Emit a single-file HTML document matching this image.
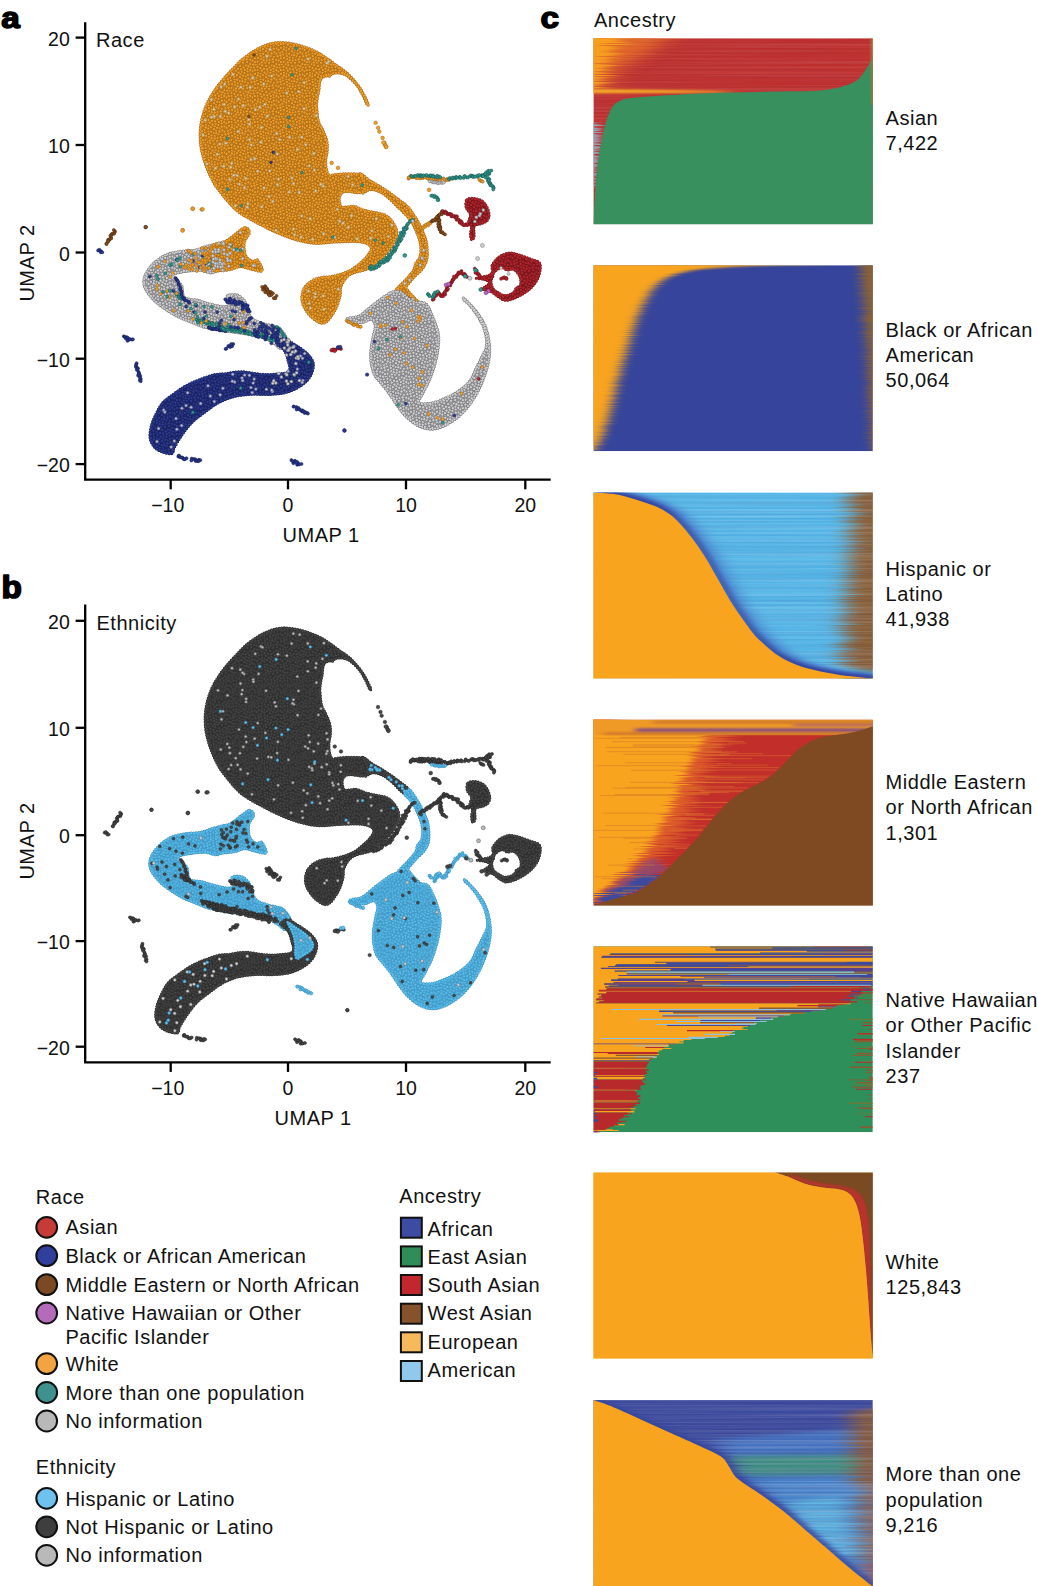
<!DOCTYPE html>
<html lang="en"><head><meta charset="utf-8"><title>UMAP of race, ethnicity and ancestry</title>
<style>
html,body{margin:0;padding:0;background:#fff}
svg{display:block}
text{font-family:"Liberation Sans",Arial,Helvetica,sans-serif;fill:#111}
.t{font-size:20px;letter-spacing:.52px}
.tk{font-size:19.5px}
.pl{font-size:29.5px;font-weight:bold;stroke:#000;stroke-width:1.5px;stroke-linejoin:round;fill:#000}
.ax{stroke:#000;stroke-width:2.3;fill:none;stroke-linecap:butt}
</style></head><body>
<svg width="1037" height="1586" viewBox="0 0 1037 1586">
<rect width="1037" height="1586" fill="#fff"/>

<defs><g id="dt" stroke-width=".62"><circle cx="6.2" cy="14.1" r="1.6"/><circle cx="9.6" cy="15.7" r="1.6"/><circle cx="16.3" cy="1.7" r="1.6"/><circle cx="16.3" cy="27.7" r="1.6"/><circle cx="0.3" cy="21.8" r="1.6"/><circle cx="26.3" cy="21.8" r="1.6"/><circle cx="6.7" cy="6.1" r="1.6"/><circle cx="-0.1" cy="12.2" r="1.6"/><circle cx="25.9" cy="12.2" r="1.6"/><circle cx="21.7" cy="12.4" r="1.6"/><circle cx="16.5" cy="22.6" r="1.6"/><circle cx="13.6" cy="19.3" r="1.6"/><circle cx="19.7" cy="15.4" r="1.6"/><circle cx="7.8" cy="0.8" r="1.6"/><circle cx="7.8" cy="26.8" r="1.6"/><circle cx="18.6" cy="23.9" r="1.6"/><circle cx="10.3" cy="20.8" r="1.6"/><circle cx="11.6" cy="-1.7" r="1.6"/><circle cx="11.6" cy="24.3" r="1.6"/><circle cx="22.9" cy="2.5" r="1.6"/><circle cx="3.5" cy="5.6" r="1.6"/><circle cx="16.3" cy="7.8" r="1.6"/><circle cx="13.2" cy="10.0" r="1.6"/><circle cx="22.3" cy="-0.2" r="1.6"/><circle cx="22.3" cy="25.8" r="1.6"/><circle cx="17.5" cy="4.2" r="1.6"/><circle cx="23.5" cy="14.8" r="1.6"/><circle cx="10.7" cy="3.9" r="1.6"/><circle cx="7.6" cy="20.0" r="1.6"/><circle cx="18.7" cy="8.6" r="1.6"/><circle cx="5.1" cy="10.6" r="1.6"/><circle cx="23.3" cy="9.8" r="1.6"/><circle cx="12.0" cy="13.5" r="1.6"/><circle cx="16.7" cy="15.5" r="1.6"/><circle cx="14.3" cy="0.3" r="1.6"/><circle cx="14.3" cy="26.3" r="1.6"/><circle cx="0.5" cy="16.0" r="1.6"/><circle cx="26.5" cy="16.0" r="1.6"/><circle cx="16.3" cy="12.1" r="1.6"/><circle cx="18.4" cy="19.2" r="1.6"/><circle cx="0.6" cy="1.6" r="1.6"/><circle cx="0.6" cy="27.6" r="1.6"/><circle cx="26.6" cy="1.6" r="1.6"/><circle cx="26.6" cy="27.6" r="1.6"/><circle cx="9.5" cy="8.1" r="1.6"/><circle cx="20.9" cy="6.2" r="1.6"/><circle cx="5.9" cy="3.1" r="1.6"/><circle cx="13.8" cy="5.0" r="1.6"/><circle cx="21.0" cy="21.8" r="1.6"/><circle cx="9.0" cy="10.8" r="1.6"/><circle cx="0.1" cy="-1.5" r="1.6"/><circle cx="0.1" cy="24.5" r="1.6"/><circle cx="26.1" cy="-1.5" r="1.6"/><circle cx="26.1" cy="24.5" r="1.6"/><circle cx="-1.9" cy="5.8" r="1.6"/><circle cx="24.1" cy="5.8" r="1.6"/><circle cx="23.5" cy="18.0" r="1.6"/><circle cx="6.6" cy="22.4" r="1.6"/><circle cx="4.5" cy="20.6" r="1.6"/><circle cx="24.0" cy="21.0" r="1.6"/><circle cx="1.3" cy="7.1" r="1.6"/><circle cx="27.3" cy="7.1" r="1.6"/><circle cx="3.2" cy="1.8" r="1.6"/><circle cx="3.2" cy="27.8" r="1.6"/><circle cx="2.2" cy="13.1" r="1.6"/><circle cx="10.9" cy="18.0" r="1.6"/><circle cx="20.1" cy="1.2" r="1.6"/><circle cx="20.1" cy="27.2" r="1.6"/><circle cx="7.1" cy="17.3" r="1.6"/><circle cx="2.9" cy="23.1" r="1.6"/><circle cx="1.8" cy="18.6" r="1.6"/><circle cx="27.8" cy="18.6" r="1.6"/><circle cx="20.4" cy="3.7" r="1.6"/><circle cx="1.9" cy="10.4" r="1.6"/><circle cx="27.9" cy="10.4" r="1.6"/><circle cx="4.0" cy="16.8" r="1.6"/><circle cx="6.0" cy="-0.9" r="1.6"/><circle cx="6.0" cy="25.1" r="1.6"/><circle cx="13.5" cy="16.6" r="1.6"/><circle cx="12.7" cy="7.3" r="1.6"/><circle cx="9.2" cy="23.8" r="1.6"/><circle cx="13.8" cy="22.7" r="1.6"/><circle cx="11.5" cy="1.5" r="1.6"/><circle cx="11.5" cy="27.5" r="1.6"/><circle cx="19.2" cy="12.6" r="1.6"/><circle cx="20.9" cy="10.1" r="1.6"/><circle cx="23.8" cy="23.4" r="1.6"/><circle cx="20.8" cy="18.1" r="1.6"/><circle cx="16.3" cy="17.9" r="1.6"/><circle cx="14.4" cy="14.2" r="1.6"/><circle cx="6.6" cy="8.6" r="1.6"/><circle cx="3.7" cy="8.2" r="1.6"/><circle cx="0.8" cy="4.0" r="1.6"/><circle cx="26.8" cy="4.0" r="1.6"/><circle cx="8.3" cy="3.2" r="1.6"/></g><pattern id="por" width="26.0" height="26.0" patternUnits="userSpaceOnUse"><rect width="26.0" height="26.0" fill="#ca821e"/><use href="#dt" fill="#f29d28" stroke="#9a6212"/></pattern><pattern id="pgy" width="26.0" height="26.0" patternUnits="userSpaceOnUse"><rect width="26.0" height="26.0" fill="#a3a3a5"/><use href="#dt" fill="#d0d0d3" stroke="#6c6c6e"/></pattern><pattern id="psp" width="26.0" height="26.0" patternUnits="userSpaceOnUse"><rect width="26.0" height="26.0" fill="#b49d6d"/><use href="#dt" fill="#dccaa6" stroke="#9a7f48"/></pattern><pattern id="psg" width="26.0" height="26.0" patternUnits="userSpaceOnUse"><rect width="26.0" height="26.0" fill="#7d7d7d"/><use href="#dt" fill="#b9b9b9" stroke="#555555"/></pattern><pattern id="psb" width="26.0" height="26.0" patternUnits="userSpaceOnUse"><rect width="26.0" height="26.0" fill="#73779b"/><use href="#dt" fill="#b6b8d0" stroke="#474c78"/></pattern><pattern id="pbl" width="26.0" height="26.0" patternUnits="userSpaceOnUse"><rect width="26.0" height="26.0" fill="#1c266a"/><use href="#dt" fill="#2b3a92" stroke="#131a50"/></pattern><pattern id="prd" width="26.0" height="26.0" patternUnits="userSpaceOnUse"><rect width="26.0" height="26.0" fill="#851820"/><use href="#dt" fill="#b8242a" stroke="#64101a"/></pattern><pattern id="ptl" width="26.0" height="26.0" patternUnits="userSpaceOnUse"><rect width="26.0" height="26.0" fill="#207068"/><use href="#dt" fill="#2f9a8f" stroke="#17554f"/></pattern><pattern id="pbr" width="26.0" height="26.0" patternUnits="userSpaceOnUse"><rect width="26.0" height="26.0" fill="#613814"/><use href="#dt" fill="#8a5020" stroke="#47280c"/></pattern><pattern id="ppk" width="26.0" height="26.0" patternUnits="userSpaceOnUse"><rect width="26.0" height="26.0" fill="#8c438c"/><use href="#dt" fill="#c062c0" stroke="#6a2f6a"/></pattern><pattern id="pdk" width="26.0" height="26.0" patternUnits="userSpaceOnUse"><rect width="26.0" height="26.0" fill="#313131"/><use href="#dt" fill="#484848" stroke="#232323"/></pattern><pattern id="plb" width="26.0" height="26.0" patternUnits="userSpaceOnUse"><rect width="26.0" height="26.0" fill="#49a5d2"/><use href="#dt" fill="#5cc1ef" stroke="#3689b6"/></pattern><clipPath id="cp0"><rect x="593.4" y="38.2" width="279.4" height="186.0"/></clipPath><clipPath id="cp1"><rect x="593.4" y="265.2" width="279.4" height="186.0"/></clipPath><clipPath id="cp2"><rect x="593.4" y="492.4" width="279.4" height="186.0"/></clipPath><clipPath id="cp3"><rect x="593.4" y="719.6" width="279.4" height="186.0"/></clipPath><clipPath id="cp4"><rect x="593.4" y="946.2" width="279.4" height="186.0"/></clipPath><clipPath id="cp5"><rect x="593.4" y="1172.6" width="279.4" height="186.0"/></clipPath><clipPath id="cp6"><rect x="593.4" y="1400.1" width="279.4" height="186.0"/></clipPath><filter id="bh" x="-50%" y="-50%" width="200%" height="200%"><feGaussianBlur stdDeviation="7 0.7"/></filter><filter id="bh2" x="-50%" y="-50%" width="200%" height="200%"><feGaussianBlur stdDeviation="3.5 0.9"/></filter><filter id="bs" x="-10%" y="-10%" width="120%" height="120%"><feGaussianBlur stdDeviation="1.1"/></filter><filter id="bm" x="-60%" y="-60%" width="220%" height="220%"><feGaussianBlur stdDeviation="10 2.2"/></filter><filter id="bl" x="-50%" y="-100%" width="200%" height="300%"><feGaussianBlur stdDeviation="9 1.0"/></filter><filter id="b0" x="-5%" y="-5%" width="110%" height="110%"><feGaussianBlur stdDeviation="0.5"/></filter><filter id="st1" x="-60%" y="-30%" width="220%" height="160%" color-interpolation-filters="sRGB"><feTurbulence type="fractalNoise" baseFrequency="0.0015 0.9" numOctaves="1" seed="2" result="n"/><feColorMatrix in="n" type="matrix" values="1.6 0 0 0 -0.3  0 0 0 0 0.5  0 0 0 0 0.5  0 0 0 0 1" result="m"/><feGaussianBlur in="SourceGraphic" stdDeviation="7 0.4" result="b"/><feDisplacementMap in="b" in2="m" scale="40" xChannelSelector="R" yChannelSelector="G"/></filter><filter id="st2" x="-60%" y="-30%" width="220%" height="160%" color-interpolation-filters="sRGB"><feTurbulence type="fractalNoise" baseFrequency="0.0015 0.9" numOctaves="1" seed="5" result="n"/><feColorMatrix in="n" type="matrix" values="1.6 0 0 0 -0.3  0 0 0 0 0.5  0 0 0 0 0.5  0 0 0 0 1" result="m"/><feGaussianBlur in="SourceGraphic" stdDeviation="3.5 0.4" result="b"/><feDisplacementMap in="b" in2="m" scale="22" xChannelSelector="R" yChannelSelector="G"/></filter><filter id="st3" x="-60%" y="-30%" width="220%" height="160%" color-interpolation-filters="sRGB"><feTurbulence type="fractalNoise" baseFrequency="0.0015 0.9" numOctaves="1" seed="8" result="n"/><feColorMatrix in="n" type="matrix" values="1.6 0 0 0 -0.3  0 0 0 0 0.5  0 0 0 0 0.5  0 0 0 0 1" result="m"/><feGaussianBlur in="SourceGraphic" stdDeviation="14 1.0" result="b"/><feDisplacementMap in="b" in2="m" scale="30" xChannelSelector="R" yChannelSelector="G"/></filter><filter id="st5" x="-60%" y="-30%" width="220%" height="160%" color-interpolation-filters="sRGB"><feTurbulence type="fractalNoise" baseFrequency="0.0015 0.9" numOctaves="1" seed="11" result="n"/><feColorMatrix in="n" type="matrix" values="1.6 0 0 0 -0.3  0 0 0 0 0.5  0 0 0 0 0.5  0 0 0 0 1" result="m"/><feGaussianBlur in="SourceGraphic" stdDeviation="5.5 0.8" result="b"/><feDisplacementMap in="b" in2="m" scale="7" xChannelSelector="R" yChannelSelector="G"/></filter><filter id="st6" x="-60%" y="-30%" width="220%" height="160%" color-interpolation-filters="sRGB"><feTurbulence type="fractalNoise" baseFrequency="0.0015 0.9" numOctaves="1" seed="13" result="n"/><feColorMatrix in="n" type="matrix" values="1.6 0 0 0 -0.3  0 0 0 0 0.5  0 0 0 0 0.5  0 0 0 0 1" result="m"/><feGaussianBlur in="SourceGraphic" stdDeviation="10 2.0" result="b"/><feDisplacementMap in="b" in2="m" scale="22" xChannelSelector="R" yChannelSelector="G"/></filter><filter id="st4" x="-60%" y="-30%" width="220%" height="160%" color-interpolation-filters="sRGB"><feTurbulence type="fractalNoise" baseFrequency="0.0015 0.9" numOctaves="1" seed="4" result="n"/><feColorMatrix in="n" type="matrix" values="1.6 0 0 0 -0.3  0 0 0 0 0.5  0 0 0 0 0.5  0 0 0 0 1" result="m"/><feGaussianBlur in="SourceGraphic" stdDeviation="1.2 0.3" result="b"/><feDisplacementMap in="b" in2="m" scale="10" xChannelSelector="R" yChannelSelector="G"/></filter><filter id="txw" x="0" y="0" width="100%" height="100%"><feTurbulence type="fractalNoise" baseFrequency="0.003 0.55" numOctaves="2" seed="7"/><feColorMatrix type="matrix" values="0 0 0 0 1  0 0 0 0 1  0 0 0 0 1  2.2 0 0 0 -0.85"/></filter><filter id="txk" x="0" y="0" width="100%" height="100%"><feTurbulence type="fractalNoise" baseFrequency="0.003 0.6" numOctaves="2" seed="21"/><feColorMatrix type="matrix" values="0 0 0 0 0.05  0 0 0 0 0.05  0 0 0 0 0.25  2.2 0 0 0 -0.85"/></filter></defs>
<g id="plotA"><path d="M277.9 42.5C284.0 42.1 291.4 43.5 297.6 44.9C303.8 46.4 310.1 49.0 314.9 51.1C319.7 53.3 322.5 55.4 326.4 58.0C330.2 60.5 334.7 64.1 337.9 66.4C341.1 68.7 343.0 69.6 345.6 71.8C348.1 73.9 350.6 76.5 353.1 79.4C355.7 82.3 358.5 85.7 360.7 89.2C363.0 92.8 365.6 98.1 366.8 100.6C368.1 103.2 368.2 103.8 368.2 104.4C368.3 105.1 368.0 106.1 367.1 104.6C366.2 103.0 364.5 98.3 362.7 95.0C360.9 91.8 358.9 87.8 356.5 84.8C354.1 81.8 350.7 78.7 348.5 76.9C346.3 75.1 345.5 74.7 343.6 74.0C341.7 73.3 339.0 72.9 337.0 72.9C335.0 72.8 333.0 73.4 331.8 73.9C330.6 74.5 331.0 75.8 330.0 76.2C329.0 76.5 327.4 75.8 326.0 76.1C324.6 76.4 322.6 76.9 321.6 78.0C320.5 79.2 320.1 80.9 319.7 82.9C319.2 84.9 319.3 87.6 319.0 90.0C318.6 92.5 317.8 94.9 317.4 97.7C316.9 100.6 316.6 105.4 316.5 107.2C316.4 108.9 316.5 105.8 316.8 108.1C317.1 110.3 317.3 116.8 318.3 120.6C319.4 124.4 321.7 127.5 323.1 130.8C324.5 134.1 326.1 137.3 326.8 140.6C327.5 143.9 327.5 147.0 327.3 150.3C327.1 153.6 325.9 157.0 325.8 160.4C325.7 163.8 326.1 168.2 326.8 170.8C327.6 173.4 329.1 175.4 330.1 176.1C331.1 176.8 330.3 175.3 332.8 174.9C335.3 174.5 341.3 173.9 345.1 173.7C349.0 173.6 353.1 173.8 355.9 173.9C358.7 174.1 360.4 173.9 362.0 174.8C363.7 175.7 365.4 177.4 365.9 179.3C366.4 181.3 365.8 184.4 364.9 186.6C364.1 188.8 362.5 191.5 360.9 192.5C359.2 193.4 357.2 192.5 355.1 192.4C352.9 192.2 350.1 191.3 348.0 191.4C345.8 191.4 343.8 191.6 342.3 192.6C340.9 193.5 339.8 195.4 339.4 197.2C339.0 199.0 339.4 201.7 339.9 203.4C340.4 205.0 340.2 206.7 342.5 207.2C344.8 207.7 350.1 205.9 353.7 206.3C357.2 206.8 360.0 209.0 363.6 210.0C367.1 211.0 371.4 211.7 374.9 212.5C378.5 213.3 381.9 213.5 384.7 214.9C387.5 216.3 389.8 218.3 391.8 220.9C393.8 223.5 396.0 227.2 396.6 230.4C397.2 233.6 396.6 236.7 395.4 239.9C394.2 243.1 391.5 246.6 389.3 249.6C387.0 252.7 384.4 255.8 381.9 258.3C379.4 260.7 377.0 262.5 374.5 264.4C372.1 266.2 370.0 268.0 367.1 269.2C364.3 270.5 360.2 270.9 357.2 271.8C354.3 272.7 351.6 273.4 349.5 274.8C347.3 276.3 345.6 278.2 344.2 280.3C342.7 282.5 341.4 285.1 340.7 287.7C340.0 290.3 340.9 292.4 340.1 295.9C339.3 299.3 338.0 304.2 336.0 308.3C333.9 312.4 330.3 318.1 327.8 320.6C325.3 323.0 323.6 323.6 320.8 323.0C318.1 322.4 314.2 319.6 311.4 317.0C308.7 314.4 305.8 310.5 304.2 307.3C302.6 304.1 301.8 301.0 301.8 297.8C301.8 294.6 302.6 291.1 304.1 288.3C305.7 285.6 308.5 283.0 311.3 281.2C314.1 279.4 317.4 278.4 321.0 277.6C324.5 276.8 328.6 277.2 332.7 276.3C336.8 275.5 342.1 273.8 345.5 272.5C348.9 271.2 350.7 270.2 353.2 268.6C355.8 266.9 358.5 264.6 360.9 262.5C363.2 260.4 365.6 258.3 367.3 256.0C369.0 253.8 371.1 250.9 371.2 249.0C371.4 247.0 370.5 245.6 368.3 244.4C366.0 243.1 363.2 242.0 357.7 241.7C352.3 241.3 342.5 241.8 335.4 242.0C328.4 242.3 322.1 243.7 315.5 243.3C308.8 242.9 302.3 241.4 295.7 239.6C289.0 237.7 282.4 235.0 275.7 232.1C269.1 229.2 262.4 225.8 255.8 222.1C249.1 218.4 242.1 215.1 235.9 209.7C229.7 204.3 222.7 195.2 218.5 189.8C214.4 184.5 213.4 182.0 211.1 177.5C208.8 172.9 206.7 167.9 204.9 162.6C203.2 157.2 201.4 151.4 200.7 145.2C200.0 139.1 199.8 132.1 200.7 125.5C201.6 118.9 203.6 111.9 206.1 105.7C208.7 99.5 212.3 93.7 216.0 88.4C219.8 83.0 223.9 78.4 228.5 73.4C233.1 68.5 238.0 62.9 243.4 58.5C248.8 54.2 255.0 50.1 260.7 47.4C266.5 44.7 271.7 42.9 277.9 42.5Z" fill="none" stroke="#9a6212" stroke-width="3.1" stroke-dasharray="0 2.7" stroke-linecap="round"/><path d="M277.9 42.5C284.0 42.1 291.4 43.5 297.6 44.9C303.8 46.4 310.1 49.0 314.9 51.1C319.7 53.3 322.5 55.4 326.4 58.0C330.2 60.5 334.7 64.1 337.9 66.4C341.1 68.7 343.0 69.6 345.6 71.8C348.1 73.9 350.6 76.5 353.1 79.4C355.7 82.3 358.5 85.7 360.7 89.2C363.0 92.8 365.6 98.1 366.8 100.6C368.1 103.2 368.2 103.8 368.2 104.4C368.3 105.1 368.0 106.1 367.1 104.6C366.2 103.0 364.5 98.3 362.7 95.0C360.9 91.8 358.9 87.8 356.5 84.8C354.1 81.8 350.7 78.7 348.5 76.9C346.3 75.1 345.5 74.7 343.6 74.0C341.7 73.3 339.0 72.9 337.0 72.9C335.0 72.8 333.0 73.4 331.8 73.9C330.6 74.5 331.0 75.8 330.0 76.2C329.0 76.5 327.4 75.8 326.0 76.1C324.6 76.4 322.6 76.9 321.6 78.0C320.5 79.2 320.1 80.9 319.7 82.9C319.2 84.9 319.3 87.6 319.0 90.0C318.6 92.5 317.8 94.9 317.4 97.7C316.9 100.6 316.6 105.4 316.5 107.2C316.4 108.9 316.5 105.8 316.8 108.1C317.1 110.3 317.3 116.8 318.3 120.6C319.4 124.4 321.7 127.5 323.1 130.8C324.5 134.1 326.1 137.3 326.8 140.6C327.5 143.9 327.5 147.0 327.3 150.3C327.1 153.6 325.9 157.0 325.8 160.4C325.7 163.8 326.1 168.2 326.8 170.8C327.6 173.4 329.1 175.4 330.1 176.1C331.1 176.8 330.3 175.3 332.8 174.9C335.3 174.5 341.3 173.9 345.1 173.7C349.0 173.6 353.1 173.8 355.9 173.9C358.7 174.1 360.4 173.9 362.0 174.8C363.7 175.7 365.4 177.4 365.9 179.3C366.4 181.3 365.8 184.4 364.9 186.6C364.1 188.8 362.5 191.5 360.9 192.5C359.2 193.4 357.2 192.5 355.1 192.4C352.9 192.2 350.1 191.3 348.0 191.4C345.8 191.4 343.8 191.6 342.3 192.6C340.9 193.5 339.8 195.4 339.4 197.2C339.0 199.0 339.4 201.7 339.9 203.4C340.4 205.0 340.2 206.7 342.5 207.2C344.8 207.7 350.1 205.9 353.7 206.3C357.2 206.8 360.0 209.0 363.6 210.0C367.1 211.0 371.4 211.7 374.9 212.5C378.5 213.3 381.9 213.5 384.7 214.9C387.5 216.3 389.8 218.3 391.8 220.9C393.8 223.5 396.0 227.2 396.6 230.4C397.2 233.6 396.6 236.7 395.4 239.9C394.2 243.1 391.5 246.6 389.3 249.6C387.0 252.7 384.4 255.8 381.9 258.3C379.4 260.7 377.0 262.5 374.5 264.4C372.1 266.2 370.0 268.0 367.1 269.2C364.3 270.5 360.2 270.9 357.2 271.8C354.3 272.7 351.6 273.4 349.5 274.8C347.3 276.3 345.6 278.2 344.2 280.3C342.7 282.5 341.4 285.1 340.7 287.7C340.0 290.3 340.9 292.4 340.1 295.9C339.3 299.3 338.0 304.2 336.0 308.3C333.9 312.4 330.3 318.1 327.8 320.6C325.3 323.0 323.6 323.6 320.8 323.0C318.1 322.4 314.2 319.6 311.4 317.0C308.7 314.4 305.8 310.5 304.2 307.3C302.6 304.1 301.8 301.0 301.8 297.8C301.8 294.6 302.6 291.1 304.1 288.3C305.7 285.6 308.5 283.0 311.3 281.2C314.1 279.4 317.4 278.4 321.0 277.6C324.5 276.8 328.6 277.2 332.7 276.3C336.8 275.5 342.1 273.8 345.5 272.5C348.9 271.2 350.7 270.2 353.2 268.6C355.8 266.9 358.5 264.6 360.9 262.5C363.2 260.4 365.6 258.3 367.3 256.0C369.0 253.8 371.1 250.9 371.2 249.0C371.4 247.0 370.5 245.6 368.3 244.4C366.0 243.1 363.2 242.0 357.7 241.7C352.3 241.3 342.5 241.8 335.4 242.0C328.4 242.3 322.1 243.7 315.5 243.3C308.8 242.9 302.3 241.4 295.7 239.6C289.0 237.7 282.4 235.0 275.7 232.1C269.1 229.2 262.4 225.8 255.8 222.1C249.1 218.4 242.1 215.1 235.9 209.7C229.7 204.3 222.7 195.2 218.5 189.8C214.4 184.5 213.4 182.0 211.1 177.5C208.8 172.9 206.7 167.9 204.9 162.6C203.2 157.2 201.4 151.4 200.7 145.2C200.0 139.1 199.8 132.1 200.7 125.5C201.6 118.9 203.6 111.9 206.1 105.7C208.7 99.5 212.3 93.7 216.0 88.4C219.8 83.0 223.9 78.4 228.5 73.4C233.1 68.5 238.0 62.9 243.4 58.5C248.8 54.2 255.0 50.1 260.7 47.4C266.5 44.7 271.7 42.9 277.9 42.5Z" fill="url(#por)" fill-rule="evenodd" stroke="#f29d28" stroke-width="2.0" stroke-dasharray="0 2.7" stroke-linecap="round"/><path d="M360.3 173.9C361.2 173.2 366.8 178.6 369.8 180.6C372.9 182.5 375.3 183.5 378.6 185.6C382.0 187.6 386.3 190.6 389.9 193.0C393.4 195.5 397.1 198.4 399.9 200.5C402.6 202.7 406.1 204.4 406.5 206.0C406.8 207.7 404.6 211.5 402.0 210.5C399.3 209.4 394.1 202.7 390.6 199.7C387.0 196.6 383.9 193.8 380.4 192.1C377.0 190.4 373.1 189.4 370.1 189.6C367.0 189.7 363.3 193.8 362.4 193.1C361.4 192.3 364.9 188.2 364.5 185.0C364.2 181.8 359.5 174.7 360.3 173.9Z" fill="none" stroke="#9a6212" stroke-width="3.1" stroke-dasharray="0 2.7" stroke-linecap="round"/><path d="M360.3 173.9C361.2 173.2 366.8 178.6 369.8 180.6C372.9 182.5 375.3 183.5 378.6 185.6C382.0 187.6 386.3 190.6 389.9 193.0C393.4 195.5 397.1 198.4 399.9 200.5C402.6 202.7 406.1 204.4 406.5 206.0C406.8 207.7 404.6 211.5 402.0 210.5C399.3 209.4 394.1 202.7 390.6 199.7C387.0 196.6 383.9 193.8 380.4 192.1C377.0 190.4 373.1 189.4 370.1 189.6C367.0 189.7 363.3 193.8 362.4 193.1C361.4 192.3 364.9 188.2 364.5 185.0C364.2 181.8 359.5 174.7 360.3 173.9Z" fill="url(#por)" fill-rule="evenodd" stroke="#f29d28" stroke-width="2.0" stroke-dasharray="0 2.7" stroke-linecap="round"/><path d="M407.0 206.5C408.2 206.3 408.2 206.9 409.9 209.3C411.6 211.6 415.3 216.9 417.3 220.5C419.4 224.0 420.8 227.1 422.3 230.4C423.8 233.7 425.2 237.1 426.1 240.4C426.9 243.7 427.1 247.0 427.3 250.3C427.4 253.6 427.5 257.1 426.7 260.2C425.9 263.2 424.3 266.1 422.4 268.8C420.4 271.5 417.4 273.5 414.9 276.2C412.4 279.0 408.8 283.1 407.3 285.1C405.9 287.1 405.2 286.3 406.3 288.3C407.3 290.3 411.2 294.4 413.6 297.1C416.0 299.7 419.6 302.5 420.5 304.0C421.3 305.5 420.6 306.7 418.9 306.0C417.2 305.2 413.1 301.6 410.3 299.6C407.5 297.5 404.6 294.7 402.2 293.5C399.9 292.3 397.5 292.7 396.4 292.1C395.3 291.5 395.0 291.3 395.7 290.1C396.4 288.9 398.7 286.9 400.6 284.9C402.5 282.9 404.8 280.7 406.9 278.3C409.0 275.9 411.8 273.1 413.3 270.6C414.8 268.0 414.8 265.1 415.8 263.1C416.8 261.0 418.7 260.1 419.5 258.0C420.3 255.9 420.8 253.3 420.8 250.3C420.9 247.3 420.6 244.0 419.5 240.2C418.5 236.4 416.4 231.3 414.5 227.5C412.6 223.7 410.2 220.1 408.2 217.4C406.3 214.6 402.8 212.8 402.5 211.0C402.3 209.2 405.8 206.8 407.0 206.5Z" fill="none" stroke="#9a6212" stroke-width="3.1" stroke-dasharray="0 2.7" stroke-linecap="round"/><path d="M407.0 206.5C408.2 206.3 408.2 206.9 409.9 209.3C411.6 211.6 415.3 216.9 417.3 220.5C419.4 224.0 420.8 227.1 422.3 230.4C423.8 233.7 425.2 237.1 426.1 240.4C426.9 243.7 427.1 247.0 427.3 250.3C427.4 253.6 427.5 257.1 426.7 260.2C425.9 263.2 424.3 266.1 422.4 268.8C420.4 271.5 417.4 273.5 414.9 276.2C412.4 279.0 408.8 283.1 407.3 285.1C405.9 287.1 405.2 286.3 406.3 288.3C407.3 290.3 411.2 294.4 413.6 297.1C416.0 299.7 419.6 302.5 420.5 304.0C421.3 305.5 420.6 306.7 418.9 306.0C417.2 305.2 413.1 301.6 410.3 299.6C407.5 297.5 404.6 294.7 402.2 293.5C399.9 292.3 397.5 292.7 396.4 292.1C395.3 291.5 395.0 291.3 395.7 290.1C396.4 288.9 398.7 286.9 400.6 284.9C402.5 282.9 404.8 280.7 406.9 278.3C409.0 275.9 411.8 273.1 413.3 270.6C414.8 268.0 414.8 265.1 415.8 263.1C416.8 261.0 418.7 260.1 419.5 258.0C420.3 255.9 420.8 253.3 420.8 250.3C420.9 247.3 420.6 244.0 419.5 240.2C418.5 236.4 416.4 231.3 414.5 227.5C412.6 223.7 410.2 220.1 408.2 217.4C406.3 214.6 402.8 212.8 402.5 211.0C402.3 209.2 405.8 206.8 407.0 206.5Z" fill="url(#por)" fill-rule="evenodd" stroke="#f29d28" stroke-width="2.0" stroke-dasharray="0 2.7" stroke-linecap="round"/><path d="M390.4 292.9C394.1 291.3 396.6 290.5 400.3 291.9C404.1 293.3 408.7 299.4 412.9 301.4C417.1 303.3 422.3 301.3 425.4 303.4C428.5 305.4 429.7 310.1 431.4 313.5C433.1 317.0 434.4 320.2 435.6 324.0C436.8 327.8 438.4 332.0 438.7 336.5C439.1 341.0 438.4 346.2 437.7 351.1C437.0 355.9 435.9 360.9 434.5 365.8C433.1 370.7 431.2 375.9 429.3 380.5C427.3 385.0 424.7 389.4 422.9 393.1C421.2 396.8 417.5 401.0 418.7 402.7C420.0 404.4 426.4 403.9 430.5 403.3C434.6 402.6 439.2 400.7 443.5 398.9C447.8 397.2 452.1 395.4 456.4 392.5C460.7 389.6 466.1 385.6 469.4 381.6C472.6 377.7 473.7 373.0 475.9 368.7C478.0 364.4 480.5 359.9 482.3 355.9C484.1 352.0 486.2 349.4 486.6 345.0C487.0 340.6 485.9 334.4 484.4 329.7C483.0 324.9 480.5 320.8 478.0 316.7C475.4 312.5 471.7 307.7 469.4 304.9C467.0 302.1 464.5 300.9 463.7 299.9C462.9 298.9 462.6 297.0 464.7 298.9C466.7 300.8 472.8 307.0 476.1 311.2C479.4 315.4 482.3 319.5 484.4 324.1C486.5 328.7 487.7 333.8 488.6 338.7C489.4 343.5 490.0 348.1 489.6 353.3C489.3 358.5 488.1 364.4 486.5 370.0C484.9 375.6 482.6 381.5 480.2 386.8C477.7 392.0 474.9 396.9 471.8 401.5C468.7 406.0 465.2 410.4 461.3 414.0C457.5 417.7 453.0 421.0 448.8 423.4C444.7 425.8 440.2 427.7 436.4 428.6C432.7 429.4 429.7 429.3 426.3 428.6C422.9 427.9 419.5 426.5 416.0 424.5C412.6 422.4 408.8 419.3 405.7 416.2C402.5 413.0 400.1 409.6 397.3 405.7C394.5 401.8 391.6 396.9 388.8 393.0C386.0 389.1 382.8 385.5 380.3 382.3C377.9 379.2 375.6 377.5 374.1 374.1C372.5 370.6 371.5 365.8 371.0 361.7C370.5 357.5 370.6 353.4 371.0 349.2C371.3 345.0 372.4 340.5 373.1 336.6C373.8 332.6 375.5 328.4 375.2 325.6C374.9 322.7 373.5 319.9 371.3 319.4C369.1 318.9 365.4 322.0 362.2 322.5C359.0 323.0 354.6 322.9 352.1 322.5C349.7 322.1 348.2 320.8 347.6 320.1C347.0 319.3 346.5 318.8 348.3 318.1C350.2 317.5 355.5 317.6 358.7 316.2C361.8 314.8 364.2 312.2 367.4 309.7C370.6 307.2 374.1 304.0 378.0 301.2C381.8 298.4 386.7 294.5 390.4 292.9Z" fill="none" stroke="#6c6c6e" stroke-width="3.1" stroke-dasharray="0 2.7" stroke-linecap="round"/><path d="M390.4 292.9C394.1 291.3 396.6 290.5 400.3 291.9C404.1 293.3 408.7 299.4 412.9 301.4C417.1 303.3 422.3 301.3 425.4 303.4C428.5 305.4 429.7 310.1 431.4 313.5C433.1 317.0 434.4 320.2 435.6 324.0C436.8 327.8 438.4 332.0 438.7 336.5C439.1 341.0 438.4 346.2 437.7 351.1C437.0 355.9 435.9 360.9 434.5 365.8C433.1 370.7 431.2 375.9 429.3 380.5C427.3 385.0 424.7 389.4 422.9 393.1C421.2 396.8 417.5 401.0 418.7 402.7C420.0 404.4 426.4 403.9 430.5 403.3C434.6 402.6 439.2 400.7 443.5 398.9C447.8 397.2 452.1 395.4 456.4 392.5C460.7 389.6 466.1 385.6 469.4 381.6C472.6 377.7 473.7 373.0 475.9 368.7C478.0 364.4 480.5 359.9 482.3 355.9C484.1 352.0 486.2 349.4 486.6 345.0C487.0 340.6 485.9 334.4 484.4 329.7C483.0 324.9 480.5 320.8 478.0 316.7C475.4 312.5 471.7 307.7 469.4 304.9C467.0 302.1 464.5 300.9 463.7 299.9C462.9 298.9 462.6 297.0 464.7 298.9C466.7 300.8 472.8 307.0 476.1 311.2C479.4 315.4 482.3 319.5 484.4 324.1C486.5 328.7 487.7 333.8 488.6 338.7C489.4 343.5 490.0 348.1 489.6 353.3C489.3 358.5 488.1 364.4 486.5 370.0C484.9 375.6 482.6 381.5 480.2 386.8C477.7 392.0 474.9 396.9 471.8 401.5C468.7 406.0 465.2 410.4 461.3 414.0C457.5 417.7 453.0 421.0 448.8 423.4C444.7 425.8 440.2 427.7 436.4 428.6C432.7 429.4 429.7 429.3 426.3 428.6C422.9 427.9 419.5 426.5 416.0 424.5C412.6 422.4 408.8 419.3 405.7 416.2C402.5 413.0 400.1 409.6 397.3 405.7C394.5 401.8 391.6 396.9 388.8 393.0C386.0 389.1 382.8 385.5 380.3 382.3C377.9 379.2 375.6 377.5 374.1 374.1C372.5 370.6 371.5 365.8 371.0 361.7C370.5 357.5 370.6 353.4 371.0 349.2C371.3 345.0 372.4 340.5 373.1 336.6C373.8 332.6 375.5 328.4 375.2 325.6C374.9 322.7 373.5 319.9 371.3 319.4C369.1 318.9 365.4 322.0 362.2 322.5C359.0 323.0 354.6 322.9 352.1 322.5C349.7 322.1 348.2 320.8 347.6 320.1C347.0 319.3 346.5 318.8 348.3 318.1C350.2 317.5 355.5 317.6 358.7 316.2C361.8 314.8 364.2 312.2 367.4 309.7C370.6 307.2 374.1 304.0 378.0 301.2C381.8 298.4 386.7 294.5 390.4 292.9Z" fill="url(#pgy)" fill-rule="evenodd" stroke="#d0d0d3" stroke-width="2.0" stroke-dasharray="0 2.7" stroke-linecap="round"/><path d="M214.6 246.0C211.5 242.5 201.2 249.2 195.5 250.0C189.8 250.9 185.4 250.5 180.5 251.3C175.5 252.1 170.2 252.9 165.7 255.0C161.2 257.0 156.7 260.5 153.5 263.5C150.2 266.6 147.8 270.0 146.2 273.2C144.6 276.4 143.6 279.5 143.8 282.7C144.0 285.8 145.4 289.0 147.4 292.2C149.4 295.4 152.9 299.1 156.0 302.0C159.1 304.8 162.2 306.9 165.9 309.4C169.6 311.9 174.1 314.8 178.3 316.8C182.4 318.9 186.6 320.1 190.7 321.8C194.9 323.5 198.2 325.3 203.2 326.8C208.1 328.2 214.3 329.5 220.6 330.5C226.8 331.5 233.9 332.0 240.6 333.0C247.3 334.1 255.4 335.1 260.9 336.8C266.4 338.5 270.2 341.2 273.6 343.2C277.1 345.2 279.4 349.3 281.6 348.8C283.8 348.4 286.8 343.3 286.9 340.4C287.1 337.4 284.2 333.5 282.2 331.2C280.2 328.8 277.9 327.6 275.1 326.4C272.3 325.2 269.0 325.3 265.2 324.0C261.4 322.7 255.3 321.3 252.2 318.7C249.2 316.1 248.2 311.2 246.9 308.3C245.6 305.3 246.1 303.1 244.5 300.9C243.0 298.8 240.2 296.1 237.6 295.1C234.9 294.1 230.3 294.4 228.6 294.9C227.0 295.5 226.3 297.5 227.6 298.4C228.9 299.3 236.9 298.8 236.6 300.1C236.2 301.5 230.0 305.8 225.6 306.5C221.2 307.1 214.8 305.0 210.1 303.9C205.4 302.9 201.8 301.3 197.5 300.2C193.3 299.1 187.1 299.8 184.5 297.4C181.9 295.0 183.0 288.5 181.8 285.8C180.5 283.1 178.4 282.8 176.9 281.0C175.4 279.2 171.6 276.4 172.9 274.8C174.3 273.3 180.5 272.3 185.1 271.6C189.7 270.8 195.4 270.3 200.3 270.3C205.2 270.3 212.2 275.4 214.6 271.4C217.0 267.3 217.8 249.6 214.6 246.0Z" fill="none" stroke="#6c6c6e" stroke-width="3.1" stroke-dasharray="0 2.7" stroke-linecap="round"/><path d="M214.6 246.0C211.5 242.5 201.2 249.2 195.5 250.0C189.8 250.9 185.4 250.5 180.5 251.3C175.5 252.1 170.2 252.9 165.7 255.0C161.2 257.0 156.7 260.5 153.5 263.5C150.2 266.6 147.8 270.0 146.2 273.2C144.6 276.4 143.6 279.5 143.8 282.7C144.0 285.8 145.4 289.0 147.4 292.2C149.4 295.4 152.9 299.1 156.0 302.0C159.1 304.8 162.2 306.9 165.9 309.4C169.6 311.9 174.1 314.8 178.3 316.8C182.4 318.9 186.6 320.1 190.7 321.8C194.9 323.5 198.2 325.3 203.2 326.8C208.1 328.2 214.3 329.5 220.6 330.5C226.8 331.5 233.9 332.0 240.6 333.0C247.3 334.1 255.4 335.1 260.9 336.8C266.4 338.5 270.2 341.2 273.6 343.2C277.1 345.2 279.4 349.3 281.6 348.8C283.8 348.4 286.8 343.3 286.9 340.4C287.1 337.4 284.2 333.5 282.2 331.2C280.2 328.8 277.9 327.6 275.1 326.4C272.3 325.2 269.0 325.3 265.2 324.0C261.4 322.7 255.3 321.3 252.2 318.7C249.2 316.1 248.2 311.2 246.9 308.3C245.6 305.3 246.1 303.1 244.5 300.9C243.0 298.8 240.2 296.1 237.6 295.1C234.9 294.1 230.3 294.4 228.6 294.9C227.0 295.5 226.3 297.5 227.6 298.4C228.9 299.3 236.9 298.8 236.6 300.1C236.2 301.5 230.0 305.8 225.6 306.5C221.2 307.1 214.8 305.0 210.1 303.9C205.4 302.9 201.8 301.3 197.5 300.2C193.3 299.1 187.1 299.8 184.5 297.4C181.9 295.0 183.0 288.5 181.8 285.8C180.5 283.1 178.4 282.8 176.9 281.0C175.4 279.2 171.6 276.4 172.9 274.8C174.3 273.3 180.5 272.3 185.1 271.6C189.7 270.8 195.4 270.3 200.3 270.3C205.2 270.3 212.2 275.4 214.6 271.4C217.0 267.3 217.8 249.6 214.6 246.0Z" fill="url(#pgy)" fill-rule="evenodd" stroke="#d0d0d3" stroke-width="2.0" stroke-dasharray="0 2.7" stroke-linecap="round"/><path d="M245.3 227.5C247.5 227.3 249.5 230.2 249.3 232.7C249.2 235.2 244.9 238.6 244.3 242.4C243.7 246.3 244.3 252.6 245.7 255.7C247.1 258.9 250.8 260.6 252.7 261.3C254.7 262.0 255.9 258.4 257.5 260.0C259.0 261.5 263.2 269.3 262.1 270.8C261.0 272.3 254.3 269.8 250.7 269.1C247.1 268.4 243.8 266.5 240.4 266.6C237.0 266.6 233.5 268.9 230.2 269.6C226.9 270.3 223.2 270.6 220.4 270.6C217.7 270.5 215.2 273.4 213.7 269.4C212.2 265.5 209.3 251.7 211.4 247.0C213.4 242.3 221.9 243.4 226.0 241.1C230.1 238.9 232.9 235.8 236.1 233.5C239.3 231.3 243.1 227.6 245.3 227.5Z" fill="none" stroke="#9a6212" stroke-width="3.1" stroke-dasharray="0 2.7" stroke-linecap="round"/><path d="M245.3 227.5C247.5 227.3 249.5 230.2 249.3 232.7C249.2 235.2 244.9 238.6 244.3 242.4C243.7 246.3 244.3 252.6 245.7 255.7C247.1 258.9 250.8 260.6 252.7 261.3C254.7 262.0 255.9 258.4 257.5 260.0C259.0 261.5 263.2 269.3 262.1 270.8C261.0 272.3 254.3 269.8 250.7 269.1C247.1 268.4 243.8 266.5 240.4 266.6C237.0 266.6 233.5 268.9 230.2 269.6C226.9 270.3 223.2 270.6 220.4 270.6C217.7 270.5 215.2 273.4 213.7 269.4C212.2 265.5 209.3 251.7 211.4 247.0C213.4 242.3 221.9 243.4 226.0 241.1C230.1 238.9 232.9 235.8 236.1 233.5C239.3 231.3 243.1 227.6 245.3 227.5Z" fill="url(#por)" fill-rule="evenodd" stroke="#f29d28" stroke-width="2.0" stroke-dasharray="0 2.7" stroke-linecap="round"/><path d="M276.7 343.0C276.7 345.0 282.2 347.0 284.0 349.8C285.9 352.7 287.1 356.6 288.0 360.2C288.8 363.8 291.1 368.9 289.0 371.2C287.0 373.5 280.4 373.7 275.7 374.2C270.9 374.7 266.3 374.6 260.4 374.2C254.6 373.7 246.3 371.7 240.5 371.7C234.6 371.6 229.8 373.2 225.5 373.7C221.3 374.1 218.6 373.9 215.1 374.5C211.6 375.2 208.1 376.5 204.6 377.7C201.1 378.9 197.6 380.3 194.1 381.8C190.6 383.4 187.1 385.0 183.6 387.1C180.1 389.2 176.6 391.8 173.1 394.4C169.6 397.0 165.5 399.5 162.7 402.8C159.9 406.0 158.1 409.8 156.2 413.6C154.3 417.5 152.3 421.9 151.3 426.0C150.3 430.0 149.5 434.4 150.1 438.0C150.6 441.6 152.6 445.1 154.8 447.5C156.9 449.8 160.2 451.2 163.1 452.2C166.0 453.2 170.3 454.3 172.2 453.5C174.0 452.8 172.6 450.8 174.2 447.7C175.8 444.7 178.9 439.3 181.8 435.1C184.8 430.8 188.2 426.2 192.0 422.4C195.8 418.6 200.4 415.4 204.7 412.2C208.9 409.1 212.7 405.9 217.3 403.4C222.0 400.8 227.1 398.5 232.6 397.0C238.1 395.5 244.1 394.9 250.4 394.4C256.7 394.0 264.2 394.8 270.5 394.4C276.7 394.0 282.4 393.6 287.8 392.0C293.1 390.3 298.6 387.5 302.4 384.6C306.3 381.8 309.1 378.6 310.9 375.0C312.7 371.4 313.9 366.7 313.3 363.2C312.7 359.6 309.9 356.5 307.3 353.7C304.7 350.9 300.6 348.5 297.5 346.4C294.4 344.2 290.9 342.3 288.7 340.9C286.5 339.5 286.4 337.5 284.4 337.8C282.4 338.2 276.8 341.0 276.7 343.0Z" fill="none" stroke="#131a50" stroke-width="3.1" stroke-dasharray="0 2.7" stroke-linecap="round"/><path d="M276.7 343.0C276.7 345.0 282.2 347.0 284.0 349.8C285.9 352.7 287.1 356.6 288.0 360.2C288.8 363.8 291.1 368.9 289.0 371.2C287.0 373.5 280.4 373.7 275.7 374.2C270.9 374.7 266.3 374.6 260.4 374.2C254.6 373.7 246.3 371.7 240.5 371.7C234.6 371.6 229.8 373.2 225.5 373.7C221.3 374.1 218.6 373.9 215.1 374.5C211.6 375.2 208.1 376.5 204.6 377.7C201.1 378.9 197.6 380.3 194.1 381.8C190.6 383.4 187.1 385.0 183.6 387.1C180.1 389.2 176.6 391.8 173.1 394.4C169.6 397.0 165.5 399.5 162.7 402.8C159.9 406.0 158.1 409.8 156.2 413.6C154.3 417.5 152.3 421.9 151.3 426.0C150.3 430.0 149.5 434.4 150.1 438.0C150.6 441.6 152.6 445.1 154.8 447.5C156.9 449.8 160.2 451.2 163.1 452.2C166.0 453.2 170.3 454.3 172.2 453.5C174.0 452.8 172.6 450.8 174.2 447.7C175.8 444.7 178.9 439.3 181.8 435.1C184.8 430.8 188.2 426.2 192.0 422.4C195.8 418.6 200.4 415.4 204.7 412.2C208.9 409.1 212.7 405.9 217.3 403.4C222.0 400.8 227.1 398.5 232.6 397.0C238.1 395.5 244.1 394.9 250.4 394.4C256.7 394.0 264.2 394.8 270.5 394.4C276.7 394.0 282.4 393.6 287.8 392.0C293.1 390.3 298.6 387.5 302.4 384.6C306.3 381.8 309.1 378.6 310.9 375.0C312.7 371.4 313.9 366.7 313.3 363.2C312.7 359.6 309.9 356.5 307.3 353.7C304.7 350.9 300.6 348.5 297.5 346.4C294.4 344.2 290.9 342.3 288.7 340.9C286.5 339.5 286.4 337.5 284.4 337.8C282.4 338.2 276.8 341.0 276.7 343.0Z" fill="url(#pbl)" fill-rule="evenodd" stroke="#2b3a92" stroke-width="2.0" stroke-dasharray="0 2.7" stroke-linecap="round"/><g fill="#2b3a92" stroke="#131a50" stroke-width=".55"><circle cx="208.9" cy="327.7" r="1.5"/><circle cx="209.2" cy="327.2" r="1.5"/><circle cx="209.8" cy="327.4" r="1.5"/><circle cx="211.3" cy="328.9" r="1.5"/><circle cx="212.2" cy="328.8" r="1.5"/><circle cx="213.2" cy="329.1" r="1.5"/><circle cx="214.1" cy="328.7" r="1.5"/><circle cx="216.0" cy="328.1" r="1.5"/><circle cx="216.0" cy="329.3" r="1.5"/><circle cx="217.4" cy="329.2" r="1.5"/><circle cx="219.6" cy="330.3" r="1.5"/><circle cx="220.1" cy="330.0" r="1.5"/><circle cx="220.3" cy="330.2" r="1.5"/><circle cx="221.4" cy="329.3" r="1.5"/><circle cx="222.8" cy="330.5" r="1.5"/><circle cx="225.3" cy="331.1" r="1.5"/><circle cx="225.6" cy="330.8" r="1.5"/></g><g fill="#2f9a8f" stroke="#17554f" stroke-width=".55"><circle cx="197.4" cy="320.1" r="1.5"/><circle cx="196.4" cy="319.5" r="1.5"/><circle cx="198.6" cy="320.9" r="1.5"/><circle cx="197.9" cy="321.1" r="1.5"/><circle cx="198.0" cy="322.7" r="1.5"/><circle cx="201.7" cy="321.6" r="1.5"/><circle cx="200.1" cy="320.5" r="1.5"/><circle cx="201.5" cy="320.5" r="1.5"/><circle cx="202.0" cy="322.6" r="1.5"/><circle cx="204.6" cy="321.1" r="1.5"/><circle cx="203.7" cy="321.9" r="1.5"/><circle cx="203.9" cy="321.3" r="1.5"/><circle cx="206.5" cy="323.4" r="1.5"/><circle cx="208.0" cy="321.9" r="1.5"/><circle cx="207.6" cy="322.9" r="1.5"/><circle cx="209.2" cy="322.8" r="1.5"/><circle cx="209.9" cy="323.4" r="1.5"/><circle cx="209.7" cy="324.4" r="1.5"/><circle cx="212.4" cy="323.3" r="1.5"/><circle cx="212.1" cy="323.6" r="1.5"/><circle cx="212.1" cy="323.0" r="1.5"/><circle cx="212.7" cy="325.5" r="1.5"/><circle cx="213.2" cy="324.4" r="1.5"/><circle cx="216.8" cy="323.5" r="1.5"/><circle cx="218.1" cy="326.1" r="1.5"/><circle cx="218.4" cy="325.1" r="1.5"/><circle cx="218.8" cy="326.3" r="1.5"/><circle cx="216.9" cy="325.1" r="1.5"/><circle cx="221.0" cy="325.7" r="1.5"/><circle cx="220.9" cy="324.8" r="1.5"/><circle cx="222.4" cy="328.2" r="1.5"/><circle cx="222.2" cy="327.5" r="1.5"/><circle cx="221.7" cy="327.7" r="1.5"/><circle cx="223.7" cy="328.4" r="1.5"/><circle cx="222.3" cy="327.5" r="1.5"/><circle cx="223.5" cy="328.4" r="1.5"/><circle cx="224.4" cy="329.7" r="1.5"/><circle cx="227.1" cy="327.5" r="1.5"/><circle cx="229.0" cy="329.3" r="1.5"/><circle cx="227.4" cy="329.9" r="1.5"/><circle cx="229.5" cy="327.4" r="1.5"/><circle cx="228.8" cy="327.2" r="1.5"/><circle cx="230.8" cy="329.8" r="1.5"/><circle cx="230.5" cy="327.9" r="1.5"/><circle cx="231.5" cy="330.9" r="1.5"/><circle cx="231.5" cy="328.2" r="1.5"/><circle cx="232.8" cy="330.3" r="1.5"/><circle cx="233.9" cy="330.4" r="1.5"/><circle cx="234.9" cy="329.0" r="1.5"/><circle cx="234.4" cy="331.6" r="1.5"/><circle cx="236.1" cy="329.2" r="1.5"/><circle cx="237.6" cy="331.3" r="1.5"/><circle cx="240.1" cy="329.3" r="1.5"/><circle cx="240.6" cy="332.1" r="1.5"/><circle cx="239.9" cy="332.4" r="1.5"/><circle cx="241.8" cy="330.4" r="1.5"/><circle cx="242.1" cy="330.4" r="1.5"/><circle cx="241.7" cy="330.2" r="1.5"/><circle cx="244.8" cy="333.1" r="1.5"/><circle cx="245.1" cy="332.7" r="1.5"/><circle cx="246.5" cy="331.5" r="1.5"/><circle cx="243.6" cy="330.9" r="1.5"/><circle cx="247.5" cy="332.7" r="1.5"/><circle cx="248.6" cy="334.1" r="1.5"/><circle cx="246.8" cy="331.1" r="1.5"/><circle cx="248.2" cy="333.3" r="1.5"/><circle cx="250.4" cy="332.8" r="1.5"/><circle cx="249.9" cy="332.1" r="1.5"/><circle cx="252.4" cy="333.6" r="1.5"/><circle cx="250.0" cy="333.7" r="1.5"/><circle cx="252.5" cy="335.2" r="1.5"/><circle cx="254.1" cy="333.3" r="1.5"/><circle cx="254.4" cy="333.7" r="1.5"/><circle cx="256.2" cy="336.1" r="1.5"/><circle cx="256.4" cy="333.6" r="1.5"/><circle cx="258.4" cy="336.5" r="1.5"/><circle cx="258.8" cy="336.2" r="1.5"/><circle cx="257.0" cy="335.5" r="1.5"/><circle cx="258.1" cy="333.5" r="1.5"/><circle cx="260.7" cy="334.9" r="1.5"/><circle cx="261.9" cy="334.7" r="1.5"/><circle cx="259.4" cy="334.3" r="1.5"/><circle cx="262.9" cy="336.1" r="1.5"/><circle cx="263.8" cy="335.2" r="1.5"/><circle cx="262.1" cy="337.2" r="1.5"/><circle cx="263.7" cy="336.6" r="1.5"/><circle cx="266.4" cy="335.6" r="1.5"/><circle cx="265.0" cy="337.0" r="1.5"/><circle cx="267.3" cy="337.4" r="1.5"/><circle cx="266.4" cy="336.9" r="1.5"/><circle cx="267.0" cy="338.5" r="1.5"/><circle cx="271.1" cy="337.2" r="1.5"/><circle cx="272.0" cy="337.9" r="1.5"/><circle cx="270.4" cy="339.8" r="1.5"/><circle cx="270.9" cy="340.3" r="1.5"/><circle cx="273.5" cy="340.4" r="1.5"/></g><g fill="#2b3a92" stroke="#131a50" stroke-width=".55"><circle cx="226.1" cy="300.1" r="1.5"/><circle cx="227.3" cy="302.3" r="1.5"/><circle cx="225.3" cy="299.3" r="1.5"/><circle cx="229.5" cy="298.6" r="1.5"/><circle cx="229.6" cy="301.5" r="1.5"/><circle cx="228.5" cy="301.5" r="1.5"/><circle cx="229.0" cy="302.5" r="1.5"/><circle cx="231.6" cy="303.1" r="1.5"/><circle cx="230.8" cy="299.3" r="1.5"/><circle cx="231.5" cy="301.5" r="1.5"/><circle cx="234.3" cy="299.9" r="1.5"/><circle cx="235.7" cy="301.8" r="1.5"/><circle cx="234.4" cy="302.8" r="1.5"/><circle cx="235.1" cy="302.0" r="1.5"/><circle cx="235.6" cy="304.4" r="1.5"/><circle cx="238.5" cy="303.9" r="1.5"/><circle cx="239.7" cy="301.9" r="1.5"/><circle cx="239.1" cy="301.9" r="1.5"/><circle cx="242.7" cy="305.6" r="1.5"/><circle cx="243.7" cy="305.1" r="1.5"/><circle cx="242.6" cy="303.6" r="1.5"/><circle cx="241.1" cy="302.7" r="1.5"/><circle cx="243.8" cy="306.7" r="1.5"/><circle cx="242.9" cy="307.3" r="1.5"/><circle cx="245.5" cy="304.8" r="1.5"/><circle cx="247.6" cy="305.4" r="1.5"/><circle cx="247.3" cy="306.3" r="1.5"/><circle cx="248.1" cy="309.7" r="1.5"/><circle cx="246.8" cy="309.5" r="1.5"/><circle cx="247.7" cy="309.3" r="1.5"/><circle cx="248.2" cy="310.7" r="1.5"/><circle cx="248.4" cy="309.0" r="1.5"/></g><g fill="#2f9a8f" stroke="#17554f" stroke-width=".55"><circle cx="176.1" cy="293.1" r="1.5"/><circle cx="176.9" cy="294.8" r="1.5"/><circle cx="176.3" cy="294.0" r="1.5"/><circle cx="178.9" cy="294.2" r="1.5"/><circle cx="179.1" cy="296.4" r="1.5"/><circle cx="178.7" cy="296.9" r="1.5"/><circle cx="179.5" cy="298.1" r="1.5"/><circle cx="181.2" cy="298.8" r="1.5"/><circle cx="181.1" cy="297.1" r="1.5"/><circle cx="181.9" cy="298.5" r="1.5"/><circle cx="183.8" cy="297.9" r="1.5"/></g><g fill="#2b3a92" stroke="#131a50" stroke-width=".55"><circle cx="175.6" cy="278.0" r="1.5"/><circle cx="176.4" cy="279.4" r="1.5"/><circle cx="177.2" cy="280.2" r="1.5"/><circle cx="178.0" cy="281.6" r="1.5"/><circle cx="178.9" cy="284.1" r="1.5"/><circle cx="178.9" cy="285.1" r="1.5"/><circle cx="180.5" cy="287.4" r="1.5"/><circle cx="180.0" cy="289.1" r="1.5"/><circle cx="181.0" cy="290.8" r="1.5"/><circle cx="181.7" cy="291.5" r="1.5"/><circle cx="181.4" cy="293.5" r="1.5"/><circle cx="181.9" cy="294.9" r="1.5"/><circle cx="182.4" cy="297.3" r="1.5"/><circle cx="183.5" cy="298.2" r="1.5"/><circle cx="184.2" cy="299.1" r="1.5"/><circle cx="185.0" cy="300.3" r="1.5"/><circle cx="186.3" cy="300.6" r="1.5"/><circle cx="188.5" cy="301.5" r="1.5"/><circle cx="189.2" cy="302.7" r="1.5"/></g><g fill="#2f9a8f" stroke="#17554f" stroke-width=".55"><circle cx="275.3" cy="327.2" r="1.5"/><circle cx="277.1" cy="327.1" r="1.5"/><circle cx="277.5" cy="328.0" r="1.5"/><circle cx="279.6" cy="328.8" r="1.5"/><circle cx="279.9" cy="330.6" r="1.5"/><circle cx="280.8" cy="331.0" r="1.5"/><circle cx="281.6" cy="332.4" r="1.5"/><circle cx="282.9" cy="334.3" r="1.5"/><circle cx="283.5" cy="334.9" r="1.5"/><circle cx="284.5" cy="336.5" r="1.5"/></g><path d="M466.8 199.8C468.0 198.3 471.2 198.3 473.7 198.4C476.2 198.6 479.6 199.5 481.8 200.8C483.9 202.2 485.4 204.2 486.6 206.5C487.8 208.8 489.0 212.2 489.1 214.6C489.1 217.0 488.2 219.2 486.8 220.8C485.3 222.4 482.3 223.1 480.2 224.0C478.2 224.9 475.2 224.0 474.2 226.1C473.2 228.2 474.5 234.5 474.1 236.7C473.6 239.0 472.1 240.1 471.5 239.6C470.9 239.1 470.6 235.8 470.5 233.7C470.5 231.5 471.7 228.6 471.4 226.6C471.1 224.6 468.9 223.5 468.8 221.5C468.7 219.4 471.0 216.8 470.5 214.5C470.1 212.1 466.8 209.9 466.2 207.4C465.5 205.0 465.5 201.3 466.8 199.8Z" fill="none" stroke="#64101a" stroke-width="3.1" stroke-dasharray="0 2.7" stroke-linecap="round"/><path d="M466.8 199.8C468.0 198.3 471.2 198.3 473.7 198.4C476.2 198.6 479.6 199.5 481.8 200.8C483.9 202.2 485.4 204.2 486.6 206.5C487.8 208.8 489.0 212.2 489.1 214.6C489.1 217.0 488.2 219.2 486.8 220.8C485.3 222.4 482.3 223.1 480.2 224.0C478.2 224.9 475.2 224.0 474.2 226.1C473.2 228.2 474.5 234.5 474.1 236.7C473.6 239.0 472.1 240.1 471.5 239.6C470.9 239.1 470.6 235.8 470.5 233.7C470.5 231.5 471.7 228.6 471.4 226.6C471.1 224.6 468.9 223.5 468.8 221.5C468.7 219.4 471.0 216.8 470.5 214.5C470.1 212.1 466.8 209.9 466.2 207.4C465.5 205.0 465.5 201.3 466.8 199.8Z" fill="url(#prd)" fill-rule="evenodd" stroke="#b8242a" stroke-width="2.0" stroke-dasharray="0 2.7" stroke-linecap="round"/><path d="M492.2 265.3C493.2 262.9 496.0 259.3 498.7 257.2C501.5 255.2 505.3 253.5 508.6 253.1C511.9 252.7 514.9 253.8 518.6 254.8C522.2 255.8 527.2 257.9 530.6 259.1C534.0 260.4 537.2 260.7 538.8 262.3C540.4 263.8 540.5 265.8 540.3 268.4C540.1 271.1 539.2 275.3 537.8 278.4C536.4 281.4 534.3 284.2 531.9 286.8C529.5 289.3 526.6 291.5 523.5 293.5C520.3 295.5 516.3 297.5 513.3 298.6C510.2 299.7 507.6 300.6 505.1 300.3C502.7 300.0 500.9 298.4 498.6 297.0C496.4 295.6 494.0 293.0 491.6 291.7C489.3 290.5 486.2 290.0 484.5 289.6C482.8 289.1 481.4 289.5 481.5 289.1C481.5 288.7 483.5 288.1 484.9 287.0C486.2 286.0 489.7 283.8 489.6 282.6C489.6 281.3 486.6 280.2 484.5 279.5C482.4 278.8 478.0 278.8 476.9 278.5C475.8 278.2 476.3 278.2 478.2 277.8C480.0 277.3 485.7 276.5 488.1 275.6C490.5 274.6 491.8 273.8 492.5 272.1C493.2 270.3 491.1 267.8 492.2 265.3ZM494.2 272.0C495.6 270.5 499.2 267.8 501.4 267.5C503.5 267.1 505.0 269.8 507.1 270.1C509.1 270.4 511.5 268.3 513.6 269.3C515.7 270.4 518.5 273.6 519.7 276.2C520.8 278.9 521.1 283.0 520.5 285.0C519.9 287.0 517.3 286.9 516.1 288.2C514.9 289.5 515.2 291.5 513.3 292.7C511.4 294.0 507.3 295.6 504.9 295.6C502.4 295.7 500.6 294.1 498.7 292.9C496.7 291.8 494.4 290.7 493.1 288.8C491.8 286.9 491.0 283.4 491.0 281.4C490.9 279.3 492.3 278.0 492.8 276.4C493.4 274.9 492.7 273.5 494.2 272.0Z" fill="none" stroke="#64101a" stroke-width="3.1" stroke-dasharray="0 2.7" stroke-linecap="round"/><path d="M492.2 265.3C493.2 262.9 496.0 259.3 498.7 257.2C501.5 255.2 505.3 253.5 508.6 253.1C511.9 252.7 514.9 253.8 518.6 254.8C522.2 255.8 527.2 257.9 530.6 259.1C534.0 260.4 537.2 260.7 538.8 262.3C540.4 263.8 540.5 265.8 540.3 268.4C540.1 271.1 539.2 275.3 537.8 278.4C536.4 281.4 534.3 284.2 531.9 286.8C529.5 289.3 526.6 291.5 523.5 293.5C520.3 295.5 516.3 297.5 513.3 298.6C510.2 299.7 507.6 300.6 505.1 300.3C502.7 300.0 500.9 298.4 498.6 297.0C496.4 295.6 494.0 293.0 491.6 291.7C489.3 290.5 486.2 290.0 484.5 289.6C482.8 289.1 481.4 289.5 481.5 289.1C481.5 288.7 483.5 288.1 484.9 287.0C486.2 286.0 489.7 283.8 489.6 282.6C489.6 281.3 486.6 280.2 484.5 279.5C482.4 278.8 478.0 278.8 476.9 278.5C475.8 278.2 476.3 278.2 478.2 277.8C480.0 277.3 485.7 276.5 488.1 275.6C490.5 274.6 491.8 273.8 492.5 272.1C493.2 270.3 491.1 267.8 492.2 265.3ZM494.2 272.0C495.6 270.5 499.2 267.8 501.4 267.5C503.5 267.1 505.0 269.8 507.1 270.1C509.1 270.4 511.5 268.3 513.6 269.3C515.7 270.4 518.5 273.6 519.7 276.2C520.8 278.9 521.1 283.0 520.5 285.0C519.9 287.0 517.3 286.9 516.1 288.2C514.9 289.5 515.2 291.5 513.3 292.7C511.4 294.0 507.3 295.6 504.9 295.6C502.4 295.7 500.6 294.1 498.7 292.9C496.7 291.8 494.4 290.7 493.1 288.8C491.8 286.9 491.0 283.4 491.0 281.4C490.9 279.3 492.3 278.0 492.8 276.4C493.4 274.9 492.7 273.5 494.2 272.0Z" fill="url(#prd)" fill-rule="evenodd" stroke="#b8242a" stroke-width="2.0" stroke-dasharray="0 2.7" stroke-linecap="round"/><g fill="#b8242a" stroke="#64101a" stroke-width=".55"><circle cx="474.8" cy="268.5" r="1.5"/><circle cx="475.9" cy="270.2" r="1.5"/><circle cx="476.8" cy="270.7" r="1.5"/><circle cx="475.4" cy="272.7" r="1.5"/><circle cx="477.4" cy="274.0" r="1.5"/><circle cx="478.2" cy="273.7" r="1.5"/><circle cx="478.9" cy="274.4" r="1.5"/><circle cx="479.7" cy="276.6" r="1.5"/><circle cx="479.8" cy="275.9" r="1.5"/></g><g fill="#b8242a" stroke="#64101a" stroke-width=".55"><circle cx="501.1" cy="278.8" r="1.5"/><circle cx="503.0" cy="277.7" r="1.5"/><circle cx="504.2" cy="277.9" r="1.5"/><circle cx="504.4" cy="277.3" r="1.5"/><circle cx="506.4" cy="278.0" r="1.5"/><circle cx="506.5" cy="278.9" r="1.5"/></g><g fill="#b8242a" stroke="#64101a" stroke-width=".55"><circle cx="446.8" cy="287.6" r="1.5"/><circle cx="447.5" cy="285.5" r="1.5"/><circle cx="448.1" cy="284.7" r="1.5"/><circle cx="450.3" cy="285.5" r="1.5"/><circle cx="450.5" cy="284.4" r="1.5"/><circle cx="451.2" cy="282.5" r="1.5"/><circle cx="451.3" cy="282.3" r="1.5"/><circle cx="452.1" cy="281.8" r="1.5"/><circle cx="453.1" cy="279.5" r="1.5"/><circle cx="452.5" cy="280.1" r="1.5"/><circle cx="453.0" cy="279.7" r="1.5"/><circle cx="454.0" cy="278.8" r="1.5"/><circle cx="453.9" cy="276.5" r="1.5"/><circle cx="456.3" cy="277.1" r="1.5"/><circle cx="456.7" cy="275.3" r="1.5"/><circle cx="456.9" cy="275.2" r="1.5"/><circle cx="458.1" cy="274.3" r="1.5"/><circle cx="458.4" cy="272.4" r="1.5"/><circle cx="459.0" cy="273.1" r="1.5"/><circle cx="460.2" cy="272.8" r="1.5"/><circle cx="461.5" cy="271.0" r="1.5"/><circle cx="460.9" cy="271.9" r="1.5"/><circle cx="461.9" cy="273.6" r="1.5"/><circle cx="464.4" cy="273.8" r="1.5"/><circle cx="463.7" cy="274.8" r="1.5"/><circle cx="464.3" cy="274.3" r="1.5"/><circle cx="465.2" cy="274.9" r="1.5"/><circle cx="465.2" cy="275.1" r="1.5"/><circle cx="467.1" cy="276.9" r="1.5"/></g><g fill="#b8242a" stroke="#64101a" stroke-width=".55"><circle cx="432.7" cy="299.8" r="1.5"/><circle cx="433.6" cy="299.2" r="1.5"/><circle cx="434.0" cy="297.3" r="1.5"/><circle cx="433.8" cy="296.7" r="1.5"/><circle cx="435.4" cy="295.3" r="1.5"/><circle cx="436.1" cy="295.7" r="1.5"/><circle cx="434.8" cy="293.8" r="1.5"/><circle cx="437.3" cy="293.8" r="1.5"/><circle cx="438.3" cy="292.5" r="1.5"/><circle cx="438.6" cy="292.4" r="1.5"/><circle cx="438.1" cy="293.7" r="1.5"/><circle cx="439.7" cy="294.1" r="1.5"/><circle cx="441.1" cy="295.7" r="1.5"/><circle cx="440.6" cy="295.8" r="1.5"/><circle cx="442.0" cy="296.2" r="1.5"/><circle cx="443.3" cy="296.0" r="1.5"/><circle cx="443.1" cy="294.0" r="1.5"/><circle cx="445.1" cy="294.5" r="1.5"/><circle cx="444.8" cy="292.9" r="1.5"/><circle cx="444.9" cy="291.8" r="1.5"/><circle cx="447.0" cy="290.3" r="1.5"/><circle cx="446.4" cy="289.7" r="1.5"/><circle cx="446.9" cy="289.3" r="1.5"/><circle cx="448.0" cy="288.9" r="1.5"/></g><g fill="#2f9a8f" stroke="#17554f" stroke-width=".55"><circle cx="427.8" cy="294.0" r="1.5"/><circle cx="428.3" cy="294.4" r="1.5"/><circle cx="429.2" cy="295.8" r="1.5"/><circle cx="429.6" cy="295.9" r="1.5"/><circle cx="432.5" cy="297.2" r="1.5"/><circle cx="433.1" cy="296.5" r="1.5"/><circle cx="433.8" cy="294.4" r="1.5"/><circle cx="434.2" cy="294.9" r="1.5"/><circle cx="434.8" cy="292.7" r="1.5"/><circle cx="436.2" cy="292.2" r="1.5"/><circle cx="437.7" cy="291.4" r="1.5"/></g><g fill="#f29d28" stroke="#9a6212" stroke-width=".55"><circle cx="418.0" cy="231.1" r="1.5"/><circle cx="418.3" cy="230.1" r="1.5"/><circle cx="420.0" cy="228.6" r="1.5"/><circle cx="420.6" cy="227.8" r="1.5"/><circle cx="422.5" cy="228.6" r="1.5"/><circle cx="423.2" cy="227.7" r="1.5"/><circle cx="424.3" cy="225.8" r="1.5"/><circle cx="425.2" cy="226.7" r="1.5"/><circle cx="426.0" cy="224.6" r="1.5"/><circle cx="428.3" cy="225.3" r="1.5"/><circle cx="427.9" cy="223.8" r="1.5"/><circle cx="429.3" cy="222.6" r="1.5"/><circle cx="430.4" cy="223.2" r="1.5"/><circle cx="432.5" cy="221.1" r="1.5"/></g><g fill="#8a5020" stroke="#47280c" stroke-width=".55"><circle cx="431.4" cy="221.5" r="1.5"/><circle cx="432.6" cy="220.3" r="1.5"/><circle cx="433.4" cy="220.8" r="1.5"/><circle cx="435.5" cy="220.6" r="1.5"/><circle cx="435.4" cy="218.7" r="1.5"/><circle cx="435.3" cy="219.6" r="1.5"/><circle cx="437.6" cy="218.3" r="1.5"/><circle cx="438.2" cy="216.3" r="1.5"/><circle cx="438.4" cy="217.7" r="1.5"/><circle cx="437.3" cy="216.4" r="1.5"/><circle cx="438.7" cy="215.7" r="1.5"/><circle cx="438.9" cy="215.2" r="1.5"/><circle cx="439.8" cy="214.1" r="1.5"/><circle cx="441.9" cy="214.2" r="1.5"/><circle cx="442.0" cy="211.7" r="1.5"/><circle cx="442.6" cy="212.4" r="1.5"/><circle cx="442.0" cy="211.6" r="1.5"/></g><g fill="#8a5020" stroke="#47280c" stroke-width=".55"><circle cx="436.9" cy="217.1" r="1.5"/><circle cx="439.4" cy="219.9" r="1.5"/><circle cx="439.4" cy="220.6" r="1.5"/><circle cx="438.1" cy="220.0" r="1.5"/><circle cx="438.8" cy="220.6" r="1.5"/><circle cx="439.0" cy="222.8" r="1.5"/><circle cx="439.6" cy="223.8" r="1.5"/><circle cx="438.1" cy="224.0" r="1.5"/><circle cx="440.0" cy="226.3" r="1.5"/><circle cx="438.5" cy="226.8" r="1.5"/><circle cx="439.3" cy="226.4" r="1.5"/><circle cx="438.5" cy="226.4" r="1.5"/><circle cx="439.5" cy="229.1" r="1.5"/><circle cx="440.5" cy="228.1" r="1.5"/><circle cx="439.8" cy="229.7" r="1.5"/><circle cx="440.0" cy="229.0" r="1.5"/><circle cx="441.0" cy="232.1" r="1.5"/><circle cx="441.1" cy="232.2" r="1.5"/><circle cx="442.4" cy="232.1" r="1.5"/><circle cx="443.3" cy="233.5" r="1.5"/><circle cx="445.0" cy="234.4" r="1.5"/></g><g fill="#b8242a" stroke="#64101a" stroke-width=".55"><circle cx="442.6" cy="210.9" r="1.5"/><circle cx="445.1" cy="211.5" r="1.5"/><circle cx="444.4" cy="212.9" r="1.5"/><circle cx="446.4" cy="212.3" r="1.5"/><circle cx="445.8" cy="212.9" r="1.5"/><circle cx="447.6" cy="213.9" r="1.5"/><circle cx="447.6" cy="214.3" r="1.5"/><circle cx="448.8" cy="213.9" r="1.5"/><circle cx="449.9" cy="213.9" r="1.5"/><circle cx="451.2" cy="214.2" r="1.5"/><circle cx="451.5" cy="216.4" r="1.5"/><circle cx="450.9" cy="214.9" r="1.5"/><circle cx="452.2" cy="216.1" r="1.5"/><circle cx="454.8" cy="217.1" r="1.5"/><circle cx="453.9" cy="215.9" r="1.5"/><circle cx="455.7" cy="216.3" r="1.5"/><circle cx="455.7" cy="217.3" r="1.5"/><circle cx="456.9" cy="216.3" r="1.5"/><circle cx="456.6" cy="217.1" r="1.5"/><circle cx="456.5" cy="219.7" r="1.5"/><circle cx="458.6" cy="220.1" r="1.5"/><circle cx="459.1" cy="220.1" r="1.5"/><circle cx="458.2" cy="219.6" r="1.5"/><circle cx="460.9" cy="221.1" r="1.5"/><circle cx="460.0" cy="222.2" r="1.5"/><circle cx="459.7" cy="222.7" r="1.5"/><circle cx="461.9" cy="222.3" r="1.5"/><circle cx="461.8" cy="224.0" r="1.5"/><circle cx="464.3" cy="225.2" r="1.5"/><circle cx="463.2" cy="224.9" r="1.5"/><circle cx="466.1" cy="224.3" r="1.5"/><circle cx="465.4" cy="224.8" r="1.5"/><circle cx="467.4" cy="224.9" r="1.5"/><circle cx="467.2" cy="225.0" r="1.5"/><circle cx="467.5" cy="224.1" r="1.5"/><circle cx="469.8" cy="224.0" r="1.5"/><circle cx="470.8" cy="223.3" r="1.5"/><circle cx="471.4" cy="224.2" r="1.5"/><circle cx="471.2" cy="224.7" r="1.5"/></g><g fill="#f29d28" stroke="#9a6212" stroke-width=".55"><circle cx="408.8" cy="177.3" r="1.5"/><circle cx="408.7" cy="178.6" r="1.5"/><circle cx="408.7" cy="178.5" r="1.5"/><circle cx="409.3" cy="177.3" r="1.5"/><circle cx="411.6" cy="177.2" r="1.5"/><circle cx="410.7" cy="175.8" r="1.5"/><circle cx="412.9" cy="177.2" r="1.5"/><circle cx="412.7" cy="176.9" r="1.5"/><circle cx="414.5" cy="176.5" r="1.5"/><circle cx="416.8" cy="176.7" r="1.5"/><circle cx="416.2" cy="177.4" r="1.5"/><circle cx="416.1" cy="177.9" r="1.5"/><circle cx="418.1" cy="178.3" r="1.5"/><circle cx="417.6" cy="175.8" r="1.5"/><circle cx="420.7" cy="177.8" r="1.5"/><circle cx="420.3" cy="178.4" r="1.5"/><circle cx="421.5" cy="177.4" r="1.5"/><circle cx="422.8" cy="178.1" r="1.5"/><circle cx="423.9" cy="176.7" r="1.5"/><circle cx="423.3" cy="177.1" r="1.5"/><circle cx="425.7" cy="176.6" r="1.5"/><circle cx="426.4" cy="177.6" r="1.5"/><circle cx="424.8" cy="177.3" r="1.5"/><circle cx="427.4" cy="176.8" r="1.5"/><circle cx="429.2" cy="179.5" r="1.5"/><circle cx="427.4" cy="178.3" r="1.5"/><circle cx="428.2" cy="178.5" r="1.5"/><circle cx="430.8" cy="176.9" r="1.5"/><circle cx="430.3" cy="178.7" r="1.5"/><circle cx="431.5" cy="177.3" r="1.5"/><circle cx="432.3" cy="178.2" r="1.5"/><circle cx="434.0" cy="178.7" r="1.5"/><circle cx="435.3" cy="179.9" r="1.5"/><circle cx="434.0" cy="179.6" r="1.5"/><circle cx="436.0" cy="178.8" r="1.5"/><circle cx="436.6" cy="179.7" r="1.5"/><circle cx="436.2" cy="178.7" r="1.5"/><circle cx="437.7" cy="178.6" r="1.5"/><circle cx="438.8" cy="178.1" r="1.5"/><circle cx="439.6" cy="179.1" r="1.5"/><circle cx="440.0" cy="180.2" r="1.5"/><circle cx="441.2" cy="178.3" r="1.5"/><circle cx="443.5" cy="178.6" r="1.5"/><circle cx="443.5" cy="178.6" r="1.5"/><circle cx="445.3" cy="180.6" r="1.5"/><circle cx="444.5" cy="179.7" r="1.5"/><circle cx="446.7" cy="179.5" r="1.5"/><circle cx="447.5" cy="179.0" r="1.5"/><circle cx="449.3" cy="179.9" r="1.5"/><circle cx="447.3" cy="179.9" r="1.5"/><circle cx="449.4" cy="178.6" r="1.5"/></g><g fill="#2f9a8f" stroke="#17554f" stroke-width=".55"><circle cx="411.3" cy="176.0" r="1.5"/><circle cx="411.5" cy="176.2" r="1.5"/><circle cx="414.2" cy="176.4" r="1.5"/><circle cx="414.5" cy="176.0" r="1.5"/><circle cx="415.5" cy="176.2" r="1.5"/><circle cx="417.6" cy="175.0" r="1.5"/><circle cx="419.1" cy="176.1" r="1.5"/><circle cx="419.8" cy="175.1" r="1.5"/><circle cx="421.3" cy="175.3" r="1.5"/><circle cx="421.5" cy="176.1" r="1.5"/><circle cx="422.5" cy="176.4" r="1.5"/><circle cx="423.5" cy="175.3" r="1.5"/><circle cx="425.8" cy="175.5" r="1.5"/><circle cx="426.7" cy="175.0" r="1.5"/><circle cx="429.0" cy="176.4" r="1.5"/><circle cx="430.1" cy="175.4" r="1.5"/><circle cx="430.8" cy="175.9" r="1.5"/><circle cx="431.0" cy="175.6" r="1.5"/><circle cx="433.1" cy="175.4" r="1.5"/><circle cx="433.3" cy="176.6" r="1.5"/><circle cx="435.5" cy="177.0" r="1.5"/><circle cx="437.2" cy="175.7" r="1.5"/><circle cx="437.3" cy="177.3" r="1.5"/><circle cx="439.2" cy="176.5" r="1.5"/><circle cx="440.3" cy="177.3" r="1.5"/></g><g fill="#d0d0d3" stroke="#6c6c6e" stroke-width=".55"><circle cx="429.9" cy="181.4" r="1.5"/><circle cx="432.3" cy="181.9" r="1.5"/><circle cx="433.4" cy="182.4" r="1.5"/><circle cx="434.4" cy="182.3" r="1.5"/><circle cx="436.1" cy="182.4" r="1.5"/><circle cx="437.5" cy="182.8" r="1.5"/><circle cx="438.1" cy="183.2" r="1.5"/><circle cx="439.6" cy="182.7" r="1.5"/><circle cx="441.4" cy="182.7" r="1.5"/><circle cx="442.5" cy="182.9" r="1.5"/><circle cx="443.7" cy="182.4" r="1.5"/></g><g fill="#2f9a8f" stroke="#17554f" stroke-width=".55"><circle cx="448.8" cy="179.2" r="1.5"/><circle cx="449.8" cy="177.9" r="1.5"/><circle cx="452.3" cy="178.8" r="1.5"/><circle cx="452.9" cy="177.5" r="1.5"/><circle cx="452.5" cy="178.1" r="1.5"/><circle cx="455.4" cy="178.4" r="1.5"/><circle cx="455.9" cy="177.0" r="1.5"/><circle cx="456.5" cy="177.3" r="1.5"/><circle cx="456.6" cy="177.3" r="1.5"/><circle cx="458.3" cy="177.8" r="1.5"/><circle cx="459.9" cy="177.2" r="1.5"/><circle cx="459.9" cy="176.8" r="1.5"/><circle cx="460.7" cy="178.1" r="1.5"/><circle cx="463.6" cy="177.9" r="1.5"/><circle cx="464.6" cy="176.0" r="1.5"/><circle cx="464.4" cy="176.3" r="1.5"/><circle cx="466.7" cy="177.3" r="1.5"/><circle cx="467.8" cy="177.5" r="1.5"/><circle cx="469.7" cy="176.4" r="1.5"/><circle cx="470.8" cy="175.4" r="1.5"/><circle cx="472.2" cy="175.8" r="1.5"/><circle cx="472.6" cy="175.9" r="1.5"/><circle cx="472.8" cy="177.0" r="1.5"/><circle cx="474.6" cy="176.7" r="1.5"/><circle cx="475.1" cy="176.5" r="1.5"/><circle cx="477.9" cy="176.9" r="1.5"/><circle cx="477.5" cy="175.4" r="1.5"/><circle cx="479.3" cy="175.1" r="1.5"/><circle cx="481.7" cy="175.4" r="1.5"/><circle cx="482.1" cy="175.2" r="1.5"/><circle cx="482.0" cy="176.3" r="1.5"/><circle cx="483.6" cy="175.2" r="1.5"/><circle cx="485.2" cy="173.9" r="1.5"/><circle cx="485.6" cy="174.3" r="1.5"/><circle cx="485.0" cy="174.6" r="1.5"/><circle cx="486.5" cy="174.5" r="1.5"/><circle cx="489.3" cy="173.7" r="1.5"/><circle cx="488.9" cy="173.7" r="1.5"/></g><g fill="#2f9a8f" stroke="#17554f" stroke-width=".55"><circle cx="483.0" cy="176.1" r="1.5"/><circle cx="485.0" cy="174.0" r="1.5"/><circle cx="487.0" cy="174.8" r="1.5"/><circle cx="485.2" cy="174.1" r="1.5"/><circle cx="486.3" cy="172.2" r="1.5"/><circle cx="488.1" cy="172.5" r="1.5"/><circle cx="488.3" cy="170.7" r="1.5"/><circle cx="491.3" cy="170.5" r="1.5"/><circle cx="489.7" cy="171.1" r="1.5"/></g><g fill="#2f9a8f" stroke="#17554f" stroke-width=".55"><circle cx="485.6" cy="177.6" r="1.5"/><circle cx="487.7" cy="177.7" r="1.5"/><circle cx="488.1" cy="179.8" r="1.5"/><circle cx="489.3" cy="179.1" r="1.5"/><circle cx="487.9" cy="181.1" r="1.5"/><circle cx="488.9" cy="180.4" r="1.5"/><circle cx="489.2" cy="183.2" r="1.5"/><circle cx="489.6" cy="182.7" r="1.5"/><circle cx="490.5" cy="183.3" r="1.5"/><circle cx="490.4" cy="185.2" r="1.5"/><circle cx="490.6" cy="184.7" r="1.5"/><circle cx="491.3" cy="185.6" r="1.5"/><circle cx="493.0" cy="186.3" r="1.5"/><circle cx="493.4" cy="187.5" r="1.5"/><circle cx="493.7" cy="188.0" r="1.5"/><circle cx="493.2" cy="189.5" r="1.5"/></g><g fill="#f29d28" stroke="#9a6212" stroke-width=".55"><circle cx="479.4" cy="179.7" r="1.5"/><circle cx="480.5" cy="180.9" r="1.5"/><circle cx="481.7" cy="180.9" r="1.5"/><circle cx="482.7" cy="181.7" r="1.5"/></g><g fill="#2f9a8f" stroke="#17554f" stroke-width=".55"><circle cx="431.3" cy="195.8" r="1.5"/><circle cx="432.3" cy="195.5" r="1.5"/><circle cx="434.5" cy="195.7" r="1.5"/><circle cx="434.1" cy="197.1" r="1.5"/><circle cx="436.6" cy="197.1" r="1.5"/><circle cx="436.6" cy="197.5" r="1.5"/><circle cx="437.8" cy="198.5" r="1.5"/><circle cx="438.4" cy="200.0" r="1.5"/><circle cx="437.6" cy="200.0" r="1.5"/></g><g fill="#2f9a8f" stroke="#17554f" stroke-width=".55"><circle cx="370.0" cy="267.4" r="1.5"/><circle cx="369.7" cy="268.0" r="1.5"/><circle cx="370.9" cy="269.4" r="1.5"/><circle cx="371.0" cy="266.0" r="1.5"/><circle cx="374.1" cy="268.7" r="1.5"/><circle cx="372.5" cy="268.7" r="1.5"/><circle cx="373.0" cy="267.2" r="1.5"/><circle cx="376.4" cy="267.5" r="1.5"/><circle cx="375.9" cy="265.9" r="1.5"/><circle cx="376.5" cy="267.3" r="1.5"/><circle cx="378.9" cy="266.1" r="1.5"/><circle cx="380.2" cy="263.4" r="1.5"/><circle cx="378.9" cy="263.7" r="1.5"/><circle cx="379.4" cy="263.1" r="1.5"/><circle cx="379.8" cy="264.9" r="1.5"/><circle cx="380.0" cy="261.7" r="1.5"/><circle cx="383.2" cy="262.8" r="1.5"/><circle cx="381.5" cy="261.5" r="1.5"/><circle cx="384.6" cy="261.7" r="1.5"/><circle cx="384.3" cy="260.2" r="1.5"/><circle cx="385.1" cy="261.4" r="1.5"/><circle cx="383.7" cy="259.7" r="1.5"/><circle cx="387.5" cy="258.8" r="1.5"/><circle cx="387.7" cy="260.7" r="1.5"/><circle cx="386.0" cy="258.0" r="1.5"/><circle cx="388.8" cy="258.7" r="1.5"/><circle cx="387.9" cy="259.3" r="1.5"/><circle cx="388.0" cy="257.4" r="1.5"/><circle cx="388.3" cy="257.0" r="1.5"/><circle cx="390.2" cy="257.4" r="1.5"/><circle cx="388.7" cy="254.4" r="1.5"/><circle cx="391.1" cy="254.7" r="1.5"/><circle cx="392.1" cy="252.7" r="1.5"/><circle cx="390.4" cy="254.6" r="1.5"/><circle cx="392.4" cy="253.0" r="1.5"/><circle cx="391.4" cy="250.9" r="1.5"/><circle cx="393.8" cy="250.6" r="1.5"/><circle cx="394.7" cy="250.5" r="1.5"/><circle cx="394.7" cy="251.1" r="1.5"/><circle cx="393.9" cy="247.8" r="1.5"/><circle cx="394.9" cy="247.1" r="1.5"/><circle cx="395.1" cy="249.5" r="1.5"/><circle cx="395.1" cy="248.7" r="1.5"/><circle cx="396.4" cy="247.7" r="1.5"/><circle cx="397.9" cy="244.8" r="1.5"/><circle cx="397.1" cy="244.5" r="1.5"/><circle cx="396.9" cy="242.7" r="1.5"/><circle cx="397.2" cy="244.3" r="1.5"/><circle cx="399.7" cy="241.5" r="1.5"/><circle cx="399.9" cy="241.0" r="1.5"/><circle cx="399.5" cy="241.1" r="1.5"/><circle cx="398.2" cy="239.5" r="1.5"/><circle cx="399.0" cy="241.4" r="1.5"/><circle cx="400.6" cy="239.7" r="1.5"/><circle cx="401.6" cy="239.1" r="1.5"/><circle cx="399.7" cy="236.4" r="1.5"/><circle cx="400.1" cy="237.4" r="1.5"/><circle cx="399.8" cy="235.9" r="1.5"/><circle cx="403.2" cy="235.9" r="1.5"/><circle cx="400.5" cy="232.8" r="1.5"/><circle cx="403.5" cy="232.0" r="1.5"/><circle cx="401.9" cy="234.1" r="1.5"/><circle cx="404.3" cy="233.3" r="1.5"/><circle cx="403.0" cy="231.8" r="1.5"/><circle cx="405.2" cy="229.4" r="1.5"/><circle cx="403.6" cy="228.2" r="1.5"/><circle cx="406.6" cy="228.1" r="1.5"/><circle cx="405.2" cy="229.3" r="1.5"/><circle cx="406.8" cy="228.5" r="1.5"/><circle cx="406.1" cy="227.0" r="1.5"/></g><g fill="#2f9a8f" stroke="#17554f" stroke-width=".55"><circle cx="403.4" cy="231.6" r="1.5"/><circle cx="404.1" cy="229.5" r="1.5"/><circle cx="405.4" cy="229.2" r="1.5"/><circle cx="406.0" cy="227.1" r="1.5"/><circle cx="406.2" cy="227.2" r="1.5"/><circle cx="406.8" cy="225.7" r="1.5"/><circle cx="407.5" cy="224.3" r="1.5"/><circle cx="408.0" cy="223.7" r="1.5"/><circle cx="409.9" cy="221.6" r="1.5"/><circle cx="410.1" cy="221.4" r="1.5"/><circle cx="411.6" cy="220.2" r="1.5"/><circle cx="412.9" cy="219.9" r="1.5"/></g><g fill="#8a5020" stroke="#47280c" stroke-width=".55"><circle cx="114.9" cy="231.2" r="1.5"/><circle cx="113.8" cy="230.0" r="1.5"/><circle cx="114.7" cy="232.2" r="1.5"/><circle cx="114.0" cy="233.7" r="1.5"/><circle cx="112.3" cy="233.9" r="1.5"/><circle cx="111.8" cy="234.1" r="1.5"/><circle cx="111.3" cy="234.7" r="1.5"/><circle cx="110.4" cy="235.8" r="1.5"/><circle cx="111.0" cy="237.2" r="1.5"/><circle cx="111.2" cy="238.5" r="1.5"/><circle cx="109.6" cy="239.2" r="1.5"/><circle cx="108.1" cy="239.7" r="1.5"/><circle cx="108.9" cy="240.2" r="1.5"/><circle cx="107.7" cy="241.6" r="1.5"/><circle cx="108.3" cy="241.4" r="1.5"/><circle cx="106.3" cy="243.7" r="1.5"/><circle cx="106.7" cy="244.0" r="1.5"/></g><g fill="#2b3a92" stroke="#131a50" stroke-width=".55"><circle cx="98.1" cy="250.4" r="1.5"/><circle cx="99.4" cy="249.7" r="1.5"/><circle cx="100.8" cy="251.1" r="1.5"/><circle cx="100.8" cy="252.3" r="1.5"/><circle cx="102.3" cy="252.3" r="1.5"/></g><g fill="#8a5020" stroke="#47280c" stroke-width=".55"><circle cx="263.5" cy="288.1" r="1.5"/><circle cx="262.2" cy="286.9" r="1.5"/><circle cx="265.0" cy="286.5" r="1.5"/><circle cx="262.9" cy="289.7" r="1.5"/><circle cx="267.1" cy="289.2" r="1.5"/><circle cx="264.6" cy="288.8" r="1.5"/><circle cx="265.2" cy="292.2" r="1.5"/><circle cx="265.9" cy="289.2" r="1.5"/><circle cx="267.7" cy="292.7" r="1.5"/><circle cx="269.1" cy="291.4" r="1.5"/><circle cx="270.5" cy="294.1" r="1.5"/><circle cx="271.0" cy="292.0" r="1.5"/><circle cx="270.0" cy="293.0" r="1.5"/><circle cx="270.4" cy="295.0" r="1.5"/><circle cx="272.9" cy="293.3" r="1.5"/><circle cx="271.4" cy="294.9" r="1.5"/><circle cx="275.2" cy="297.7" r="1.5"/><circle cx="273.8" cy="298.2" r="1.5"/><circle cx="275.3" cy="298.3" r="1.5"/><circle cx="276.5" cy="295.8" r="1.5"/></g><g fill="#8a5020" stroke="#47280c" stroke-width=".55"><circle cx="265.2" cy="286.2" r="1.5"/><circle cx="265.7" cy="287.8" r="1.5"/><circle cx="266.7" cy="288.2" r="1.5"/><circle cx="266.8" cy="289.8" r="1.5"/><circle cx="267.7" cy="291.2" r="1.5"/><circle cx="267.7" cy="292.5" r="1.5"/><circle cx="268.6" cy="294.3" r="1.5"/><circle cx="269.5" cy="295.5" r="1.5"/></g><g fill="#2b3a92" stroke="#131a50" stroke-width=".55"><circle cx="123.8" cy="336.3" r="1.5"/><circle cx="125.1" cy="336.9" r="1.5"/><circle cx="125.5" cy="338.2" r="1.5"/><circle cx="127.0" cy="337.2" r="1.5"/><circle cx="127.8" cy="337.9" r="1.5"/><circle cx="127.6" cy="340.1" r="1.5"/><circle cx="127.5" cy="340.8" r="1.5"/><circle cx="129.0" cy="339.8" r="1.5"/><circle cx="129.9" cy="339.0" r="1.5"/><circle cx="131.9" cy="339.6" r="1.5"/><circle cx="132.9" cy="339.3" r="1.5"/></g><g fill="#2b3a92" stroke="#131a50" stroke-width=".55"><circle cx="136.6" cy="363.2" r="1.5"/><circle cx="136.2" cy="364.5" r="1.5"/><circle cx="135.9" cy="366.0" r="1.5"/><circle cx="136.0" cy="367.1" r="1.5"/><circle cx="137.6" cy="368.7" r="1.5"/><circle cx="137.6" cy="368.0" r="1.5"/><circle cx="137.8" cy="368.6" r="1.5"/><circle cx="136.8" cy="369.8" r="1.5"/><circle cx="138.3" cy="371.4" r="1.5"/><circle cx="139.0" cy="372.9" r="1.5"/><circle cx="138.5" cy="374.3" r="1.5"/><circle cx="139.2" cy="374.0" r="1.5"/><circle cx="138.1" cy="375.6" r="1.5"/><circle cx="140.3" cy="375.9" r="1.5"/><circle cx="139.8" cy="377.5" r="1.5"/><circle cx="140.8" cy="379.0" r="1.5"/><circle cx="139.8" cy="380.2" r="1.5"/><circle cx="140.7" cy="381.2" r="1.5"/></g><g fill="#2b3a92" stroke="#131a50" stroke-width=".55"><circle cx="225.6" cy="348.9" r="1.5"/><circle cx="226.5" cy="348.6" r="1.5"/><circle cx="228.3" cy="346.0" r="1.5"/><circle cx="229.9" cy="346.8" r="1.5"/><circle cx="229.5" cy="346.1" r="1.5"/><circle cx="230.7" cy="346.8" r="1.5"/><circle cx="232.1" cy="346.2" r="1.5"/><circle cx="233.2" cy="344.0" r="1.5"/><circle cx="231.2" cy="344.1" r="1.5"/></g><g fill="#2b3a92" stroke="#131a50" stroke-width=".55"><circle cx="293.5" cy="406.6" r="1.5"/><circle cx="294.0" cy="406.6" r="1.5"/><circle cx="296.5" cy="407.1" r="1.5"/><circle cx="297.6" cy="408.8" r="1.5"/><circle cx="296.6" cy="409.5" r="1.5"/><circle cx="298.5" cy="407.9" r="1.5"/><circle cx="299.2" cy="409.2" r="1.5"/><circle cx="300.4" cy="410.1" r="1.5"/><circle cx="301.9" cy="411.0" r="1.5"/><circle cx="302.3" cy="411.4" r="1.5"/><circle cx="302.3" cy="410.3" r="1.5"/><circle cx="303.4" cy="411.0" r="1.5"/><circle cx="304.6" cy="413.0" r="1.5"/><circle cx="305.4" cy="412.1" r="1.5"/><circle cx="307.3" cy="413.1" r="1.5"/><circle cx="307.9" cy="413.6" r="1.5"/></g><g fill="#2b3a92" stroke="#131a50" stroke-width=".55"><circle cx="178.4" cy="456.6" r="1.5"/><circle cx="178.7" cy="455.8" r="1.5"/><circle cx="179.2" cy="455.8" r="1.5"/><circle cx="180.1" cy="457.2" r="1.5"/><circle cx="182.3" cy="457.6" r="1.5"/><circle cx="182.0" cy="457.6" r="1.5"/><circle cx="183.5" cy="459.0" r="1.5"/><circle cx="185.2" cy="459.0" r="1.5"/><circle cx="184.4" cy="459.2" r="1.5"/><circle cx="186.5" cy="458.2" r="1.5"/></g><g fill="#2b3a92" stroke="#131a50" stroke-width=".55"><circle cx="191.7" cy="458.6" r="1.5"/><circle cx="191.4" cy="460.6" r="1.5"/><circle cx="193.9" cy="459.0" r="1.5"/><circle cx="195.4" cy="459.2" r="1.5"/><circle cx="195.8" cy="461.1" r="1.5"/><circle cx="195.4" cy="460.4" r="1.5"/><circle cx="198.2" cy="461.3" r="1.5"/><circle cx="197.4" cy="460.4" r="1.5"/><circle cx="199.1" cy="459.8" r="1.5"/><circle cx="198.9" cy="460.6" r="1.5"/><circle cx="200.3" cy="460.2" r="1.5"/></g><g fill="#2b3a92" stroke="#131a50" stroke-width=".55"><circle cx="291.4" cy="460.1" r="1.5"/><circle cx="293.4" cy="463.2" r="1.5"/><circle cx="292.4" cy="461.0" r="1.5"/><circle cx="295.0" cy="460.9" r="1.5"/><circle cx="294.7" cy="461.5" r="1.5"/><circle cx="295.2" cy="461.2" r="1.5"/><circle cx="297.3" cy="462.0" r="1.5"/><circle cx="297.1" cy="464.7" r="1.5"/><circle cx="296.5" cy="462.6" r="1.5"/><circle cx="299.0" cy="464.4" r="1.5"/><circle cx="299.1" cy="464.1" r="1.5"/><circle cx="301.5" cy="463.9" r="1.5"/></g><g fill="#b8242a" stroke="#64101a" stroke-width=".55"><circle cx="332.1" cy="350.2" r="1.5"/><circle cx="333.1" cy="349.4" r="1.5"/><circle cx="333.9" cy="350.6" r="1.5"/><circle cx="334.3" cy="349.6" r="1.5"/><circle cx="335.5" cy="349.7" r="1.5"/><circle cx="337.7" cy="348.6" r="1.5"/><circle cx="339.2" cy="348.0" r="1.5"/><circle cx="339.9" cy="348.5" r="1.5"/><circle cx="341.0" cy="348.9" r="1.5"/></g><g fill="#f29d28" stroke="#9a6212" stroke-width=".55"><circle cx="346.7" cy="320.5" r="1.5"/><circle cx="347.8" cy="321.6" r="1.5"/><circle cx="348.8" cy="322.1" r="1.5"/><circle cx="350.6" cy="322.8" r="1.5"/><circle cx="352.2" cy="323.6" r="1.5"/><circle cx="353.3" cy="324.7" r="1.5"/><circle cx="354.0" cy="325.0" r="1.5"/><circle cx="356.3" cy="324.5" r="1.5"/><circle cx="357.2" cy="325.4" r="1.5"/><circle cx="357.9" cy="326.4" r="1.5"/><circle cx="360.0" cy="326.8" r="1.5"/><circle cx="360.8" cy="326.7" r="1.5"/></g><circle cx="145.7" cy="227.1" r="1.7" fill="#2b3a92" stroke="#131a50" stroke-width=".5"/><circle cx="344.5" cy="430.7" r="1.7" fill="#2b3a92" stroke="#131a50" stroke-width=".5"/><circle cx="344.4" cy="430.3" r="1.7" fill="#2b3a92" stroke="#131a50" stroke-width=".5"/><circle cx="367.1" cy="374.6" r="1.7" fill="#2b3a92" stroke="#131a50" stroke-width=".5"/><circle cx="145.7" cy="227.1" r="1.8" fill="#8a5020" stroke="#47280c" stroke-width=".5"/><circle cx="192.8" cy="208.8" r="1.8" fill="#f29d28" stroke="#9a6212" stroke-width=".5"/><circle cx="201.6" cy="209.5" r="1.8" fill="#f29d28" stroke="#9a6212" stroke-width=".5"/><circle cx="182.8" cy="230.1" r="1.8" fill="#f29d28" stroke="#9a6212" stroke-width=".5"/><circle cx="192.5" cy="208.6" r="1.8" fill="#f29d28" stroke="#9a6212" stroke-width=".5"/><circle cx="202.6" cy="209.3" r="1.8" fill="#f29d28" stroke="#9a6212" stroke-width=".5"/><circle cx="182.5" cy="230.6" r="1.8" fill="#f29d28" stroke="#9a6212" stroke-width=".5"/><circle cx="375.6" cy="122.8" r="1.8" fill="#f29d28" stroke="#9a6212" stroke-width=".5"/><circle cx="378.1" cy="127.8" r="1.8" fill="#f29d28" stroke="#9a6212" stroke-width=".5"/><circle cx="379.3" cy="131.6" r="1.8" fill="#f29d28" stroke="#9a6212" stroke-width=".5"/><circle cx="382.6" cy="137.9" r="1.8" fill="#f29d28" stroke="#9a6212" stroke-width=".5"/><circle cx="384.4" cy="142.9" r="1.8" fill="#f29d28" stroke="#9a6212" stroke-width=".5"/><circle cx="386.1" cy="146.6" r="1.8" fill="#f29d28" stroke="#9a6212" stroke-width=".5"/><circle cx="338.0" cy="167.9" r="1.8" fill="#f29d28" stroke="#9a6212" stroke-width=".5"/><circle cx="331.7" cy="162.9" r="1.8" fill="#f29d28" stroke="#9a6212" stroke-width=".5"/><circle cx="482.4" cy="245.4" r="2.0" fill="#d0d0d3" stroke="#6c6c6e" stroke-width=".5"/><circle cx="477.6" cy="258.6" r="2.0" fill="#d0d0d3" stroke="#6c6c6e" stroke-width=".5"/><circle cx="469.9" cy="278.3" r="2.0" fill="#d0d0d3" stroke="#6c6c6e" stroke-width=".5"/><circle cx="404.8" cy="255.4" r="1.9" fill="#2f9a8f" stroke="#17554f" stroke-width=".5"/><circle cx="475.5" cy="270.2" r="1.9" fill="#2f9a8f" stroke="#17554f" stroke-width=".5"/><circle cx="465.1" cy="276.3" r="1.9" fill="#2f9a8f" stroke="#17554f" stroke-width=".5"/><circle cx="480.7" cy="289.6" r="1.9" fill="#2f9a8f" stroke="#17554f" stroke-width=".5"/><circle cx="488.5" cy="291.0" r="1.9" fill="#c062c0" stroke="#6a2f6a" stroke-width=".5"/><circle cx="485.9" cy="292.8" r="1.9" fill="#c062c0" stroke="#6a2f6a" stroke-width=".5"/><circle cx="446.0" cy="284.9" r="1.9" fill="#c062c0" stroke="#6a2f6a" stroke-width=".5"/><circle cx="448.6" cy="284.1" r="1.9" fill="#c062c0" stroke="#6a2f6a" stroke-width=".5"/><circle cx="429.1" cy="189.8" r="1.9" fill="#f29d28" stroke="#9a6212" stroke-width=".5"/><circle cx="385.2" cy="145.2" r="1.9" fill="#f29d28" stroke="#9a6212" stroke-width=".5"/><circle cx="383.5" cy="142.6" r="1.9" fill="#f29d28" stroke="#9a6212" stroke-width=".5"/><circle cx="386.1" cy="146.9" r="1.9" fill="#f29d28" stroke="#9a6212" stroke-width=".5"/><circle cx="338.0" cy="347.4" r="1.8" fill="#2b3a92" stroke="#131a50" stroke-width=".5"/><circle cx="340.2" cy="347.0" r="1.8" fill="#2b3a92" stroke="#131a50" stroke-width=".5"/><circle cx="331.7" cy="350.2" r="1.8" fill="#b8242a" stroke="#64101a" stroke-width=".5"/><circle cx="334.8" cy="350.8" r="1.8" fill="#b8242a" stroke="#64101a" stroke-width=".5"/><g fill="#dccaa6" stroke="#9a7f48" stroke-width=".45"><circle cx="263.7" cy="84.0" r="1.45"/><circle cx="328.5" cy="61.8" r="1.45"/><circle cx="305.7" cy="144.7" r="1.45"/><circle cx="207.0" cy="164.0" r="1.45"/><circle cx="224.1" cy="104.4" r="1.45"/><circle cx="323.9" cy="309.3" r="1.45"/><circle cx="313.9" cy="153.5" r="1.45"/><circle cx="235.4" cy="205.8" r="1.45"/><circle cx="308.1" cy="59.1" r="1.45"/><circle cx="211.4" cy="99.6" r="1.45"/><circle cx="261.8" cy="206.9" r="1.45"/><circle cx="289.4" cy="126.1" r="1.45"/><circle cx="357.0" cy="239.0" r="1.45"/><circle cx="247.9" cy="203.8" r="1.45"/><circle cx="229.7" cy="179.6" r="1.45"/><circle cx="337.3" cy="209.4" r="1.45"/><circle cx="314.5" cy="170.3" r="1.45"/><circle cx="293.5" cy="229.1" r="1.45"/><circle cx="276.0" cy="230.4" r="1.45"/><circle cx="232.9" cy="74.4" r="1.45"/><circle cx="225.2" cy="111.3" r="1.45"/><circle cx="215.5" cy="168.3" r="1.45"/><circle cx="308.4" cy="291.1" r="1.45"/><circle cx="254.7" cy="158.8" r="1.45"/><circle cx="234.5" cy="106.9" r="1.45"/><circle cx="245.8" cy="178.5" r="1.45"/><circle cx="316.3" cy="115.6" r="1.45"/><circle cx="272.7" cy="201.5" r="1.45"/><circle cx="388.4" cy="236.6" r="1.45"/><circle cx="301.7" cy="216.0" r="1.45"/><circle cx="277.3" cy="154.1" r="1.45"/><circle cx="240.9" cy="87.2" r="1.45"/><circle cx="266.9" cy="56.2" r="1.45"/><circle cx="219.7" cy="144.1" r="1.45"/><circle cx="249.5" cy="139.6" r="1.45"/><circle cx="271.7" cy="76.1" r="1.45"/><circle cx="291.9" cy="178.1" r="1.45"/><circle cx="267.4" cy="116.2" r="1.45"/><circle cx="304.2" cy="82.8" r="1.45"/><circle cx="370.6" cy="238.2" r="1.45"/><circle cx="251.3" cy="145.0" r="1.45"/><circle cx="264.9" cy="104.4" r="1.45"/><circle cx="244.5" cy="187.7" r="1.45"/><circle cx="270.0" cy="49.5" r="1.45"/><circle cx="205.1" cy="120.3" r="1.45"/><circle cx="243.2" cy="105.5" r="1.45"/><circle cx="238.5" cy="99.1" r="1.45"/><circle cx="323.2" cy="295.9" r="1.45"/><circle cx="348.2" cy="176.5" r="1.45"/><circle cx="224.7" cy="84.1" r="1.45"/><circle cx="269.0" cy="196.5" r="1.45"/><circle cx="391.9" cy="225.0" r="1.45"/><circle cx="249.5" cy="124.2" r="1.45"/><circle cx="247.2" cy="207.2" r="1.45"/><circle cx="250.9" cy="159.8" r="1.45"/><circle cx="269.7" cy="170.9" r="1.45"/><circle cx="315.1" cy="297.1" r="1.45"/><circle cx="299.0" cy="191.7" r="1.45"/><circle cx="286.8" cy="93.1" r="1.45"/><circle cx="233.7" cy="175.2" r="1.45"/><circle cx="264.1" cy="187.9" r="1.45"/><circle cx="248.8" cy="119.6" r="1.45"/><circle cx="352.6" cy="184.9" r="1.45"/><circle cx="320.9" cy="184.3" r="1.45"/><circle cx="301.0" cy="237.2" r="1.45"/><circle cx="289.2" cy="192.1" r="1.45"/><circle cx="338.1" cy="289.2" r="1.45"/><circle cx="310.4" cy="308.1" r="1.45"/><circle cx="223.7" cy="166.3" r="1.45"/><circle cx="213.9" cy="109.4" r="1.45"/><circle cx="278.5" cy="179.1" r="1.45"/><circle cx="231.6" cy="163.4" r="1.45"/><circle cx="301.7" cy="137.2" r="1.45"/><circle cx="238.3" cy="131.4" r="1.45"/><circle cx="309.3" cy="165.9" r="1.45"/><circle cx="203.1" cy="135.1" r="1.45"/><circle cx="323.2" cy="186.2" r="1.45"/><circle cx="220.3" cy="116.4" r="1.45"/><circle cx="253.1" cy="78.0" r="1.45"/><circle cx="312.6" cy="239.4" r="1.45"/><circle cx="289.5" cy="137.2" r="1.45"/><circle cx="309.1" cy="303.4" r="1.45"/><circle cx="252.6" cy="77.9" r="1.45"/><circle cx="304.0" cy="108.7" r="1.45"/><circle cx="221.2" cy="87.0" r="1.45"/><circle cx="261.4" cy="127.6" r="1.45"/><circle cx="298.6" cy="91.6" r="1.45"/><circle cx="237.1" cy="175.6" r="1.45"/><circle cx="277.4" cy="184.6" r="1.45"/><circle cx="339.6" cy="221.2" r="1.45"/><circle cx="279.7" cy="139.6" r="1.45"/><circle cx="250.2" cy="87.5" r="1.45"/><circle cx="372.0" cy="230.9" r="1.45"/><circle cx="255.4" cy="109.8" r="1.45"/><circle cx="257.6" cy="171.3" r="1.45"/><circle cx="230.8" cy="167.4" r="1.45"/><circle cx="260.9" cy="142.2" r="1.45"/><circle cx="293.6" cy="183.5" r="1.45"/><circle cx="239.4" cy="184.1" r="1.45"/><circle cx="217.3" cy="154.3" r="1.45"/><circle cx="259.8" cy="107.2" r="1.45"/><circle cx="315.6" cy="191.0" r="1.45"/><circle cx="348.3" cy="227.3" r="1.45"/><circle cx="276.7" cy="133.5" r="1.45"/><circle cx="343.0" cy="223.2" r="1.45"/><circle cx="376.3" cy="218.7" r="1.45"/><circle cx="227.2" cy="189.4" r="1.45"/><circle cx="315.3" cy="293.8" r="1.45"/><circle cx="334.9" cy="237.4" r="1.45"/><circle cx="225.9" cy="143.3" r="1.45"/><circle cx="310.2" cy="218.9" r="1.45"/><circle cx="323.6" cy="233.8" r="1.45"/><circle cx="299.2" cy="192.7" r="1.45"/><circle cx="214.3" cy="116.4" r="1.45"/><circle cx="297.4" cy="149.5" r="1.45"/><circle cx="294.5" cy="234.7" r="1.45"/><circle cx="351.5" cy="215.8" r="1.45"/><circle cx="326.9" cy="63.2" r="1.45"/><circle cx="228.8" cy="113.1" r="1.45"/><circle cx="211.6" cy="117.3" r="1.45"/></g><g fill="#2f9a8f" stroke="#17554f" stroke-width=".45"><circle cx="332.7" cy="237.1" r="1.4"/><circle cx="301.9" cy="172.7" r="1.4"/><circle cx="292.0" cy="74.8" r="1.4"/><circle cx="288.6" cy="117.3" r="1.4"/><circle cx="241.3" cy="205.8" r="1.4"/><circle cx="227.6" cy="189.5" r="1.4"/><circle cx="362.1" cy="185.2" r="1.4"/><circle cx="375.3" cy="240.2" r="1.4"/><circle cx="295.9" cy="48.3" r="1.4"/><circle cx="288.9" cy="126.7" r="1.4"/><circle cx="227.4" cy="138.6" r="1.4"/><circle cx="383.1" cy="243.0" r="1.4"/></g><g fill="#2b3a92" stroke="#131a50" stroke-width=".45"><circle cx="273.3" cy="152.4" r="1.4"/><circle cx="271.0" cy="162.4" r="1.4"/></g><g fill="#8a5020" stroke="#47280c" stroke-width=".45"><circle cx="254.1" cy="55.0" r="1.4"/><circle cx="249.0" cy="116.5" r="1.4"/></g><g fill="#f29d28" stroke="#9a6212" stroke-width=".45"><circle cx="420.2" cy="317.1" r="1.5"/><circle cx="437.5" cy="417.7" r="1.5"/><circle cx="482.2" cy="367.1" r="1.5"/><circle cx="387.8" cy="297.6" r="1.5"/><circle cx="414.6" cy="338.5" r="1.5"/><circle cx="426.9" cy="345.6" r="1.5"/><circle cx="370.7" cy="313.2" r="1.5"/><circle cx="418.2" cy="321.3" r="1.5"/><circle cx="411.4" cy="310.2" r="1.5"/><circle cx="395.8" cy="303.4" r="1.5"/><circle cx="381.0" cy="326.7" r="1.5"/><circle cx="428.7" cy="414.0" r="1.5"/><circle cx="406.2" cy="363.6" r="1.5"/><circle cx="400.9" cy="337.8" r="1.5"/><circle cx="419.1" cy="378.2" r="1.5"/><circle cx="385.6" cy="325.3" r="1.5"/><circle cx="404.2" cy="352.7" r="1.5"/><circle cx="421.9" cy="385.5" r="1.5"/><circle cx="412.5" cy="367.4" r="1.5"/><circle cx="422.2" cy="371.8" r="1.5"/><circle cx="402.5" cy="321.8" r="1.5"/><circle cx="390.0" cy="354.8" r="1.5"/><circle cx="380.4" cy="325.1" r="1.5"/><circle cx="418.4" cy="384.5" r="1.5"/><circle cx="407.1" cy="326.5" r="1.5"/><circle cx="442.8" cy="419.3" r="1.5"/><circle cx="395.3" cy="349.2" r="1.5"/><circle cx="461.5" cy="393.5" r="1.5"/><circle cx="419.3" cy="319.3" r="1.5"/><circle cx="418.0" cy="316.8" r="1.5"/></g><g fill="#2f9a8f" stroke="#17554f" stroke-width=".45"><circle cx="378.7" cy="348.7" r="1.5"/><circle cx="442.5" cy="422.6" r="1.5"/><circle cx="400.4" cy="336.8" r="1.5"/><circle cx="386.9" cy="339.6" r="1.5"/><circle cx="398.0" cy="404.9" r="1.5"/></g><g fill="#2b3a92" stroke="#131a50" stroke-width=".45"><circle cx="374.4" cy="341.4" r="1.5"/><circle cx="405.8" cy="403.6" r="1.5"/><circle cx="454.3" cy="415.6" r="1.5"/></g><g fill="#b8242a" stroke="#64101a" stroke-width=".45"><circle cx="395.4" cy="328.6" r="1.5"/><circle cx="392.2" cy="329.1" r="1.5"/><circle cx="478.7" cy="378.8" r="1.5"/></g><g fill="#b6b8d0" stroke="#474c78" stroke-width=".45"><circle cx="187.6" cy="392.7" r="1.5"/><circle cx="220.1" cy="394.8" r="1.5"/><circle cx="302.5" cy="358.2" r="1.5"/><circle cx="249.4" cy="375.3" r="1.5"/><circle cx="181.6" cy="425.4" r="1.5"/><circle cx="266.4" cy="389.3" r="1.5"/><circle cx="288.1" cy="371.3" r="1.5"/><circle cx="242.7" cy="380.6" r="1.5"/><circle cx="174.3" cy="440.9" r="1.5"/><circle cx="244.6" cy="375.1" r="1.5"/><circle cx="302.9" cy="380.5" r="1.5"/><circle cx="191.1" cy="407.3" r="1.5"/><circle cx="214.3" cy="401.5" r="1.5"/><circle cx="176.0" cy="418.6" r="1.5"/><circle cx="200.6" cy="403.4" r="1.5"/><circle cx="208.0" cy="385.7" r="1.5"/><circle cx="163.7" cy="410.0" r="1.5"/><circle cx="210.3" cy="396.1" r="1.5"/><circle cx="302.2" cy="382.4" r="1.5"/><circle cx="234.6" cy="381.9" r="1.5"/><circle cx="287.6" cy="350.5" r="1.5"/><circle cx="222.9" cy="388.3" r="1.5"/><circle cx="232.3" cy="381.2" r="1.5"/><circle cx="300.5" cy="356.1" r="1.5"/><circle cx="297.3" cy="369.1" r="1.5"/><circle cx="232.7" cy="374.3" r="1.5"/><circle cx="176.9" cy="429.2" r="1.5"/><circle cx="254.2" cy="379.1" r="1.5"/><circle cx="253.2" cy="383.1" r="1.5"/><circle cx="250.9" cy="387.6" r="1.5"/><circle cx="186.0" cy="405.4" r="1.5"/><circle cx="252.2" cy="392.6" r="1.5"/><circle cx="171.2" cy="447.0" r="1.5"/><circle cx="164.8" cy="411.9" r="1.5"/><circle cx="242.0" cy="377.9" r="1.5"/><circle cx="255.8" cy="389.0" r="1.5"/><circle cx="158.6" cy="428.5" r="1.5"/><circle cx="304.6" cy="353.4" r="1.5"/><circle cx="181.9" cy="408.3" r="1.5"/><circle cx="157.0" cy="441.5" r="1.5"/><circle cx="272.3" cy="391.5" r="1.5"/><circle cx="271.7" cy="390.0" r="1.5"/></g><g fill="#2f9a8f" stroke="#17554f" stroke-width=".45"><circle cx="240.6" cy="388.1" r="1.5"/><circle cx="192.8" cy="412.3" r="1.5"/><circle cx="308.7" cy="362.2" r="1.5"/><circle cx="294.6" cy="375.4" r="1.5"/></g><g fill="#f29d28" stroke="#9a6212" stroke-width=".45"><circle cx="234.4" cy="317.8" r="1.5"/><circle cx="206.2" cy="321.1" r="1.5"/><circle cx="173.5" cy="310.4" r="1.5"/><circle cx="192.8" cy="260.0" r="1.5"/><circle cx="243.4" cy="311.6" r="1.5"/><circle cx="244.0" cy="322.4" r="1.5"/><circle cx="158.2" cy="266.7" r="1.5"/><circle cx="265.9" cy="330.2" r="1.5"/><circle cx="193.1" cy="319.0" r="1.5"/><circle cx="169.5" cy="297.0" r="1.5"/><circle cx="183.9" cy="267.6" r="1.5"/><circle cx="244.1" cy="327.6" r="1.5"/><circle cx="172.6" cy="272.7" r="1.5"/><circle cx="176.6" cy="293.4" r="1.5"/><circle cx="220.0" cy="324.2" r="1.5"/><circle cx="239.0" cy="322.9" r="1.5"/><circle cx="167.3" cy="291.1" r="1.5"/><circle cx="161.0" cy="293.6" r="1.5"/><circle cx="170.5" cy="276.7" r="1.5"/><circle cx="165.1" cy="261.5" r="1.5"/><circle cx="190.4" cy="265.0" r="1.5"/><circle cx="157.4" cy="285.4" r="1.5"/><circle cx="158.2" cy="266.8" r="1.5"/><circle cx="201.5" cy="322.8" r="1.5"/><circle cx="226.1" cy="323.7" r="1.5"/><circle cx="203.9" cy="269.1" r="1.5"/><circle cx="188.2" cy="311.0" r="1.5"/><circle cx="156.9" cy="289.1" r="1.5"/></g><g fill="#2b3a92" stroke="#131a50" stroke-width=".45"><circle cx="221.3" cy="320.3" r="1.5"/><circle cx="217.1" cy="312.1" r="1.5"/><circle cx="203.8" cy="318.3" r="1.5"/><circle cx="199.7" cy="267.4" r="1.5"/><circle cx="194.0" cy="312.1" r="1.5"/><circle cx="261.7" cy="330.7" r="1.5"/><circle cx="204.6" cy="264.6" r="1.5"/><circle cx="205.0" cy="311.9" r="1.5"/><circle cx="277.7" cy="334.7" r="1.5"/><circle cx="193.0" cy="261.1" r="1.5"/><circle cx="274.1" cy="328.1" r="1.5"/><circle cx="231.1" cy="327.0" r="1.5"/><circle cx="257.3" cy="333.1" r="1.5"/><circle cx="219.9" cy="322.9" r="1.5"/><circle cx="176.7" cy="259.7" r="1.5"/><circle cx="210.6" cy="260.3" r="1.5"/><circle cx="235.3" cy="311.8" r="1.5"/><circle cx="219.1" cy="325.9" r="1.5"/><circle cx="173.3" cy="290.7" r="1.5"/><circle cx="237.9" cy="328.1" r="1.5"/><circle cx="186.2" cy="306.6" r="1.5"/><circle cx="235.0" cy="327.3" r="1.5"/><circle cx="149.9" cy="276.6" r="1.5"/><circle cx="238.4" cy="327.8" r="1.5"/><circle cx="232.3" cy="310.8" r="1.5"/><circle cx="243.9" cy="307.6" r="1.5"/><circle cx="262.3" cy="327.6" r="1.5"/><circle cx="202.6" cy="255.8" r="1.5"/><circle cx="234.1" cy="319.5" r="1.5"/><circle cx="196.1" cy="305.4" r="1.5"/></g><g fill="#2f9a8f" stroke="#17554f" stroke-width=".45"><circle cx="206.5" cy="316.1" r="1.5"/><circle cx="195.5" cy="312.7" r="1.5"/><circle cx="244.9" cy="331.9" r="1.5"/><circle cx="190.9" cy="308.6" r="1.5"/><circle cx="197.4" cy="316.9" r="1.5"/><circle cx="204.1" cy="306.6" r="1.5"/><circle cx="266.5" cy="329.7" r="1.5"/><circle cx="193.1" cy="254.1" r="1.5"/><circle cx="223.2" cy="328.7" r="1.5"/><circle cx="230.9" cy="316.2" r="1.5"/><circle cx="210.3" cy="266.8" r="1.5"/><circle cx="212.0" cy="306.9" r="1.5"/><circle cx="170.2" cy="265.3" r="1.5"/><circle cx="195.4" cy="304.3" r="1.5"/><circle cx="171.9" cy="264.1" r="1.5"/><circle cx="180.1" cy="304.3" r="1.5"/><circle cx="207.9" cy="261.9" r="1.5"/><circle cx="274.0" cy="339.9" r="1.5"/><circle cx="228.7" cy="324.6" r="1.5"/><circle cx="158.0" cy="279.1" r="1.5"/><circle cx="180.0" cy="258.1" r="1.5"/><circle cx="212.7" cy="262.8" r="1.5"/><circle cx="177.3" cy="260.1" r="1.5"/><circle cx="268.7" cy="338.3" r="1.5"/><circle cx="163.0" cy="292.0" r="1.5"/><circle cx="165.3" cy="273.6" r="1.5"/><circle cx="167.1" cy="296.6" r="1.5"/><circle cx="180.2" cy="266.3" r="1.5"/><circle cx="156.8" cy="275.5" r="1.5"/><circle cx="169.7" cy="290.8" r="1.5"/></g><g fill="#d0d0d3" stroke="#6c6c6e" stroke-width=".45"><circle cx="240.4" cy="232.6" r="1.5"/><circle cx="219.8" cy="261.3" r="1.5"/><circle cx="242.4" cy="248.8" r="1.5"/><circle cx="242.6" cy="258.5" r="1.5"/><circle cx="254.7" cy="265.6" r="1.5"/><circle cx="220.2" cy="264.1" r="1.5"/><circle cx="229.9" cy="253.3" r="1.5"/><circle cx="233.8" cy="249.7" r="1.5"/><circle cx="216.7" cy="258.8" r="1.5"/><circle cx="253.4" cy="265.6" r="1.5"/><circle cx="227.3" cy="258.6" r="1.5"/><circle cx="230.4" cy="260.4" r="1.5"/><circle cx="237.4" cy="250.4" r="1.5"/><circle cx="223.5" cy="263.4" r="1.5"/></g><g fill="#2f9a8f" stroke="#17554f" stroke-width=".45"><circle cx="240.7" cy="250.1" r="1.5"/><circle cx="236.4" cy="249.1" r="1.5"/><circle cx="241.5" cy="265.4" r="1.5"/><circle cx="218.1" cy="252.3" r="1.5"/><circle cx="230.8" cy="245.4" r="1.5"/></g><g fill="#d0d0d3" stroke="#6c6c6e" stroke-width=".45"><circle cx="422.6" cy="258.8" r="1.5"/><circle cx="412.9" cy="298.9" r="1.5"/><circle cx="412.6" cy="220.9" r="1.5"/><circle cx="404.8" cy="283.6" r="1.5"/><circle cx="423.6" cy="250.2" r="1.5"/><circle cx="409.5" cy="279.9" r="1.5"/><circle cx="422.0" cy="258.0" r="1.5"/><circle cx="420.2" cy="264.9" r="1.5"/></g><g fill="#d0d0d3" stroke="#6c6c6e" stroke-width=".45"><circle cx="479.5" cy="215.4" r="1.5"/><circle cx="480.3" cy="213.8" r="1.5"/><circle cx="476.4" cy="217.2" r="1.5"/><circle cx="483.3" cy="210.0" r="1.5"/><circle cx="474.9" cy="221.4" r="1.5"/></g><g fill="#d0d0d3" stroke="#6c6c6e" stroke-width=".45"><circle cx="501.0" cy="267.9" r="1.5"/><circle cx="508.6" cy="273.9" r="1.5"/></g><g fill="#f29d28" stroke="#9a6212" stroke-width=".5"><circle cx="187.9" cy="250.6" r="1.5"/><circle cx="209.8" cy="260.4" r="1.5"/><circle cx="200.7" cy="267.6" r="1.5"/><circle cx="209.8" cy="254.4" r="1.5"/><circle cx="186.4" cy="266.6" r="1.5"/><circle cx="202.8" cy="253.5" r="1.5"/><circle cx="202.2" cy="261.7" r="1.5"/><circle cx="204.7" cy="267.7" r="1.5"/><circle cx="186.3" cy="264.7" r="1.5"/><circle cx="192.7" cy="269.2" r="1.5"/><circle cx="205.9" cy="248.0" r="1.5"/><circle cx="191.4" cy="261.3" r="1.5"/><circle cx="195.0" cy="253.6" r="1.5"/><circle cx="209.1" cy="252.7" r="1.5"/><circle cx="197.3" cy="262.0" r="1.5"/><circle cx="188.9" cy="250.9" r="1.5"/><circle cx="205.0" cy="255.2" r="1.5"/><circle cx="206.4" cy="254.7" r="1.5"/><circle cx="202.4" cy="259.7" r="1.5"/><circle cx="204.5" cy="262.7" r="1.5"/><circle cx="196.8" cy="271.0" r="1.5"/><circle cx="210.1" cy="254.6" r="1.5"/><circle cx="209.2" cy="253.9" r="1.5"/><circle cx="205.0" cy="259.4" r="1.5"/><circle cx="206.4" cy="260.6" r="1.5"/><circle cx="185.3" cy="267.2" r="1.5"/><circle cx="190.9" cy="253.0" r="1.5"/><circle cx="210.9" cy="247.5" r="1.5"/><circle cx="208.3" cy="268.1" r="1.5"/><circle cx="209.9" cy="253.6" r="1.5"/><circle cx="204.6" cy="252.9" r="1.5"/><circle cx="190.8" cy="252.2" r="1.5"/><circle cx="202.6" cy="259.9" r="1.5"/><circle cx="192.6" cy="264.7" r="1.5"/><circle cx="211.1" cy="249.0" r="1.5"/><circle cx="196.1" cy="265.9" r="1.5"/><circle cx="190.4" cy="266.5" r="1.5"/><circle cx="205.6" cy="262.3" r="1.5"/><circle cx="201.9" cy="248.1" r="1.5"/><circle cx="211.1" cy="255.9" r="1.5"/><circle cx="205.9" cy="248.1" r="1.5"/><circle cx="208.8" cy="252.7" r="1.5"/><circle cx="206.8" cy="256.7" r="1.5"/><circle cx="188.9" cy="260.0" r="1.5"/><circle cx="203.5" cy="269.4" r="1.5"/><circle cx="204.1" cy="271.2" r="1.5"/><circle cx="196.3" cy="258.1" r="1.5"/><circle cx="208.7" cy="257.9" r="1.5"/><circle cx="207.7" cy="253.1" r="1.5"/><circle cx="205.0" cy="260.4" r="1.5"/><circle cx="209.3" cy="251.3" r="1.5"/><circle cx="209.0" cy="268.0" r="1.5"/><circle cx="189.4" cy="269.3" r="1.5"/><circle cx="200.8" cy="263.1" r="1.5"/><circle cx="180.8" cy="264.3" r="1.5"/><circle cx="210.2" cy="251.2" r="1.5"/><circle cx="198.9" cy="262.4" r="1.5"/><circle cx="203.6" cy="265.5" r="1.5"/></g><g fill="#d0d0d3" stroke="#6c6c6e" stroke-width=".5"><circle cx="215.5" cy="258.4" r="1.5"/><circle cx="227.4" cy="254.7" r="1.5"/><circle cx="212.9" cy="261.1" r="1.5"/><circle cx="222.8" cy="242.2" r="1.5"/><circle cx="215.9" cy="252.2" r="1.5"/><circle cx="228.8" cy="266.2" r="1.5"/><circle cx="224.0" cy="249.8" r="1.5"/><circle cx="212.8" cy="255.8" r="1.5"/><circle cx="213.3" cy="259.0" r="1.5"/><circle cx="217.2" cy="263.5" r="1.5"/><circle cx="219.2" cy="251.4" r="1.5"/><circle cx="217.6" cy="266.5" r="1.5"/><circle cx="224.1" cy="253.7" r="1.5"/><circle cx="227.7" cy="260.6" r="1.5"/><circle cx="215.2" cy="249.5" r="1.5"/><circle cx="213.1" cy="262.2" r="1.5"/><circle cx="215.6" cy="251.8" r="1.5"/><circle cx="212.7" cy="251.7" r="1.5"/><circle cx="218.2" cy="251.5" r="1.5"/><circle cx="230.3" cy="244.6" r="1.5"/><circle cx="220.1" cy="262.5" r="1.5"/><circle cx="218.8" cy="243.4" r="1.5"/><circle cx="222.0" cy="264.1" r="1.5"/><circle cx="218.6" cy="249.6" r="1.5"/><circle cx="223.4" cy="244.3" r="1.5"/><circle cx="222.3" cy="266.6" r="1.5"/><circle cx="213.9" cy="268.4" r="1.5"/><circle cx="215.2" cy="265.9" r="1.5"/><circle cx="220.7" cy="266.9" r="1.5"/><circle cx="223.4" cy="243.6" r="1.5"/><circle cx="219.8" cy="259.8" r="1.5"/><circle cx="223.4" cy="270.5" r="1.5"/><circle cx="222.5" cy="270.0" r="1.5"/><circle cx="215.4" cy="263.6" r="1.5"/><circle cx="229.0" cy="247.2" r="1.5"/><circle cx="287.7" cy="344.9" r="1.5"/><circle cx="284.4" cy="347.9" r="1.5"/><circle cx="294.1" cy="374.6" r="1.5"/><circle cx="287.0" cy="341.9" r="1.5"/><circle cx="289.9" cy="348.0" r="1.5"/><circle cx="288.3" cy="339.5" r="1.5"/><circle cx="296.3" cy="358.1" r="1.5"/><circle cx="285.9" cy="373.8" r="1.5"/><circle cx="289.1" cy="348.9" r="1.5"/><circle cx="299.4" cy="380.5" r="1.5"/><circle cx="272.8" cy="383.2" r="1.5"/><circle cx="278.6" cy="373.4" r="1.5"/><circle cx="280.1" cy="341.2" r="1.5"/><circle cx="275.8" cy="382.9" r="1.5"/><circle cx="294.4" cy="351.9" r="1.5"/><circle cx="295.6" cy="351.1" r="1.5"/><circle cx="292.3" cy="352.1" r="1.5"/><circle cx="281.3" cy="340.5" r="1.5"/><circle cx="296.6" cy="372.8" r="1.5"/><circle cx="281.4" cy="377.0" r="1.5"/><circle cx="293.9" cy="346.4" r="1.5"/><circle cx="273.7" cy="380.7" r="1.5"/><circle cx="291.3" cy="381.5" r="1.5"/><circle cx="286.8" cy="374.8" r="1.5"/><circle cx="284.0" cy="339.6" r="1.5"/><circle cx="298.3" cy="357.1" r="1.5"/><circle cx="293.0" cy="347.3" r="1.5"/><circle cx="288.5" cy="350.2" r="1.5"/><circle cx="298.3" cy="358.6" r="1.5"/><circle cx="287.8" cy="342.2" r="1.5"/><circle cx="290.7" cy="354.6" r="1.5"/><circle cx="295.9" cy="363.6" r="1.5"/><circle cx="286.5" cy="355.1" r="1.5"/><circle cx="286.5" cy="381.1" r="1.5"/><circle cx="297.8" cy="356.7" r="1.5"/><circle cx="287.9" cy="383.8" r="1.5"/><circle cx="288.9" cy="340.6" r="1.5"/></g><g fill="#2b3a92" stroke="#131a50" stroke-width=".5"><circle cx="263.3" cy="324.3" r="1.5"/><circle cx="254.6" cy="329.8" r="1.5"/><circle cx="260.9" cy="322.8" r="1.5"/><circle cx="278.1" cy="344.9" r="1.5"/><circle cx="275.4" cy="333.8" r="1.5"/><circle cx="266.2" cy="333.6" r="1.5"/><circle cx="266.7" cy="332.0" r="1.5"/><circle cx="276.7" cy="337.2" r="1.5"/><circle cx="244.7" cy="330.7" r="1.5"/><circle cx="246.3" cy="323.7" r="1.5"/><circle cx="257.7" cy="336.4" r="1.5"/><circle cx="276.2" cy="340.2" r="1.5"/><circle cx="265.8" cy="328.4" r="1.5"/><circle cx="272.6" cy="330.8" r="1.5"/><circle cx="268.4" cy="333.7" r="1.5"/><circle cx="277.2" cy="340.1" r="1.5"/><circle cx="262.9" cy="326.0" r="1.5"/><circle cx="278.1" cy="329.2" r="1.5"/><circle cx="277.6" cy="331.9" r="1.5"/><circle cx="272.2" cy="325.5" r="1.5"/><circle cx="256.1" cy="336.3" r="1.5"/><circle cx="266.0" cy="326.0" r="1.5"/><circle cx="265.3" cy="339.5" r="1.5"/><circle cx="263.5" cy="337.1" r="1.5"/><circle cx="248.3" cy="310.1" r="1.5"/><circle cx="272.7" cy="336.4" r="1.5"/><circle cx="260.0" cy="326.5" r="1.5"/><circle cx="271.4" cy="343.3" r="1.5"/><circle cx="275.9" cy="332.5" r="1.5"/><circle cx="242.4" cy="309.3" r="1.5"/><circle cx="273.7" cy="332.5" r="1.5"/><circle cx="278.6" cy="341.0" r="1.5"/><circle cx="258.6" cy="337.0" r="1.5"/><circle cx="248.2" cy="311.3" r="1.5"/><circle cx="271.7" cy="337.9" r="1.5"/><circle cx="272.4" cy="335.4" r="1.5"/><circle cx="258.9" cy="328.8" r="1.5"/><circle cx="264.8" cy="331.8" r="1.5"/><circle cx="266.2" cy="332.1" r="1.5"/><circle cx="265.3" cy="331.1" r="1.5"/><circle cx="278.0" cy="331.9" r="1.5"/><circle cx="251.3" cy="317.9" r="1.5"/><circle cx="272.4" cy="336.5" r="1.5"/><circle cx="275.6" cy="337.7" r="1.5"/><circle cx="257.2" cy="331.8" r="1.5"/><circle cx="249.7" cy="318.6" r="1.5"/><circle cx="249.7" cy="311.6" r="1.5"/><circle cx="263.3" cy="331.3" r="1.5"/><circle cx="242.5" cy="303.0" r="1.5"/><circle cx="273.3" cy="336.1" r="1.5"/><circle cx="254.2" cy="332.5" r="1.5"/><circle cx="254.3" cy="323.5" r="1.5"/><circle cx="254.9" cy="334.4" r="1.5"/><circle cx="265.9" cy="337.6" r="1.5"/><circle cx="257.9" cy="332.0" r="1.5"/><circle cx="249.0" cy="319.8" r="1.5"/><circle cx="277.5" cy="338.6" r="1.5"/><circle cx="258.0" cy="332.9" r="1.5"/><circle cx="277.7" cy="339.2" r="1.5"/><circle cx="271.5" cy="329.4" r="1.5"/><circle cx="268.9" cy="328.1" r="1.5"/><circle cx="266.2" cy="336.0" r="1.5"/><circle cx="277.4" cy="335.4" r="1.5"/><circle cx="265.9" cy="334.5" r="1.5"/><circle cx="246.8" cy="321.7" r="1.5"/></g></g><g id="plotB" transform="matrix(0.9854 0 0 0.985 7.9 586.1)"><path d="M277.9 42.5C284.0 42.1 291.4 43.5 297.6 44.9C303.8 46.4 310.1 49.0 314.9 51.1C319.7 53.3 322.5 55.4 326.4 58.0C330.2 60.5 334.7 64.1 337.9 66.4C341.1 68.7 343.0 69.6 345.6 71.8C348.1 73.9 350.6 76.5 353.1 79.4C355.7 82.3 358.5 85.7 360.7 89.2C363.0 92.8 365.6 98.1 366.8 100.6C368.1 103.2 368.2 103.8 368.2 104.4C368.3 105.1 368.0 106.1 367.1 104.6C366.2 103.0 364.5 98.3 362.7 95.0C360.9 91.8 358.9 87.8 356.5 84.8C354.1 81.8 350.7 78.7 348.5 76.9C346.3 75.1 345.5 74.7 343.6 74.0C341.7 73.3 339.0 72.9 337.0 72.9C335.0 72.8 333.0 73.4 331.8 73.9C330.6 74.5 331.0 75.8 330.0 76.2C329.0 76.5 327.4 75.8 326.0 76.1C324.6 76.4 322.6 76.9 321.6 78.0C320.5 79.2 320.1 80.9 319.7 82.9C319.2 84.9 319.3 87.6 319.0 90.0C318.6 92.5 317.8 94.9 317.4 97.7C316.9 100.6 316.6 105.4 316.5 107.2C316.4 108.9 316.5 105.8 316.8 108.1C317.1 110.3 317.3 116.8 318.3 120.6C319.4 124.4 321.7 127.5 323.1 130.8C324.5 134.1 326.1 137.3 326.8 140.6C327.5 143.9 327.5 147.0 327.3 150.3C327.1 153.6 325.9 157.0 325.8 160.4C325.7 163.8 326.1 168.2 326.8 170.8C327.6 173.4 329.1 175.4 330.1 176.1C331.1 176.8 330.3 175.3 332.8 174.9C335.3 174.5 341.3 173.9 345.1 173.7C349.0 173.6 353.1 173.8 355.9 173.9C358.7 174.1 360.4 173.9 362.0 174.8C363.7 175.7 365.4 177.4 365.9 179.3C366.4 181.3 365.8 184.4 364.9 186.6C364.1 188.8 362.5 191.5 360.9 192.5C359.2 193.4 357.2 192.5 355.1 192.4C352.9 192.2 350.1 191.3 348.0 191.4C345.8 191.4 343.8 191.6 342.3 192.6C340.9 193.5 339.8 195.4 339.4 197.2C339.0 199.0 339.4 201.7 339.9 203.4C340.4 205.0 340.2 206.7 342.5 207.2C344.8 207.7 350.1 205.9 353.7 206.3C357.2 206.8 360.0 209.0 363.6 210.0C367.1 211.0 371.4 211.7 374.9 212.5C378.5 213.3 381.9 213.5 384.7 214.9C387.5 216.3 389.8 218.3 391.8 220.9C393.8 223.5 396.0 227.2 396.6 230.4C397.2 233.6 396.6 236.7 395.4 239.9C394.2 243.1 391.5 246.6 389.3 249.6C387.0 252.7 384.4 255.8 381.9 258.3C379.4 260.7 377.0 262.5 374.5 264.4C372.1 266.2 370.0 268.0 367.1 269.2C364.3 270.5 360.2 270.9 357.2 271.8C354.3 272.7 351.6 273.4 349.5 274.8C347.3 276.3 345.6 278.2 344.2 280.3C342.7 282.5 341.4 285.1 340.7 287.7C340.0 290.3 340.9 292.4 340.1 295.9C339.3 299.3 338.0 304.2 336.0 308.3C333.9 312.4 330.3 318.1 327.8 320.6C325.3 323.0 323.6 323.6 320.8 323.0C318.1 322.4 314.2 319.6 311.4 317.0C308.7 314.4 305.8 310.5 304.2 307.3C302.6 304.1 301.8 301.0 301.8 297.8C301.8 294.6 302.6 291.1 304.1 288.3C305.7 285.6 308.5 283.0 311.3 281.2C314.1 279.4 317.4 278.4 321.0 277.6C324.5 276.8 328.6 277.2 332.7 276.3C336.8 275.5 342.1 273.8 345.5 272.5C348.9 271.2 350.7 270.2 353.2 268.6C355.8 266.9 358.5 264.6 360.9 262.5C363.2 260.4 365.6 258.3 367.3 256.0C369.0 253.8 371.1 250.9 371.2 249.0C371.4 247.0 370.5 245.6 368.3 244.4C366.0 243.1 363.2 242.0 357.7 241.7C352.3 241.3 342.5 241.8 335.4 242.0C328.4 242.3 322.1 243.7 315.5 243.3C308.8 242.9 302.3 241.4 295.7 239.6C289.0 237.7 282.4 235.0 275.7 232.1C269.1 229.2 262.4 225.8 255.8 222.1C249.1 218.4 242.1 215.1 235.9 209.7C229.7 204.3 222.7 195.2 218.5 189.8C214.4 184.5 213.4 182.0 211.1 177.5C208.8 172.9 206.7 167.9 204.9 162.6C203.2 157.2 201.4 151.4 200.7 145.2C200.0 139.1 199.8 132.1 200.7 125.5C201.6 118.9 203.6 111.9 206.1 105.7C208.7 99.5 212.3 93.7 216.0 88.4C219.8 83.0 223.9 78.4 228.5 73.4C233.1 68.5 238.0 62.9 243.4 58.5C248.8 54.2 255.0 50.1 260.7 47.4C266.5 44.7 271.7 42.9 277.9 42.5Z" fill="none" stroke="#232323" stroke-width="3.1" stroke-dasharray="0 2.7" stroke-linecap="round"/><path d="M277.9 42.5C284.0 42.1 291.4 43.5 297.6 44.9C303.8 46.4 310.1 49.0 314.9 51.1C319.7 53.3 322.5 55.4 326.4 58.0C330.2 60.5 334.7 64.1 337.9 66.4C341.1 68.7 343.0 69.6 345.6 71.8C348.1 73.9 350.6 76.5 353.1 79.4C355.7 82.3 358.5 85.7 360.7 89.2C363.0 92.8 365.6 98.1 366.8 100.6C368.1 103.2 368.2 103.8 368.2 104.4C368.3 105.1 368.0 106.1 367.1 104.6C366.2 103.0 364.5 98.3 362.7 95.0C360.9 91.8 358.9 87.8 356.5 84.8C354.1 81.8 350.7 78.7 348.5 76.9C346.3 75.1 345.5 74.7 343.6 74.0C341.7 73.3 339.0 72.9 337.0 72.9C335.0 72.8 333.0 73.4 331.8 73.9C330.6 74.5 331.0 75.8 330.0 76.2C329.0 76.5 327.4 75.8 326.0 76.1C324.6 76.4 322.6 76.9 321.6 78.0C320.5 79.2 320.1 80.9 319.7 82.9C319.2 84.9 319.3 87.6 319.0 90.0C318.6 92.5 317.8 94.9 317.4 97.7C316.9 100.6 316.6 105.4 316.5 107.2C316.4 108.9 316.5 105.8 316.8 108.1C317.1 110.3 317.3 116.8 318.3 120.6C319.4 124.4 321.7 127.5 323.1 130.8C324.5 134.1 326.1 137.3 326.8 140.6C327.5 143.9 327.5 147.0 327.3 150.3C327.1 153.6 325.9 157.0 325.8 160.4C325.7 163.8 326.1 168.2 326.8 170.8C327.6 173.4 329.1 175.4 330.1 176.1C331.1 176.8 330.3 175.3 332.8 174.9C335.3 174.5 341.3 173.9 345.1 173.7C349.0 173.6 353.1 173.8 355.9 173.9C358.7 174.1 360.4 173.9 362.0 174.8C363.7 175.7 365.4 177.4 365.9 179.3C366.4 181.3 365.8 184.4 364.9 186.6C364.1 188.8 362.5 191.5 360.9 192.5C359.2 193.4 357.2 192.5 355.1 192.4C352.9 192.2 350.1 191.3 348.0 191.4C345.8 191.4 343.8 191.6 342.3 192.6C340.9 193.5 339.8 195.4 339.4 197.2C339.0 199.0 339.4 201.7 339.9 203.4C340.4 205.0 340.2 206.7 342.5 207.2C344.8 207.7 350.1 205.9 353.7 206.3C357.2 206.8 360.0 209.0 363.6 210.0C367.1 211.0 371.4 211.7 374.9 212.5C378.5 213.3 381.9 213.5 384.7 214.9C387.5 216.3 389.8 218.3 391.8 220.9C393.8 223.5 396.0 227.2 396.6 230.4C397.2 233.6 396.6 236.7 395.4 239.9C394.2 243.1 391.5 246.6 389.3 249.6C387.0 252.7 384.4 255.8 381.9 258.3C379.4 260.7 377.0 262.5 374.5 264.4C372.1 266.2 370.0 268.0 367.1 269.2C364.3 270.5 360.2 270.9 357.2 271.8C354.3 272.7 351.6 273.4 349.5 274.8C347.3 276.3 345.6 278.2 344.2 280.3C342.7 282.5 341.4 285.1 340.7 287.7C340.0 290.3 340.9 292.4 340.1 295.9C339.3 299.3 338.0 304.2 336.0 308.3C333.9 312.4 330.3 318.1 327.8 320.6C325.3 323.0 323.6 323.6 320.8 323.0C318.1 322.4 314.2 319.6 311.4 317.0C308.7 314.4 305.8 310.5 304.2 307.3C302.6 304.1 301.8 301.0 301.8 297.8C301.8 294.6 302.6 291.1 304.1 288.3C305.7 285.6 308.5 283.0 311.3 281.2C314.1 279.4 317.4 278.4 321.0 277.6C324.5 276.8 328.6 277.2 332.7 276.3C336.8 275.5 342.1 273.8 345.5 272.5C348.9 271.2 350.7 270.2 353.2 268.6C355.8 266.9 358.5 264.6 360.9 262.5C363.2 260.4 365.6 258.3 367.3 256.0C369.0 253.8 371.1 250.9 371.2 249.0C371.4 247.0 370.5 245.6 368.3 244.4C366.0 243.1 363.2 242.0 357.7 241.7C352.3 241.3 342.5 241.8 335.4 242.0C328.4 242.3 322.1 243.7 315.5 243.3C308.8 242.9 302.3 241.4 295.7 239.6C289.0 237.7 282.4 235.0 275.7 232.1C269.1 229.2 262.4 225.8 255.8 222.1C249.1 218.4 242.1 215.1 235.9 209.7C229.7 204.3 222.7 195.2 218.5 189.8C214.4 184.5 213.4 182.0 211.1 177.5C208.8 172.9 206.7 167.9 204.9 162.6C203.2 157.2 201.4 151.4 200.7 145.2C200.0 139.1 199.8 132.1 200.7 125.5C201.6 118.9 203.6 111.9 206.1 105.7C208.7 99.5 212.3 93.7 216.0 88.4C219.8 83.0 223.9 78.4 228.5 73.4C233.1 68.5 238.0 62.9 243.4 58.5C248.8 54.2 255.0 50.1 260.7 47.4C266.5 44.7 271.7 42.9 277.9 42.5Z" fill="url(#pdk)" fill-rule="evenodd" stroke="#484848" stroke-width="2.0" stroke-dasharray="0 2.7" stroke-linecap="round"/><path d="M360.3 173.9C361.2 173.2 366.8 178.6 369.8 180.6C372.9 182.5 375.3 183.5 378.6 185.6C382.0 187.6 386.3 190.6 389.9 193.0C393.4 195.5 397.1 198.4 399.9 200.5C402.6 202.7 406.1 204.4 406.5 206.0C406.8 207.7 404.6 211.5 402.0 210.5C399.3 209.4 394.1 202.7 390.6 199.7C387.0 196.6 383.9 193.8 380.4 192.1C377.0 190.4 373.1 189.4 370.1 189.6C367.0 189.7 363.3 193.8 362.4 193.1C361.4 192.3 364.9 188.2 364.5 185.0C364.2 181.8 359.5 174.7 360.3 173.9Z" fill="none" stroke="#232323" stroke-width="3.1" stroke-dasharray="0 2.7" stroke-linecap="round"/><path d="M360.3 173.9C361.2 173.2 366.8 178.6 369.8 180.6C372.9 182.5 375.3 183.5 378.6 185.6C382.0 187.6 386.3 190.6 389.9 193.0C393.4 195.5 397.1 198.4 399.9 200.5C402.6 202.7 406.1 204.4 406.5 206.0C406.8 207.7 404.6 211.5 402.0 210.5C399.3 209.4 394.1 202.7 390.6 199.7C387.0 196.6 383.9 193.8 380.4 192.1C377.0 190.4 373.1 189.4 370.1 189.6C367.0 189.7 363.3 193.8 362.4 193.1C361.4 192.3 364.9 188.2 364.5 185.0C364.2 181.8 359.5 174.7 360.3 173.9Z" fill="url(#pdk)" fill-rule="evenodd" stroke="#484848" stroke-width="2.0" stroke-dasharray="0 2.7" stroke-linecap="round"/><path d="M407.0 206.5C408.2 206.3 408.2 206.9 409.9 209.3C411.6 211.6 415.3 216.9 417.3 220.5C419.4 224.0 420.8 227.1 422.3 230.4C423.8 233.7 425.2 237.1 426.1 240.4C426.9 243.7 427.1 247.0 427.3 250.3C427.4 253.6 427.5 257.1 426.7 260.2C425.9 263.2 424.3 266.1 422.4 268.8C420.4 271.5 417.4 273.5 414.9 276.2C412.4 279.0 408.8 283.1 407.3 285.1C405.9 287.1 405.2 286.3 406.3 288.3C407.3 290.3 411.2 294.4 413.6 297.1C416.0 299.7 419.6 302.5 420.5 304.0C421.3 305.5 420.6 306.7 418.9 306.0C417.2 305.2 413.1 301.6 410.3 299.6C407.5 297.5 404.6 294.7 402.2 293.5C399.9 292.3 397.5 292.7 396.4 292.1C395.3 291.5 395.0 291.3 395.7 290.1C396.4 288.9 398.7 286.9 400.6 284.9C402.5 282.9 404.8 280.7 406.9 278.3C409.0 275.9 411.8 273.1 413.3 270.6C414.8 268.0 414.8 265.1 415.8 263.1C416.8 261.0 418.7 260.1 419.5 258.0C420.3 255.9 420.8 253.3 420.8 250.3C420.9 247.3 420.6 244.0 419.5 240.2C418.5 236.4 416.4 231.3 414.5 227.5C412.6 223.7 410.2 220.1 408.2 217.4C406.3 214.6 402.8 212.8 402.5 211.0C402.3 209.2 405.8 206.8 407.0 206.5Z" fill="none" stroke="#3689b6" stroke-width="3.1" stroke-dasharray="0 2.7" stroke-linecap="round"/><path d="M407.0 206.5C408.2 206.3 408.2 206.9 409.9 209.3C411.6 211.6 415.3 216.9 417.3 220.5C419.4 224.0 420.8 227.1 422.3 230.4C423.8 233.7 425.2 237.1 426.1 240.4C426.9 243.7 427.1 247.0 427.3 250.3C427.4 253.6 427.5 257.1 426.7 260.2C425.9 263.2 424.3 266.1 422.4 268.8C420.4 271.5 417.4 273.5 414.9 276.2C412.4 279.0 408.8 283.1 407.3 285.1C405.9 287.1 405.2 286.3 406.3 288.3C407.3 290.3 411.2 294.4 413.6 297.1C416.0 299.7 419.6 302.5 420.5 304.0C421.3 305.5 420.6 306.7 418.9 306.0C417.2 305.2 413.1 301.6 410.3 299.6C407.5 297.5 404.6 294.7 402.2 293.5C399.9 292.3 397.5 292.7 396.4 292.1C395.3 291.5 395.0 291.3 395.7 290.1C396.4 288.9 398.7 286.9 400.6 284.9C402.5 282.9 404.8 280.7 406.9 278.3C409.0 275.9 411.8 273.1 413.3 270.6C414.8 268.0 414.8 265.1 415.8 263.1C416.8 261.0 418.7 260.1 419.5 258.0C420.3 255.9 420.8 253.3 420.8 250.3C420.9 247.3 420.6 244.0 419.5 240.2C418.5 236.4 416.4 231.3 414.5 227.5C412.6 223.7 410.2 220.1 408.2 217.4C406.3 214.6 402.8 212.8 402.5 211.0C402.3 209.2 405.8 206.8 407.0 206.5Z" fill="url(#plb)" fill-rule="evenodd" stroke="#5cc1ef" stroke-width="2.0" stroke-dasharray="0 2.7" stroke-linecap="round"/><path d="M390.4 292.9C394.1 291.3 396.6 290.5 400.3 291.9C404.1 293.3 408.7 299.4 412.9 301.4C417.1 303.3 422.3 301.3 425.4 303.4C428.5 305.4 429.7 310.1 431.4 313.5C433.1 317.0 434.4 320.2 435.6 324.0C436.8 327.8 438.4 332.0 438.7 336.5C439.1 341.0 438.4 346.2 437.7 351.1C437.0 355.9 435.9 360.9 434.5 365.8C433.1 370.7 431.2 375.9 429.3 380.5C427.3 385.0 424.7 389.4 422.9 393.1C421.2 396.8 417.5 401.0 418.7 402.7C420.0 404.4 426.4 403.9 430.5 403.3C434.6 402.6 439.2 400.7 443.5 398.9C447.8 397.2 452.1 395.4 456.4 392.5C460.7 389.6 466.1 385.6 469.4 381.6C472.6 377.7 473.7 373.0 475.9 368.7C478.0 364.4 480.5 359.9 482.3 355.9C484.1 352.0 486.2 349.4 486.6 345.0C487.0 340.6 485.9 334.4 484.4 329.7C483.0 324.9 480.5 320.8 478.0 316.7C475.4 312.5 471.7 307.7 469.4 304.9C467.0 302.1 464.5 300.9 463.7 299.9C462.9 298.9 462.6 297.0 464.7 298.9C466.7 300.8 472.8 307.0 476.1 311.2C479.4 315.4 482.3 319.5 484.4 324.1C486.5 328.7 487.7 333.8 488.6 338.7C489.4 343.5 490.0 348.1 489.6 353.3C489.3 358.5 488.1 364.4 486.5 370.0C484.9 375.6 482.6 381.5 480.2 386.8C477.7 392.0 474.9 396.9 471.8 401.5C468.7 406.0 465.2 410.4 461.3 414.0C457.5 417.7 453.0 421.0 448.8 423.4C444.7 425.8 440.2 427.7 436.4 428.6C432.7 429.4 429.7 429.3 426.3 428.6C422.9 427.9 419.5 426.5 416.0 424.5C412.6 422.4 408.8 419.3 405.7 416.2C402.5 413.0 400.1 409.6 397.3 405.7C394.5 401.8 391.6 396.9 388.8 393.0C386.0 389.1 382.8 385.5 380.3 382.3C377.9 379.2 375.6 377.5 374.1 374.1C372.5 370.6 371.5 365.8 371.0 361.7C370.5 357.5 370.6 353.4 371.0 349.2C371.3 345.0 372.4 340.5 373.1 336.6C373.8 332.6 375.5 328.4 375.2 325.6C374.9 322.7 373.5 319.9 371.3 319.4C369.1 318.9 365.4 322.0 362.2 322.5C359.0 323.0 354.6 322.9 352.1 322.5C349.7 322.1 348.2 320.8 347.6 320.1C347.0 319.3 346.5 318.8 348.3 318.1C350.2 317.5 355.5 317.6 358.7 316.2C361.8 314.8 364.2 312.2 367.4 309.7C370.6 307.2 374.1 304.0 378.0 301.2C381.8 298.4 386.7 294.5 390.4 292.9Z" fill="none" stroke="#3689b6" stroke-width="3.1" stroke-dasharray="0 2.7" stroke-linecap="round"/><path d="M390.4 292.9C394.1 291.3 396.6 290.5 400.3 291.9C404.1 293.3 408.7 299.4 412.9 301.4C417.1 303.3 422.3 301.3 425.4 303.4C428.5 305.4 429.7 310.1 431.4 313.5C433.1 317.0 434.4 320.2 435.6 324.0C436.8 327.8 438.4 332.0 438.7 336.5C439.1 341.0 438.4 346.2 437.7 351.1C437.0 355.9 435.9 360.9 434.5 365.8C433.1 370.7 431.2 375.9 429.3 380.5C427.3 385.0 424.7 389.4 422.9 393.1C421.2 396.8 417.5 401.0 418.7 402.7C420.0 404.4 426.4 403.9 430.5 403.3C434.6 402.6 439.2 400.7 443.5 398.9C447.8 397.2 452.1 395.4 456.4 392.5C460.7 389.6 466.1 385.6 469.4 381.6C472.6 377.7 473.7 373.0 475.9 368.7C478.0 364.4 480.5 359.9 482.3 355.9C484.1 352.0 486.2 349.4 486.6 345.0C487.0 340.6 485.9 334.4 484.4 329.7C483.0 324.9 480.5 320.8 478.0 316.7C475.4 312.5 471.7 307.7 469.4 304.9C467.0 302.1 464.5 300.9 463.7 299.9C462.9 298.9 462.6 297.0 464.7 298.9C466.7 300.8 472.8 307.0 476.1 311.2C479.4 315.4 482.3 319.5 484.4 324.1C486.5 328.7 487.7 333.8 488.6 338.7C489.4 343.5 490.0 348.1 489.6 353.3C489.3 358.5 488.1 364.4 486.5 370.0C484.9 375.6 482.6 381.5 480.2 386.8C477.7 392.0 474.9 396.9 471.8 401.5C468.7 406.0 465.2 410.4 461.3 414.0C457.5 417.7 453.0 421.0 448.8 423.4C444.7 425.8 440.2 427.7 436.4 428.6C432.7 429.4 429.7 429.3 426.3 428.6C422.9 427.9 419.5 426.5 416.0 424.5C412.6 422.4 408.8 419.3 405.7 416.2C402.5 413.0 400.1 409.6 397.3 405.7C394.5 401.8 391.6 396.9 388.8 393.0C386.0 389.1 382.8 385.5 380.3 382.3C377.9 379.2 375.6 377.5 374.1 374.1C372.5 370.6 371.5 365.8 371.0 361.7C370.5 357.5 370.6 353.4 371.0 349.2C371.3 345.0 372.4 340.5 373.1 336.6C373.8 332.6 375.5 328.4 375.2 325.6C374.9 322.7 373.5 319.9 371.3 319.4C369.1 318.9 365.4 322.0 362.2 322.5C359.0 323.0 354.6 322.9 352.1 322.5C349.7 322.1 348.2 320.8 347.6 320.1C347.0 319.3 346.5 318.8 348.3 318.1C350.2 317.5 355.5 317.6 358.7 316.2C361.8 314.8 364.2 312.2 367.4 309.7C370.6 307.2 374.1 304.0 378.0 301.2C381.8 298.4 386.7 294.5 390.4 292.9Z" fill="url(#plb)" fill-rule="evenodd" stroke="#5cc1ef" stroke-width="2.0" stroke-dasharray="0 2.7" stroke-linecap="round"/><path d="M214.6 246.0C211.5 242.5 201.2 249.2 195.5 250.0C189.8 250.9 185.4 250.5 180.5 251.3C175.5 252.1 170.2 252.9 165.7 255.0C161.2 257.0 156.7 260.5 153.5 263.5C150.2 266.6 147.8 270.0 146.2 273.2C144.6 276.4 143.6 279.5 143.8 282.7C144.0 285.8 145.4 289.0 147.4 292.2C149.4 295.4 152.9 299.1 156.0 302.0C159.1 304.8 162.2 306.9 165.9 309.4C169.6 311.9 174.1 314.8 178.3 316.8C182.4 318.9 186.6 320.1 190.7 321.8C194.9 323.5 198.2 325.3 203.2 326.8C208.1 328.2 214.3 329.5 220.6 330.5C226.8 331.5 233.9 332.0 240.6 333.0C247.3 334.1 255.4 335.1 260.9 336.8C266.4 338.5 270.2 341.2 273.6 343.2C277.1 345.2 279.4 349.3 281.6 348.8C283.8 348.4 286.8 343.3 286.9 340.4C287.1 337.4 284.2 333.5 282.2 331.2C280.2 328.8 277.9 327.6 275.1 326.4C272.3 325.2 269.0 325.3 265.2 324.0C261.4 322.7 255.3 321.3 252.2 318.7C249.2 316.1 248.2 311.2 246.9 308.3C245.6 305.3 246.1 303.1 244.5 300.9C243.0 298.8 240.2 296.1 237.6 295.1C234.9 294.1 230.3 294.4 228.6 294.9C227.0 295.5 226.3 297.5 227.6 298.4C228.9 299.3 236.9 298.8 236.6 300.1C236.2 301.5 230.0 305.8 225.6 306.5C221.2 307.1 214.8 305.0 210.1 303.9C205.4 302.9 201.8 301.3 197.5 300.2C193.3 299.1 187.1 299.8 184.5 297.4C181.9 295.0 183.0 288.5 181.8 285.8C180.5 283.1 178.4 282.8 176.9 281.0C175.4 279.2 171.6 276.4 172.9 274.8C174.3 273.3 180.5 272.3 185.1 271.6C189.7 270.8 195.4 270.3 200.3 270.3C205.2 270.3 212.2 275.4 214.6 271.4C217.0 267.3 217.8 249.6 214.6 246.0Z" fill="none" stroke="#3689b6" stroke-width="3.1" stroke-dasharray="0 2.7" stroke-linecap="round"/><path d="M214.6 246.0C211.5 242.5 201.2 249.2 195.5 250.0C189.8 250.9 185.4 250.5 180.5 251.3C175.5 252.1 170.2 252.9 165.7 255.0C161.2 257.0 156.7 260.5 153.5 263.5C150.2 266.6 147.8 270.0 146.2 273.2C144.6 276.4 143.6 279.5 143.8 282.7C144.0 285.8 145.4 289.0 147.4 292.2C149.4 295.4 152.9 299.1 156.0 302.0C159.1 304.8 162.2 306.9 165.9 309.4C169.6 311.9 174.1 314.8 178.3 316.8C182.4 318.9 186.6 320.1 190.7 321.8C194.9 323.5 198.2 325.3 203.2 326.8C208.1 328.2 214.3 329.5 220.6 330.5C226.8 331.5 233.9 332.0 240.6 333.0C247.3 334.1 255.4 335.1 260.9 336.8C266.4 338.5 270.2 341.2 273.6 343.2C277.1 345.2 279.4 349.3 281.6 348.8C283.8 348.4 286.8 343.3 286.9 340.4C287.1 337.4 284.2 333.5 282.2 331.2C280.2 328.8 277.9 327.6 275.1 326.4C272.3 325.2 269.0 325.3 265.2 324.0C261.4 322.7 255.3 321.3 252.2 318.7C249.2 316.1 248.2 311.2 246.9 308.3C245.6 305.3 246.1 303.1 244.5 300.9C243.0 298.8 240.2 296.1 237.6 295.1C234.9 294.1 230.3 294.4 228.6 294.9C227.0 295.5 226.3 297.5 227.6 298.4C228.9 299.3 236.9 298.8 236.6 300.1C236.2 301.5 230.0 305.8 225.6 306.5C221.2 307.1 214.8 305.0 210.1 303.9C205.4 302.9 201.8 301.3 197.5 300.2C193.3 299.1 187.1 299.8 184.5 297.4C181.9 295.0 183.0 288.5 181.8 285.8C180.5 283.1 178.4 282.8 176.9 281.0C175.4 279.2 171.6 276.4 172.9 274.8C174.3 273.3 180.5 272.3 185.1 271.6C189.7 270.8 195.4 270.3 200.3 270.3C205.2 270.3 212.2 275.4 214.6 271.4C217.0 267.3 217.8 249.6 214.6 246.0Z" fill="url(#plb)" fill-rule="evenodd" stroke="#5cc1ef" stroke-width="2.0" stroke-dasharray="0 2.7" stroke-linecap="round"/><path d="M245.3 227.5C247.5 227.3 249.5 230.2 249.3 232.7C249.2 235.2 244.9 238.6 244.3 242.4C243.7 246.3 244.3 252.6 245.7 255.7C247.1 258.9 250.8 260.6 252.7 261.3C254.7 262.0 255.9 258.4 257.5 260.0C259.0 261.5 263.2 269.3 262.1 270.8C261.0 272.3 254.3 269.8 250.7 269.1C247.1 268.4 243.8 266.5 240.4 266.6C237.0 266.6 233.5 268.9 230.2 269.6C226.9 270.3 223.2 270.6 220.4 270.6C217.7 270.5 215.2 273.4 213.7 269.4C212.2 265.5 209.3 251.7 211.4 247.0C213.4 242.3 221.9 243.4 226.0 241.1C230.1 238.9 232.9 235.8 236.1 233.5C239.3 231.3 243.1 227.6 245.3 227.5Z" fill="none" stroke="#3689b6" stroke-width="3.1" stroke-dasharray="0 2.7" stroke-linecap="round"/><path d="M245.3 227.5C247.5 227.3 249.5 230.2 249.3 232.7C249.2 235.2 244.9 238.6 244.3 242.4C243.7 246.3 244.3 252.6 245.7 255.7C247.1 258.9 250.8 260.6 252.7 261.3C254.7 262.0 255.9 258.4 257.5 260.0C259.0 261.5 263.2 269.3 262.1 270.8C261.0 272.3 254.3 269.8 250.7 269.1C247.1 268.4 243.8 266.5 240.4 266.6C237.0 266.6 233.5 268.9 230.2 269.6C226.9 270.3 223.2 270.6 220.4 270.6C217.7 270.5 215.2 273.4 213.7 269.4C212.2 265.5 209.3 251.7 211.4 247.0C213.4 242.3 221.9 243.4 226.0 241.1C230.1 238.9 232.9 235.8 236.1 233.5C239.3 231.3 243.1 227.6 245.3 227.5Z" fill="url(#plb)" fill-rule="evenodd" stroke="#5cc1ef" stroke-width="2.0" stroke-dasharray="0 2.7" stroke-linecap="round"/><path d="M276.7 343.0C276.7 345.0 282.2 347.0 284.0 349.8C285.9 352.7 287.1 356.6 288.0 360.2C288.8 363.8 291.1 368.9 289.0 371.2C287.0 373.5 280.4 373.7 275.7 374.2C270.9 374.7 266.3 374.6 260.4 374.2C254.6 373.7 246.3 371.7 240.5 371.7C234.6 371.6 229.8 373.2 225.5 373.7C221.3 374.1 218.6 373.9 215.1 374.5C211.6 375.2 208.1 376.5 204.6 377.7C201.1 378.9 197.6 380.3 194.1 381.8C190.6 383.4 187.1 385.0 183.6 387.1C180.1 389.2 176.6 391.8 173.1 394.4C169.6 397.0 165.5 399.5 162.7 402.8C159.9 406.0 158.1 409.8 156.2 413.6C154.3 417.5 152.3 421.9 151.3 426.0C150.3 430.0 149.5 434.4 150.1 438.0C150.6 441.6 152.6 445.1 154.8 447.5C156.9 449.8 160.2 451.2 163.1 452.2C166.0 453.2 170.3 454.3 172.2 453.5C174.0 452.8 172.6 450.8 174.2 447.7C175.8 444.7 178.9 439.3 181.8 435.1C184.8 430.8 188.2 426.2 192.0 422.4C195.8 418.6 200.4 415.4 204.7 412.2C208.9 409.1 212.7 405.9 217.3 403.4C222.0 400.8 227.1 398.5 232.6 397.0C238.1 395.5 244.1 394.9 250.4 394.4C256.7 394.0 264.2 394.8 270.5 394.4C276.7 394.0 282.4 393.6 287.8 392.0C293.1 390.3 298.6 387.5 302.4 384.6C306.3 381.8 309.1 378.6 310.9 375.0C312.7 371.4 313.9 366.7 313.3 363.2C312.7 359.6 309.9 356.5 307.3 353.7C304.7 350.9 300.6 348.5 297.5 346.4C294.4 344.2 290.9 342.3 288.7 340.9C286.5 339.5 286.4 337.5 284.4 337.8C282.4 338.2 276.8 341.0 276.7 343.0Z" fill="none" stroke="#232323" stroke-width="3.1" stroke-dasharray="0 2.7" stroke-linecap="round"/><path d="M276.7 343.0C276.7 345.0 282.2 347.0 284.0 349.8C285.9 352.7 287.1 356.6 288.0 360.2C288.8 363.8 291.1 368.9 289.0 371.2C287.0 373.5 280.4 373.7 275.7 374.2C270.9 374.7 266.3 374.6 260.4 374.2C254.6 373.7 246.3 371.7 240.5 371.7C234.6 371.6 229.8 373.2 225.5 373.7C221.3 374.1 218.6 373.9 215.1 374.5C211.6 375.2 208.1 376.5 204.6 377.7C201.1 378.9 197.6 380.3 194.1 381.8C190.6 383.4 187.1 385.0 183.6 387.1C180.1 389.2 176.6 391.8 173.1 394.4C169.6 397.0 165.5 399.5 162.7 402.8C159.9 406.0 158.1 409.8 156.2 413.6C154.3 417.5 152.3 421.9 151.3 426.0C150.3 430.0 149.5 434.4 150.1 438.0C150.6 441.6 152.6 445.1 154.8 447.5C156.9 449.8 160.2 451.2 163.1 452.2C166.0 453.2 170.3 454.3 172.2 453.5C174.0 452.8 172.6 450.8 174.2 447.7C175.8 444.7 178.9 439.3 181.8 435.1C184.8 430.8 188.2 426.2 192.0 422.4C195.8 418.6 200.4 415.4 204.7 412.2C208.9 409.1 212.7 405.9 217.3 403.4C222.0 400.8 227.1 398.5 232.6 397.0C238.1 395.5 244.1 394.9 250.4 394.4C256.7 394.0 264.2 394.8 270.5 394.4C276.7 394.0 282.4 393.6 287.8 392.0C293.1 390.3 298.6 387.5 302.4 384.6C306.3 381.8 309.1 378.6 310.9 375.0C312.7 371.4 313.9 366.7 313.3 363.2C312.7 359.6 309.9 356.5 307.3 353.7C304.7 350.9 300.6 348.5 297.5 346.4C294.4 344.2 290.9 342.3 288.7 340.9C286.5 339.5 286.4 337.5 284.4 337.8C282.4 338.2 276.8 341.0 276.7 343.0Z" fill="url(#pdk)" fill-rule="evenodd" stroke="#484848" stroke-width="2.0" stroke-dasharray="0 2.7" stroke-linecap="round"/><g fill="#484848" stroke="#232323" stroke-width=".55"><circle cx="208.9" cy="327.7" r="1.5"/><circle cx="209.2" cy="327.2" r="1.5"/><circle cx="209.8" cy="327.4" r="1.5"/><circle cx="211.3" cy="328.9" r="1.5"/><circle cx="212.2" cy="328.8" r="1.5"/><circle cx="213.2" cy="329.1" r="1.5"/><circle cx="214.1" cy="328.7" r="1.5"/><circle cx="216.0" cy="328.1" r="1.5"/><circle cx="216.0" cy="329.3" r="1.5"/><circle cx="217.4" cy="329.2" r="1.5"/><circle cx="219.6" cy="330.3" r="1.5"/><circle cx="220.1" cy="330.0" r="1.5"/><circle cx="220.3" cy="330.2" r="1.5"/><circle cx="221.4" cy="329.3" r="1.5"/><circle cx="222.8" cy="330.5" r="1.5"/><circle cx="225.3" cy="331.1" r="1.5"/><circle cx="225.6" cy="330.8" r="1.5"/></g><g fill="#484848" stroke="#232323" stroke-width=".55"><circle cx="197.4" cy="320.1" r="1.5"/><circle cx="196.4" cy="319.5" r="1.5"/><circle cx="198.6" cy="320.9" r="1.5"/><circle cx="197.9" cy="321.1" r="1.5"/><circle cx="198.0" cy="322.7" r="1.5"/><circle cx="201.7" cy="321.6" r="1.5"/><circle cx="200.1" cy="320.5" r="1.5"/><circle cx="201.5" cy="320.5" r="1.5"/><circle cx="202.0" cy="322.6" r="1.5"/><circle cx="204.6" cy="321.1" r="1.5"/><circle cx="203.7" cy="321.9" r="1.5"/><circle cx="203.9" cy="321.3" r="1.5"/><circle cx="206.5" cy="323.4" r="1.5"/><circle cx="208.0" cy="321.9" r="1.5"/><circle cx="207.6" cy="322.9" r="1.5"/><circle cx="209.2" cy="322.8" r="1.5"/><circle cx="209.9" cy="323.4" r="1.5"/><circle cx="209.7" cy="324.4" r="1.5"/><circle cx="212.4" cy="323.3" r="1.5"/><circle cx="212.1" cy="323.6" r="1.5"/><circle cx="212.1" cy="323.0" r="1.5"/><circle cx="212.7" cy="325.5" r="1.5"/><circle cx="213.2" cy="324.4" r="1.5"/><circle cx="216.8" cy="323.5" r="1.5"/><circle cx="218.1" cy="326.1" r="1.5"/><circle cx="218.4" cy="325.1" r="1.5"/><circle cx="218.8" cy="326.3" r="1.5"/><circle cx="216.9" cy="325.1" r="1.5"/><circle cx="221.0" cy="325.7" r="1.5"/><circle cx="220.9" cy="324.8" r="1.5"/><circle cx="222.4" cy="328.2" r="1.5"/><circle cx="222.2" cy="327.5" r="1.5"/><circle cx="221.7" cy="327.7" r="1.5"/><circle cx="223.7" cy="328.4" r="1.5"/><circle cx="222.3" cy="327.5" r="1.5"/><circle cx="223.5" cy="328.4" r="1.5"/><circle cx="224.4" cy="329.7" r="1.5"/><circle cx="227.1" cy="327.5" r="1.5"/><circle cx="229.0" cy="329.3" r="1.5"/><circle cx="227.4" cy="329.9" r="1.5"/><circle cx="229.5" cy="327.4" r="1.5"/><circle cx="228.8" cy="327.2" r="1.5"/><circle cx="230.8" cy="329.8" r="1.5"/><circle cx="230.5" cy="327.9" r="1.5"/><circle cx="231.5" cy="330.9" r="1.5"/><circle cx="231.5" cy="328.2" r="1.5"/><circle cx="232.8" cy="330.3" r="1.5"/><circle cx="233.9" cy="330.4" r="1.5"/><circle cx="234.9" cy="329.0" r="1.5"/><circle cx="234.4" cy="331.6" r="1.5"/><circle cx="236.1" cy="329.2" r="1.5"/><circle cx="237.6" cy="331.3" r="1.5"/><circle cx="240.1" cy="329.3" r="1.5"/><circle cx="240.6" cy="332.1" r="1.5"/><circle cx="239.9" cy="332.4" r="1.5"/><circle cx="241.8" cy="330.4" r="1.5"/><circle cx="242.1" cy="330.4" r="1.5"/><circle cx="241.7" cy="330.2" r="1.5"/><circle cx="244.8" cy="333.1" r="1.5"/><circle cx="245.1" cy="332.7" r="1.5"/><circle cx="246.5" cy="331.5" r="1.5"/><circle cx="243.6" cy="330.9" r="1.5"/><circle cx="247.5" cy="332.7" r="1.5"/><circle cx="248.6" cy="334.1" r="1.5"/><circle cx="246.8" cy="331.1" r="1.5"/><circle cx="248.2" cy="333.3" r="1.5"/><circle cx="250.4" cy="332.8" r="1.5"/><circle cx="249.9" cy="332.1" r="1.5"/><circle cx="252.4" cy="333.6" r="1.5"/><circle cx="250.0" cy="333.7" r="1.5"/><circle cx="252.5" cy="335.2" r="1.5"/><circle cx="254.1" cy="333.3" r="1.5"/><circle cx="254.4" cy="333.7" r="1.5"/><circle cx="256.2" cy="336.1" r="1.5"/><circle cx="256.4" cy="333.6" r="1.5"/><circle cx="258.4" cy="336.5" r="1.5"/><circle cx="258.8" cy="336.2" r="1.5"/><circle cx="257.0" cy="335.5" r="1.5"/><circle cx="258.1" cy="333.5" r="1.5"/><circle cx="260.7" cy="334.9" r="1.5"/><circle cx="261.9" cy="334.7" r="1.5"/><circle cx="259.4" cy="334.3" r="1.5"/><circle cx="262.9" cy="336.1" r="1.5"/><circle cx="263.8" cy="335.2" r="1.5"/><circle cx="262.1" cy="337.2" r="1.5"/><circle cx="263.7" cy="336.6" r="1.5"/><circle cx="266.4" cy="335.6" r="1.5"/><circle cx="265.0" cy="337.0" r="1.5"/><circle cx="267.3" cy="337.4" r="1.5"/><circle cx="266.4" cy="336.9" r="1.5"/><circle cx="267.0" cy="338.5" r="1.5"/><circle cx="271.1" cy="337.2" r="1.5"/><circle cx="272.0" cy="337.9" r="1.5"/><circle cx="270.4" cy="339.8" r="1.5"/><circle cx="270.9" cy="340.3" r="1.5"/><circle cx="273.5" cy="340.4" r="1.5"/></g><g fill="#484848" stroke="#232323" stroke-width=".55"><circle cx="204.1" cy="322.0" r="1.5"/><circle cx="202.6" cy="321.8" r="1.5"/><circle cx="202.4" cy="322.3" r="1.5"/><circle cx="203.3" cy="324.7" r="1.5"/><circle cx="206.6" cy="325.1" r="1.5"/><circle cx="203.4" cy="325.1" r="1.5"/><circle cx="204.4" cy="325.8" r="1.5"/><circle cx="206.3" cy="324.8" r="1.5"/><circle cx="207.2" cy="325.9" r="1.5"/><circle cx="210.0" cy="325.0" r="1.5"/><circle cx="208.6" cy="324.0" r="1.5"/><circle cx="209.5" cy="325.5" r="1.5"/><circle cx="209.7" cy="325.6" r="1.5"/><circle cx="214.7" cy="328.0" r="1.5"/><circle cx="211.8" cy="325.6" r="1.5"/><circle cx="212.5" cy="324.4" r="1.5"/><circle cx="213.2" cy="325.4" r="1.5"/><circle cx="215.1" cy="324.9" r="1.5"/><circle cx="217.0" cy="325.3" r="1.5"/><circle cx="217.7" cy="326.2" r="1.5"/><circle cx="217.3" cy="326.3" r="1.5"/><circle cx="218.3" cy="327.1" r="1.5"/><circle cx="218.3" cy="329.3" r="1.5"/><circle cx="219.4" cy="326.3" r="1.5"/><circle cx="221.1" cy="327.8" r="1.5"/><circle cx="221.1" cy="330.3" r="1.5"/><circle cx="223.5" cy="330.4" r="1.5"/><circle cx="223.8" cy="326.9" r="1.5"/><circle cx="223.6" cy="329.3" r="1.5"/><circle cx="226.6" cy="327.4" r="1.5"/><circle cx="224.9" cy="330.7" r="1.5"/><circle cx="227.6" cy="327.8" r="1.5"/><circle cx="228.3" cy="328.1" r="1.5"/><circle cx="228.1" cy="330.1" r="1.5"/><circle cx="227.6" cy="331.9" r="1.5"/><circle cx="231.0" cy="330.6" r="1.5"/><circle cx="229.3" cy="331.3" r="1.5"/><circle cx="232.7" cy="329.3" r="1.5"/><circle cx="234.7" cy="332.0" r="1.5"/><circle cx="232.6" cy="332.4" r="1.5"/><circle cx="235.7" cy="329.8" r="1.5"/><circle cx="236.7" cy="332.9" r="1.5"/><circle cx="235.4" cy="333.3" r="1.5"/><circle cx="235.0" cy="331.4" r="1.5"/><circle cx="235.5" cy="331.9" r="1.5"/><circle cx="239.3" cy="331.5" r="1.5"/><circle cx="237.0" cy="333.0" r="1.5"/><circle cx="238.4" cy="332.4" r="1.5"/><circle cx="241.9" cy="330.5" r="1.5"/><circle cx="239.6" cy="331.9" r="1.5"/><circle cx="241.1" cy="334.1" r="1.5"/><circle cx="243.1" cy="332.9" r="1.5"/><circle cx="245.9" cy="335.0" r="1.5"/><circle cx="243.7" cy="334.9" r="1.5"/><circle cx="246.9" cy="333.7" r="1.5"/><circle cx="244.9" cy="334.9" r="1.5"/><circle cx="247.6" cy="335.3" r="1.5"/><circle cx="246.2" cy="332.7" r="1.5"/><circle cx="249.2" cy="334.8" r="1.5"/><circle cx="251.2" cy="334.9" r="1.5"/><circle cx="250.8" cy="333.7" r="1.5"/><circle cx="249.7" cy="335.9" r="1.5"/><circle cx="253.7" cy="335.9" r="1.5"/><circle cx="254.4" cy="336.8" r="1.5"/><circle cx="254.2" cy="337.4" r="1.5"/><circle cx="252.4" cy="337.3" r="1.5"/><circle cx="256.3" cy="336.0" r="1.5"/><circle cx="255.3" cy="337.1" r="1.5"/><circle cx="259.0" cy="335.4" r="1.5"/><circle cx="258.9" cy="335.3" r="1.5"/><circle cx="259.3" cy="337.6" r="1.5"/><circle cx="257.9" cy="338.8" r="1.5"/><circle cx="260.3" cy="338.6" r="1.5"/><circle cx="262.5" cy="338.9" r="1.5"/><circle cx="263.9" cy="336.8" r="1.5"/><circle cx="262.2" cy="337.3" r="1.5"/><circle cx="263.0" cy="338.5" r="1.5"/><circle cx="264.9" cy="341.3" r="1.5"/><circle cx="265.0" cy="340.4" r="1.5"/></g><g fill="#484848" stroke="#232323" stroke-width=".55"><circle cx="226.1" cy="300.1" r="1.5"/><circle cx="227.3" cy="302.3" r="1.5"/><circle cx="225.3" cy="299.3" r="1.5"/><circle cx="229.5" cy="298.6" r="1.5"/><circle cx="229.6" cy="301.5" r="1.5"/><circle cx="228.5" cy="301.5" r="1.5"/><circle cx="229.0" cy="302.5" r="1.5"/><circle cx="231.6" cy="303.1" r="1.5"/><circle cx="230.8" cy="299.3" r="1.5"/><circle cx="231.5" cy="301.5" r="1.5"/><circle cx="234.3" cy="299.9" r="1.5"/><circle cx="235.7" cy="301.8" r="1.5"/><circle cx="234.4" cy="302.8" r="1.5"/><circle cx="235.1" cy="302.0" r="1.5"/><circle cx="235.6" cy="304.4" r="1.5"/><circle cx="238.5" cy="303.9" r="1.5"/><circle cx="239.7" cy="301.9" r="1.5"/><circle cx="239.1" cy="301.9" r="1.5"/><circle cx="242.7" cy="305.6" r="1.5"/><circle cx="243.7" cy="305.1" r="1.5"/><circle cx="242.6" cy="303.6" r="1.5"/><circle cx="241.1" cy="302.7" r="1.5"/><circle cx="243.8" cy="306.7" r="1.5"/><circle cx="242.9" cy="307.3" r="1.5"/><circle cx="245.5" cy="304.8" r="1.5"/><circle cx="247.6" cy="305.4" r="1.5"/><circle cx="247.3" cy="306.3" r="1.5"/><circle cx="248.1" cy="309.7" r="1.5"/><circle cx="246.8" cy="309.5" r="1.5"/><circle cx="247.7" cy="309.3" r="1.5"/><circle cx="248.2" cy="310.7" r="1.5"/><circle cx="248.4" cy="309.0" r="1.5"/></g><g fill="#484848" stroke="#232323" stroke-width=".55"><circle cx="176.1" cy="293.1" r="1.5"/><circle cx="176.9" cy="294.8" r="1.5"/><circle cx="176.3" cy="294.0" r="1.5"/><circle cx="178.9" cy="294.2" r="1.5"/><circle cx="179.1" cy="296.4" r="1.5"/><circle cx="178.7" cy="296.9" r="1.5"/><circle cx="179.5" cy="298.1" r="1.5"/><circle cx="181.2" cy="298.8" r="1.5"/><circle cx="181.1" cy="297.1" r="1.5"/><circle cx="181.9" cy="298.5" r="1.5"/><circle cx="183.8" cy="297.9" r="1.5"/></g><g fill="#484848" stroke="#232323" stroke-width=".55"><circle cx="175.6" cy="278.0" r="1.5"/><circle cx="176.4" cy="279.4" r="1.5"/><circle cx="177.2" cy="280.2" r="1.5"/><circle cx="178.0" cy="281.6" r="1.5"/><circle cx="178.9" cy="284.1" r="1.5"/><circle cx="178.9" cy="285.1" r="1.5"/><circle cx="180.5" cy="287.4" r="1.5"/><circle cx="180.0" cy="289.1" r="1.5"/><circle cx="181.0" cy="290.8" r="1.5"/><circle cx="181.7" cy="291.5" r="1.5"/><circle cx="181.4" cy="293.5" r="1.5"/><circle cx="181.9" cy="294.9" r="1.5"/><circle cx="182.4" cy="297.3" r="1.5"/><circle cx="183.5" cy="298.2" r="1.5"/><circle cx="184.2" cy="299.1" r="1.5"/><circle cx="185.0" cy="300.3" r="1.5"/><circle cx="186.3" cy="300.6" r="1.5"/><circle cx="188.5" cy="301.5" r="1.5"/><circle cx="189.2" cy="302.7" r="1.5"/></g><g fill="#5cc1ef" stroke="#3689b6" stroke-width=".55"><circle cx="275.3" cy="327.2" r="1.5"/><circle cx="277.1" cy="327.1" r="1.5"/><circle cx="277.5" cy="328.0" r="1.5"/><circle cx="279.6" cy="328.8" r="1.5"/><circle cx="279.9" cy="330.6" r="1.5"/><circle cx="280.8" cy="331.0" r="1.5"/><circle cx="281.6" cy="332.4" r="1.5"/><circle cx="282.9" cy="334.3" r="1.5"/><circle cx="283.5" cy="334.9" r="1.5"/><circle cx="284.5" cy="336.5" r="1.5"/></g><path d="M283.9 341.3C284.0 340.0 286.9 343.1 290.0 345.2C293.1 347.3 299.1 350.8 302.3 353.8C305.6 356.8 308.7 360.5 309.5 363.2C310.3 365.8 308.8 367.9 307.2 369.8C305.7 371.7 302.3 373.1 300.1 374.5C297.8 375.9 294.9 378.5 293.5 378.2C292.1 377.9 292.0 375.4 291.7 372.8C291.4 370.2 292.2 366.2 291.7 362.8C291.3 359.5 290.5 356.2 289.2 352.6C287.9 349.0 283.7 342.5 283.9 341.3Z" fill="none" stroke="#3689b6" stroke-width="3.1" stroke-dasharray="0 2.7" stroke-linecap="round"/><path d="M283.9 341.3C284.0 340.0 286.9 343.1 290.0 345.2C293.1 347.3 299.1 350.8 302.3 353.8C305.6 356.8 308.7 360.5 309.5 363.2C310.3 365.8 308.8 367.9 307.2 369.8C305.7 371.7 302.3 373.1 300.1 374.5C297.8 375.9 294.9 378.5 293.5 378.2C292.1 377.9 292.0 375.4 291.7 372.8C291.4 370.2 292.2 366.2 291.7 362.8C291.3 359.5 290.5 356.2 289.2 352.6C287.9 349.0 283.7 342.5 283.9 341.3Z" fill="url(#plb)" fill-rule="evenodd" stroke="#5cc1ef" stroke-width="2.0" stroke-dasharray="0 2.7" stroke-linecap="round"/><path d="M466.8 199.8C468.0 198.3 471.2 198.3 473.7 198.4C476.2 198.6 479.6 199.5 481.8 200.8C483.9 202.2 485.4 204.2 486.6 206.5C487.8 208.8 489.0 212.2 489.1 214.6C489.1 217.0 488.2 219.2 486.8 220.8C485.3 222.4 482.3 223.1 480.2 224.0C478.2 224.9 475.2 224.0 474.2 226.1C473.2 228.2 474.5 234.5 474.1 236.7C473.6 239.0 472.1 240.1 471.5 239.6C470.9 239.1 470.6 235.8 470.5 233.7C470.5 231.5 471.7 228.6 471.4 226.6C471.1 224.6 468.9 223.5 468.8 221.5C468.7 219.4 471.0 216.8 470.5 214.5C470.1 212.1 466.8 209.9 466.2 207.4C465.5 205.0 465.5 201.3 466.8 199.8Z" fill="none" stroke="#232323" stroke-width="3.1" stroke-dasharray="0 2.7" stroke-linecap="round"/><path d="M466.8 199.8C468.0 198.3 471.2 198.3 473.7 198.4C476.2 198.6 479.6 199.5 481.8 200.8C483.9 202.2 485.4 204.2 486.6 206.5C487.8 208.8 489.0 212.2 489.1 214.6C489.1 217.0 488.2 219.2 486.8 220.8C485.3 222.4 482.3 223.1 480.2 224.0C478.2 224.9 475.2 224.0 474.2 226.1C473.2 228.2 474.5 234.5 474.1 236.7C473.6 239.0 472.1 240.1 471.5 239.6C470.9 239.1 470.6 235.8 470.5 233.7C470.5 231.5 471.7 228.6 471.4 226.6C471.1 224.6 468.9 223.5 468.8 221.5C468.7 219.4 471.0 216.8 470.5 214.5C470.1 212.1 466.8 209.9 466.2 207.4C465.5 205.0 465.5 201.3 466.8 199.8Z" fill="url(#pdk)" fill-rule="evenodd" stroke="#484848" stroke-width="2.0" stroke-dasharray="0 2.7" stroke-linecap="round"/><path d="M492.2 265.3C493.2 262.9 496.0 259.3 498.7 257.2C501.5 255.2 505.3 253.5 508.6 253.1C511.9 252.7 514.9 253.8 518.6 254.8C522.2 255.8 527.2 257.9 530.6 259.1C534.0 260.4 537.2 260.7 538.8 262.3C540.4 263.8 540.5 265.8 540.3 268.4C540.1 271.1 539.2 275.3 537.8 278.4C536.4 281.4 534.3 284.2 531.9 286.8C529.5 289.3 526.6 291.5 523.5 293.5C520.3 295.5 516.3 297.5 513.3 298.6C510.2 299.7 507.6 300.6 505.1 300.3C502.7 300.0 500.9 298.4 498.6 297.0C496.4 295.6 494.0 293.0 491.6 291.7C489.3 290.5 486.2 290.0 484.5 289.6C482.8 289.1 481.4 289.5 481.5 289.1C481.5 288.7 483.5 288.1 484.9 287.0C486.2 286.0 489.7 283.8 489.6 282.6C489.6 281.3 486.6 280.2 484.5 279.5C482.4 278.8 478.0 278.8 476.9 278.5C475.8 278.2 476.3 278.2 478.2 277.8C480.0 277.3 485.7 276.5 488.1 275.6C490.5 274.6 491.8 273.8 492.5 272.1C493.2 270.3 491.1 267.8 492.2 265.3ZM494.2 272.0C495.6 270.5 499.2 267.8 501.4 267.5C503.5 267.1 505.0 269.8 507.1 270.1C509.1 270.4 511.5 268.3 513.6 269.3C515.7 270.4 518.5 273.6 519.7 276.2C520.8 278.9 521.1 283.0 520.5 285.0C519.9 287.0 517.3 286.9 516.1 288.2C514.9 289.5 515.2 291.5 513.3 292.7C511.4 294.0 507.3 295.6 504.9 295.6C502.4 295.7 500.6 294.1 498.7 292.9C496.7 291.8 494.4 290.7 493.1 288.8C491.8 286.9 491.0 283.4 491.0 281.4C490.9 279.3 492.3 278.0 492.8 276.4C493.4 274.9 492.7 273.5 494.2 272.0Z" fill="none" stroke="#232323" stroke-width="3.1" stroke-dasharray="0 2.7" stroke-linecap="round"/><path d="M492.2 265.3C493.2 262.9 496.0 259.3 498.7 257.2C501.5 255.2 505.3 253.5 508.6 253.1C511.9 252.7 514.9 253.8 518.6 254.8C522.2 255.8 527.2 257.9 530.6 259.1C534.0 260.4 537.2 260.7 538.8 262.3C540.4 263.8 540.5 265.8 540.3 268.4C540.1 271.1 539.2 275.3 537.8 278.4C536.4 281.4 534.3 284.2 531.9 286.8C529.5 289.3 526.6 291.5 523.5 293.5C520.3 295.5 516.3 297.5 513.3 298.6C510.2 299.7 507.6 300.6 505.1 300.3C502.7 300.0 500.9 298.4 498.6 297.0C496.4 295.6 494.0 293.0 491.6 291.7C489.3 290.5 486.2 290.0 484.5 289.6C482.8 289.1 481.4 289.5 481.5 289.1C481.5 288.7 483.5 288.1 484.9 287.0C486.2 286.0 489.7 283.8 489.6 282.6C489.6 281.3 486.6 280.2 484.5 279.5C482.4 278.8 478.0 278.8 476.9 278.5C475.8 278.2 476.3 278.2 478.2 277.8C480.0 277.3 485.7 276.5 488.1 275.6C490.5 274.6 491.8 273.8 492.5 272.1C493.2 270.3 491.1 267.8 492.2 265.3ZM494.2 272.0C495.6 270.5 499.2 267.8 501.4 267.5C503.5 267.1 505.0 269.8 507.1 270.1C509.1 270.4 511.5 268.3 513.6 269.3C515.7 270.4 518.5 273.6 519.7 276.2C520.8 278.9 521.1 283.0 520.5 285.0C519.9 287.0 517.3 286.9 516.1 288.2C514.9 289.5 515.2 291.5 513.3 292.7C511.4 294.0 507.3 295.6 504.9 295.6C502.4 295.7 500.6 294.1 498.7 292.9C496.7 291.8 494.4 290.7 493.1 288.8C491.8 286.9 491.0 283.4 491.0 281.4C490.9 279.3 492.3 278.0 492.8 276.4C493.4 274.9 492.7 273.5 494.2 272.0Z" fill="url(#pdk)" fill-rule="evenodd" stroke="#484848" stroke-width="2.0" stroke-dasharray="0 2.7" stroke-linecap="round"/><g fill="#484848" stroke="#232323" stroke-width=".55"><circle cx="474.8" cy="268.5" r="1.5"/><circle cx="475.9" cy="270.2" r="1.5"/><circle cx="476.8" cy="270.7" r="1.5"/><circle cx="475.4" cy="272.7" r="1.5"/><circle cx="477.4" cy="274.0" r="1.5"/><circle cx="478.2" cy="273.7" r="1.5"/><circle cx="478.9" cy="274.4" r="1.5"/><circle cx="479.7" cy="276.6" r="1.5"/><circle cx="479.8" cy="275.9" r="1.5"/></g><g fill="#484848" stroke="#232323" stroke-width=".55"><circle cx="501.1" cy="278.8" r="1.5"/><circle cx="503.0" cy="277.7" r="1.5"/><circle cx="504.2" cy="277.9" r="1.5"/><circle cx="504.4" cy="277.3" r="1.5"/><circle cx="506.4" cy="278.0" r="1.5"/><circle cx="506.5" cy="278.9" r="1.5"/></g><g fill="#5cc1ef" stroke="#3689b6" stroke-width=".55"><circle cx="446.8" cy="287.6" r="1.5"/><circle cx="447.5" cy="285.5" r="1.5"/><circle cx="448.1" cy="284.7" r="1.5"/><circle cx="450.3" cy="285.5" r="1.5"/><circle cx="450.5" cy="284.4" r="1.5"/><circle cx="451.2" cy="282.5" r="1.5"/><circle cx="451.3" cy="282.3" r="1.5"/><circle cx="452.1" cy="281.8" r="1.5"/><circle cx="453.1" cy="279.5" r="1.5"/><circle cx="452.5" cy="280.1" r="1.5"/><circle cx="453.0" cy="279.7" r="1.5"/><circle cx="454.0" cy="278.8" r="1.5"/><circle cx="453.9" cy="276.5" r="1.5"/><circle cx="456.3" cy="277.1" r="1.5"/><circle cx="456.7" cy="275.3" r="1.5"/><circle cx="456.9" cy="275.2" r="1.5"/><circle cx="458.1" cy="274.3" r="1.5"/><circle cx="458.4" cy="272.4" r="1.5"/><circle cx="459.0" cy="273.1" r="1.5"/><circle cx="460.2" cy="272.8" r="1.5"/><circle cx="461.5" cy="271.0" r="1.5"/><circle cx="460.9" cy="271.9" r="1.5"/><circle cx="461.9" cy="273.6" r="1.5"/><circle cx="464.4" cy="273.8" r="1.5"/><circle cx="463.7" cy="274.8" r="1.5"/><circle cx="464.3" cy="274.3" r="1.5"/><circle cx="465.2" cy="274.9" r="1.5"/><circle cx="465.2" cy="275.1" r="1.5"/><circle cx="467.1" cy="276.9" r="1.5"/></g><g fill="#5cc1ef" stroke="#3689b6" stroke-width=".55"><circle cx="432.7" cy="299.8" r="1.5"/><circle cx="433.6" cy="299.2" r="1.5"/><circle cx="434.0" cy="297.3" r="1.5"/><circle cx="433.8" cy="296.7" r="1.5"/><circle cx="435.4" cy="295.3" r="1.5"/><circle cx="436.1" cy="295.7" r="1.5"/><circle cx="434.8" cy="293.8" r="1.5"/><circle cx="437.3" cy="293.8" r="1.5"/><circle cx="438.3" cy="292.5" r="1.5"/><circle cx="438.6" cy="292.4" r="1.5"/><circle cx="438.1" cy="293.7" r="1.5"/><circle cx="439.7" cy="294.1" r="1.5"/><circle cx="441.1" cy="295.7" r="1.5"/><circle cx="440.6" cy="295.8" r="1.5"/><circle cx="442.0" cy="296.2" r="1.5"/><circle cx="443.3" cy="296.0" r="1.5"/><circle cx="443.1" cy="294.0" r="1.5"/><circle cx="445.1" cy="294.5" r="1.5"/><circle cx="444.8" cy="292.9" r="1.5"/><circle cx="444.9" cy="291.8" r="1.5"/><circle cx="447.0" cy="290.3" r="1.5"/><circle cx="446.4" cy="289.7" r="1.5"/><circle cx="446.9" cy="289.3" r="1.5"/><circle cx="448.0" cy="288.9" r="1.5"/></g><g fill="#5cc1ef" stroke="#3689b6" stroke-width=".55"><circle cx="427.8" cy="294.0" r="1.5"/><circle cx="428.3" cy="294.4" r="1.5"/><circle cx="429.2" cy="295.8" r="1.5"/><circle cx="429.6" cy="295.9" r="1.5"/><circle cx="432.5" cy="297.2" r="1.5"/><circle cx="433.1" cy="296.5" r="1.5"/><circle cx="433.8" cy="294.4" r="1.5"/><circle cx="434.2" cy="294.9" r="1.5"/><circle cx="434.8" cy="292.7" r="1.5"/><circle cx="436.2" cy="292.2" r="1.5"/><circle cx="437.7" cy="291.4" r="1.5"/></g><g fill="#484848" stroke="#232323" stroke-width=".55"><circle cx="418.0" cy="231.1" r="1.5"/><circle cx="418.3" cy="230.1" r="1.5"/><circle cx="420.0" cy="228.6" r="1.5"/><circle cx="420.6" cy="227.8" r="1.5"/><circle cx="422.5" cy="228.6" r="1.5"/><circle cx="423.2" cy="227.7" r="1.5"/><circle cx="424.3" cy="225.8" r="1.5"/><circle cx="425.2" cy="226.7" r="1.5"/><circle cx="426.0" cy="224.6" r="1.5"/><circle cx="428.3" cy="225.3" r="1.5"/><circle cx="427.9" cy="223.8" r="1.5"/><circle cx="429.3" cy="222.6" r="1.5"/><circle cx="430.4" cy="223.2" r="1.5"/><circle cx="432.5" cy="221.1" r="1.5"/></g><g fill="#484848" stroke="#232323" stroke-width=".55"><circle cx="431.4" cy="221.5" r="1.5"/><circle cx="432.6" cy="220.3" r="1.5"/><circle cx="433.4" cy="220.8" r="1.5"/><circle cx="435.5" cy="220.6" r="1.5"/><circle cx="435.4" cy="218.7" r="1.5"/><circle cx="435.3" cy="219.6" r="1.5"/><circle cx="437.6" cy="218.3" r="1.5"/><circle cx="438.2" cy="216.3" r="1.5"/><circle cx="438.4" cy="217.7" r="1.5"/><circle cx="437.3" cy="216.4" r="1.5"/><circle cx="438.7" cy="215.7" r="1.5"/><circle cx="438.9" cy="215.2" r="1.5"/><circle cx="439.8" cy="214.1" r="1.5"/><circle cx="441.9" cy="214.2" r="1.5"/><circle cx="442.0" cy="211.7" r="1.5"/><circle cx="442.6" cy="212.4" r="1.5"/><circle cx="442.0" cy="211.6" r="1.5"/></g><g fill="#484848" stroke="#232323" stroke-width=".55"><circle cx="436.9" cy="217.1" r="1.5"/><circle cx="439.4" cy="219.9" r="1.5"/><circle cx="439.4" cy="220.6" r="1.5"/><circle cx="438.1" cy="220.0" r="1.5"/><circle cx="438.8" cy="220.6" r="1.5"/><circle cx="439.0" cy="222.8" r="1.5"/><circle cx="439.6" cy="223.8" r="1.5"/><circle cx="438.1" cy="224.0" r="1.5"/><circle cx="440.0" cy="226.3" r="1.5"/><circle cx="438.5" cy="226.8" r="1.5"/><circle cx="439.3" cy="226.4" r="1.5"/><circle cx="438.5" cy="226.4" r="1.5"/><circle cx="439.5" cy="229.1" r="1.5"/><circle cx="440.5" cy="228.1" r="1.5"/><circle cx="439.8" cy="229.7" r="1.5"/><circle cx="440.0" cy="229.0" r="1.5"/><circle cx="441.0" cy="232.1" r="1.5"/><circle cx="441.1" cy="232.2" r="1.5"/><circle cx="442.4" cy="232.1" r="1.5"/><circle cx="443.3" cy="233.5" r="1.5"/><circle cx="445.0" cy="234.4" r="1.5"/></g><g fill="#484848" stroke="#232323" stroke-width=".55"><circle cx="442.6" cy="210.9" r="1.5"/><circle cx="445.1" cy="211.5" r="1.5"/><circle cx="444.4" cy="212.9" r="1.5"/><circle cx="446.4" cy="212.3" r="1.5"/><circle cx="445.8" cy="212.9" r="1.5"/><circle cx="447.6" cy="213.9" r="1.5"/><circle cx="447.6" cy="214.3" r="1.5"/><circle cx="448.8" cy="213.9" r="1.5"/><circle cx="449.9" cy="213.9" r="1.5"/><circle cx="451.2" cy="214.2" r="1.5"/><circle cx="451.5" cy="216.4" r="1.5"/><circle cx="450.9" cy="214.9" r="1.5"/><circle cx="452.2" cy="216.1" r="1.5"/><circle cx="454.8" cy="217.1" r="1.5"/><circle cx="453.9" cy="215.9" r="1.5"/><circle cx="455.7" cy="216.3" r="1.5"/><circle cx="455.7" cy="217.3" r="1.5"/><circle cx="456.9" cy="216.3" r="1.5"/><circle cx="456.6" cy="217.1" r="1.5"/><circle cx="456.5" cy="219.7" r="1.5"/><circle cx="458.6" cy="220.1" r="1.5"/><circle cx="459.1" cy="220.1" r="1.5"/><circle cx="458.2" cy="219.6" r="1.5"/><circle cx="460.9" cy="221.1" r="1.5"/><circle cx="460.0" cy="222.2" r="1.5"/><circle cx="459.7" cy="222.7" r="1.5"/><circle cx="461.9" cy="222.3" r="1.5"/><circle cx="461.8" cy="224.0" r="1.5"/><circle cx="464.3" cy="225.2" r="1.5"/><circle cx="463.2" cy="224.9" r="1.5"/><circle cx="466.1" cy="224.3" r="1.5"/><circle cx="465.4" cy="224.8" r="1.5"/><circle cx="467.4" cy="224.9" r="1.5"/><circle cx="467.2" cy="225.0" r="1.5"/><circle cx="467.5" cy="224.1" r="1.5"/><circle cx="469.8" cy="224.0" r="1.5"/><circle cx="470.8" cy="223.3" r="1.5"/><circle cx="471.4" cy="224.2" r="1.5"/><circle cx="471.2" cy="224.7" r="1.5"/></g><g fill="#484848" stroke="#232323" stroke-width=".55"><circle cx="408.8" cy="177.3" r="1.5"/><circle cx="408.7" cy="178.6" r="1.5"/><circle cx="408.7" cy="178.5" r="1.5"/><circle cx="409.3" cy="177.3" r="1.5"/><circle cx="411.6" cy="177.2" r="1.5"/><circle cx="410.7" cy="175.8" r="1.5"/><circle cx="412.9" cy="177.2" r="1.5"/><circle cx="412.7" cy="176.9" r="1.5"/><circle cx="414.5" cy="176.5" r="1.5"/><circle cx="416.8" cy="176.7" r="1.5"/><circle cx="416.2" cy="177.4" r="1.5"/><circle cx="416.1" cy="177.9" r="1.5"/><circle cx="418.1" cy="178.3" r="1.5"/><circle cx="417.6" cy="175.8" r="1.5"/><circle cx="420.7" cy="177.8" r="1.5"/><circle cx="420.3" cy="178.4" r="1.5"/><circle cx="421.5" cy="177.4" r="1.5"/><circle cx="422.8" cy="178.1" r="1.5"/><circle cx="423.9" cy="176.7" r="1.5"/><circle cx="423.3" cy="177.1" r="1.5"/><circle cx="425.7" cy="176.6" r="1.5"/><circle cx="426.4" cy="177.6" r="1.5"/><circle cx="424.8" cy="177.3" r="1.5"/><circle cx="427.4" cy="176.8" r="1.5"/><circle cx="429.2" cy="179.5" r="1.5"/><circle cx="427.4" cy="178.3" r="1.5"/><circle cx="428.2" cy="178.5" r="1.5"/><circle cx="430.8" cy="176.9" r="1.5"/><circle cx="430.3" cy="178.7" r="1.5"/><circle cx="431.5" cy="177.3" r="1.5"/><circle cx="432.3" cy="178.2" r="1.5"/><circle cx="434.0" cy="178.7" r="1.5"/><circle cx="435.3" cy="179.9" r="1.5"/><circle cx="434.0" cy="179.6" r="1.5"/><circle cx="436.0" cy="178.8" r="1.5"/><circle cx="436.6" cy="179.7" r="1.5"/><circle cx="436.2" cy="178.7" r="1.5"/><circle cx="437.7" cy="178.6" r="1.5"/><circle cx="438.8" cy="178.1" r="1.5"/><circle cx="439.6" cy="179.1" r="1.5"/><circle cx="440.0" cy="180.2" r="1.5"/><circle cx="441.2" cy="178.3" r="1.5"/><circle cx="443.5" cy="178.6" r="1.5"/><circle cx="443.5" cy="178.6" r="1.5"/><circle cx="445.3" cy="180.6" r="1.5"/><circle cx="444.5" cy="179.7" r="1.5"/><circle cx="446.7" cy="179.5" r="1.5"/><circle cx="447.5" cy="179.0" r="1.5"/><circle cx="449.3" cy="179.9" r="1.5"/><circle cx="447.3" cy="179.9" r="1.5"/><circle cx="449.4" cy="178.6" r="1.5"/></g><g fill="#484848" stroke="#232323" stroke-width=".55"><circle cx="411.3" cy="176.0" r="1.5"/><circle cx="411.5" cy="176.2" r="1.5"/><circle cx="414.2" cy="176.4" r="1.5"/><circle cx="414.5" cy="176.0" r="1.5"/><circle cx="415.5" cy="176.2" r="1.5"/><circle cx="417.6" cy="175.0" r="1.5"/><circle cx="419.1" cy="176.1" r="1.5"/><circle cx="419.8" cy="175.1" r="1.5"/><circle cx="421.3" cy="175.3" r="1.5"/><circle cx="421.5" cy="176.1" r="1.5"/><circle cx="422.5" cy="176.4" r="1.5"/><circle cx="423.5" cy="175.3" r="1.5"/><circle cx="425.8" cy="175.5" r="1.5"/><circle cx="426.7" cy="175.0" r="1.5"/><circle cx="429.0" cy="176.4" r="1.5"/><circle cx="430.1" cy="175.4" r="1.5"/><circle cx="430.8" cy="175.9" r="1.5"/><circle cx="431.0" cy="175.6" r="1.5"/><circle cx="433.1" cy="175.4" r="1.5"/><circle cx="433.3" cy="176.6" r="1.5"/><circle cx="435.5" cy="177.0" r="1.5"/><circle cx="437.2" cy="175.7" r="1.5"/><circle cx="437.3" cy="177.3" r="1.5"/><circle cx="439.2" cy="176.5" r="1.5"/><circle cx="440.3" cy="177.3" r="1.5"/></g><g fill="#5cc1ef" stroke="#3689b6" stroke-width=".55"><circle cx="429.9" cy="181.4" r="1.5"/><circle cx="432.3" cy="181.9" r="1.5"/><circle cx="433.4" cy="182.4" r="1.5"/><circle cx="434.4" cy="182.3" r="1.5"/><circle cx="436.1" cy="182.4" r="1.5"/><circle cx="437.5" cy="182.8" r="1.5"/><circle cx="438.1" cy="183.2" r="1.5"/><circle cx="439.6" cy="182.7" r="1.5"/><circle cx="441.4" cy="182.7" r="1.5"/><circle cx="442.5" cy="182.9" r="1.5"/><circle cx="443.7" cy="182.4" r="1.5"/></g><g fill="#484848" stroke="#232323" stroke-width=".55"><circle cx="448.8" cy="179.2" r="1.5"/><circle cx="449.8" cy="177.9" r="1.5"/><circle cx="452.3" cy="178.8" r="1.5"/><circle cx="452.9" cy="177.5" r="1.5"/><circle cx="452.5" cy="178.1" r="1.5"/><circle cx="455.4" cy="178.4" r="1.5"/><circle cx="455.9" cy="177.0" r="1.5"/><circle cx="456.5" cy="177.3" r="1.5"/><circle cx="456.6" cy="177.3" r="1.5"/><circle cx="458.3" cy="177.8" r="1.5"/><circle cx="459.9" cy="177.2" r="1.5"/><circle cx="459.9" cy="176.8" r="1.5"/><circle cx="460.7" cy="178.1" r="1.5"/><circle cx="463.6" cy="177.9" r="1.5"/><circle cx="464.6" cy="176.0" r="1.5"/><circle cx="464.4" cy="176.3" r="1.5"/><circle cx="466.7" cy="177.3" r="1.5"/><circle cx="467.8" cy="177.5" r="1.5"/><circle cx="469.7" cy="176.4" r="1.5"/><circle cx="470.8" cy="175.4" r="1.5"/><circle cx="472.2" cy="175.8" r="1.5"/><circle cx="472.6" cy="175.9" r="1.5"/><circle cx="472.8" cy="177.0" r="1.5"/><circle cx="474.6" cy="176.7" r="1.5"/><circle cx="475.1" cy="176.5" r="1.5"/><circle cx="477.9" cy="176.9" r="1.5"/><circle cx="477.5" cy="175.4" r="1.5"/><circle cx="479.3" cy="175.1" r="1.5"/><circle cx="481.7" cy="175.4" r="1.5"/><circle cx="482.1" cy="175.2" r="1.5"/><circle cx="482.0" cy="176.3" r="1.5"/><circle cx="483.6" cy="175.2" r="1.5"/><circle cx="485.2" cy="173.9" r="1.5"/><circle cx="485.6" cy="174.3" r="1.5"/><circle cx="485.0" cy="174.6" r="1.5"/><circle cx="486.5" cy="174.5" r="1.5"/><circle cx="489.3" cy="173.7" r="1.5"/><circle cx="488.9" cy="173.7" r="1.5"/></g><g fill="#484848" stroke="#232323" stroke-width=".55"><circle cx="483.0" cy="176.1" r="1.5"/><circle cx="485.0" cy="174.0" r="1.5"/><circle cx="487.0" cy="174.8" r="1.5"/><circle cx="485.2" cy="174.1" r="1.5"/><circle cx="486.3" cy="172.2" r="1.5"/><circle cx="488.1" cy="172.5" r="1.5"/><circle cx="488.3" cy="170.7" r="1.5"/><circle cx="491.3" cy="170.5" r="1.5"/><circle cx="489.7" cy="171.1" r="1.5"/></g><g fill="#484848" stroke="#232323" stroke-width=".55"><circle cx="485.6" cy="177.6" r="1.5"/><circle cx="487.7" cy="177.7" r="1.5"/><circle cx="488.1" cy="179.8" r="1.5"/><circle cx="489.3" cy="179.1" r="1.5"/><circle cx="487.9" cy="181.1" r="1.5"/><circle cx="488.9" cy="180.4" r="1.5"/><circle cx="489.2" cy="183.2" r="1.5"/><circle cx="489.6" cy="182.7" r="1.5"/><circle cx="490.5" cy="183.3" r="1.5"/><circle cx="490.4" cy="185.2" r="1.5"/><circle cx="490.6" cy="184.7" r="1.5"/><circle cx="491.3" cy="185.6" r="1.5"/><circle cx="493.0" cy="186.3" r="1.5"/><circle cx="493.4" cy="187.5" r="1.5"/><circle cx="493.7" cy="188.0" r="1.5"/><circle cx="493.2" cy="189.5" r="1.5"/></g><g fill="#484848" stroke="#232323" stroke-width=".55"><circle cx="479.4" cy="179.7" r="1.5"/><circle cx="480.5" cy="180.9" r="1.5"/><circle cx="481.7" cy="180.9" r="1.5"/><circle cx="482.7" cy="181.7" r="1.5"/></g><g fill="#484848" stroke="#232323" stroke-width=".55"><circle cx="431.3" cy="195.8" r="1.5"/><circle cx="432.3" cy="195.5" r="1.5"/><circle cx="434.5" cy="195.7" r="1.5"/><circle cx="434.1" cy="197.1" r="1.5"/><circle cx="436.6" cy="197.1" r="1.5"/><circle cx="436.6" cy="197.5" r="1.5"/><circle cx="437.8" cy="198.5" r="1.5"/><circle cx="438.4" cy="200.0" r="1.5"/><circle cx="437.6" cy="200.0" r="1.5"/></g><g fill="#484848" stroke="#232323" stroke-width=".55"><circle cx="370.0" cy="267.4" r="1.5"/><circle cx="369.7" cy="268.0" r="1.5"/><circle cx="370.9" cy="269.4" r="1.5"/><circle cx="371.0" cy="266.0" r="1.5"/><circle cx="374.1" cy="268.7" r="1.5"/><circle cx="372.5" cy="268.7" r="1.5"/><circle cx="373.0" cy="267.2" r="1.5"/><circle cx="376.4" cy="267.5" r="1.5"/><circle cx="375.9" cy="265.9" r="1.5"/><circle cx="376.5" cy="267.3" r="1.5"/><circle cx="378.9" cy="266.1" r="1.5"/><circle cx="380.2" cy="263.4" r="1.5"/><circle cx="378.9" cy="263.7" r="1.5"/><circle cx="379.4" cy="263.1" r="1.5"/><circle cx="379.8" cy="264.9" r="1.5"/><circle cx="380.0" cy="261.7" r="1.5"/><circle cx="383.2" cy="262.8" r="1.5"/><circle cx="381.5" cy="261.5" r="1.5"/><circle cx="384.6" cy="261.7" r="1.5"/><circle cx="384.3" cy="260.2" r="1.5"/><circle cx="385.1" cy="261.4" r="1.5"/><circle cx="383.7" cy="259.7" r="1.5"/><circle cx="387.5" cy="258.8" r="1.5"/><circle cx="387.7" cy="260.7" r="1.5"/><circle cx="386.0" cy="258.0" r="1.5"/><circle cx="388.8" cy="258.7" r="1.5"/><circle cx="387.9" cy="259.3" r="1.5"/><circle cx="388.0" cy="257.4" r="1.5"/><circle cx="388.3" cy="257.0" r="1.5"/><circle cx="390.2" cy="257.4" r="1.5"/><circle cx="388.7" cy="254.4" r="1.5"/><circle cx="391.1" cy="254.7" r="1.5"/><circle cx="392.1" cy="252.7" r="1.5"/><circle cx="390.4" cy="254.6" r="1.5"/><circle cx="392.4" cy="253.0" r="1.5"/><circle cx="391.4" cy="250.9" r="1.5"/><circle cx="393.8" cy="250.6" r="1.5"/><circle cx="394.7" cy="250.5" r="1.5"/><circle cx="394.7" cy="251.1" r="1.5"/><circle cx="393.9" cy="247.8" r="1.5"/><circle cx="394.9" cy="247.1" r="1.5"/><circle cx="395.1" cy="249.5" r="1.5"/><circle cx="395.1" cy="248.7" r="1.5"/><circle cx="396.4" cy="247.7" r="1.5"/><circle cx="397.9" cy="244.8" r="1.5"/><circle cx="397.1" cy="244.5" r="1.5"/><circle cx="396.9" cy="242.7" r="1.5"/><circle cx="397.2" cy="244.3" r="1.5"/><circle cx="399.7" cy="241.5" r="1.5"/><circle cx="399.9" cy="241.0" r="1.5"/><circle cx="399.5" cy="241.1" r="1.5"/><circle cx="398.2" cy="239.5" r="1.5"/><circle cx="399.0" cy="241.4" r="1.5"/><circle cx="400.6" cy="239.7" r="1.5"/><circle cx="401.6" cy="239.1" r="1.5"/><circle cx="399.7" cy="236.4" r="1.5"/><circle cx="400.1" cy="237.4" r="1.5"/><circle cx="399.8" cy="235.9" r="1.5"/><circle cx="403.2" cy="235.9" r="1.5"/><circle cx="400.5" cy="232.8" r="1.5"/><circle cx="403.5" cy="232.0" r="1.5"/><circle cx="401.9" cy="234.1" r="1.5"/><circle cx="404.3" cy="233.3" r="1.5"/><circle cx="403.0" cy="231.8" r="1.5"/><circle cx="405.2" cy="229.4" r="1.5"/><circle cx="403.6" cy="228.2" r="1.5"/><circle cx="406.6" cy="228.1" r="1.5"/><circle cx="405.2" cy="229.3" r="1.5"/><circle cx="406.8" cy="228.5" r="1.5"/><circle cx="406.1" cy="227.0" r="1.5"/></g><g fill="#484848" stroke="#232323" stroke-width=".55"><circle cx="403.4" cy="231.6" r="1.5"/><circle cx="404.1" cy="229.5" r="1.5"/><circle cx="405.4" cy="229.2" r="1.5"/><circle cx="406.0" cy="227.1" r="1.5"/><circle cx="406.2" cy="227.2" r="1.5"/><circle cx="406.8" cy="225.7" r="1.5"/><circle cx="407.5" cy="224.3" r="1.5"/><circle cx="408.0" cy="223.7" r="1.5"/><circle cx="409.9" cy="221.6" r="1.5"/><circle cx="410.1" cy="221.4" r="1.5"/><circle cx="411.6" cy="220.2" r="1.5"/><circle cx="412.9" cy="219.9" r="1.5"/></g><g fill="#484848" stroke="#232323" stroke-width=".55"><circle cx="114.9" cy="231.2" r="1.5"/><circle cx="113.8" cy="230.0" r="1.5"/><circle cx="114.7" cy="232.2" r="1.5"/><circle cx="114.0" cy="233.7" r="1.5"/><circle cx="112.3" cy="233.9" r="1.5"/><circle cx="111.8" cy="234.1" r="1.5"/><circle cx="111.3" cy="234.7" r="1.5"/><circle cx="110.4" cy="235.8" r="1.5"/><circle cx="111.0" cy="237.2" r="1.5"/><circle cx="111.2" cy="238.5" r="1.5"/><circle cx="109.6" cy="239.2" r="1.5"/><circle cx="108.1" cy="239.7" r="1.5"/><circle cx="108.9" cy="240.2" r="1.5"/><circle cx="107.7" cy="241.6" r="1.5"/><circle cx="108.3" cy="241.4" r="1.5"/><circle cx="106.3" cy="243.7" r="1.5"/><circle cx="106.7" cy="244.0" r="1.5"/></g><g fill="#484848" stroke="#232323" stroke-width=".55"><circle cx="98.1" cy="250.4" r="1.5"/><circle cx="99.4" cy="249.7" r="1.5"/><circle cx="100.8" cy="251.1" r="1.5"/><circle cx="100.8" cy="252.3" r="1.5"/><circle cx="102.3" cy="252.3" r="1.5"/></g><g fill="#484848" stroke="#232323" stroke-width=".55"><circle cx="263.5" cy="288.1" r="1.5"/><circle cx="262.2" cy="286.9" r="1.5"/><circle cx="265.0" cy="286.5" r="1.5"/><circle cx="262.9" cy="289.7" r="1.5"/><circle cx="267.1" cy="289.2" r="1.5"/><circle cx="264.6" cy="288.8" r="1.5"/><circle cx="265.2" cy="292.2" r="1.5"/><circle cx="265.9" cy="289.2" r="1.5"/><circle cx="267.7" cy="292.7" r="1.5"/><circle cx="269.1" cy="291.4" r="1.5"/><circle cx="270.5" cy="294.1" r="1.5"/><circle cx="271.0" cy="292.0" r="1.5"/><circle cx="270.0" cy="293.0" r="1.5"/><circle cx="270.4" cy="295.0" r="1.5"/><circle cx="272.9" cy="293.3" r="1.5"/><circle cx="271.4" cy="294.9" r="1.5"/><circle cx="275.2" cy="297.7" r="1.5"/><circle cx="273.8" cy="298.2" r="1.5"/><circle cx="275.3" cy="298.3" r="1.5"/><circle cx="276.5" cy="295.8" r="1.5"/></g><g fill="#484848" stroke="#232323" stroke-width=".55"><circle cx="265.2" cy="286.2" r="1.5"/><circle cx="265.7" cy="287.8" r="1.5"/><circle cx="266.7" cy="288.2" r="1.5"/><circle cx="266.8" cy="289.8" r="1.5"/><circle cx="267.7" cy="291.2" r="1.5"/><circle cx="267.7" cy="292.5" r="1.5"/><circle cx="268.6" cy="294.3" r="1.5"/><circle cx="269.5" cy="295.5" r="1.5"/></g><g fill="#484848" stroke="#232323" stroke-width=".55"><circle cx="123.8" cy="336.3" r="1.5"/><circle cx="125.1" cy="336.9" r="1.5"/><circle cx="125.5" cy="338.2" r="1.5"/><circle cx="127.0" cy="337.2" r="1.5"/><circle cx="127.8" cy="337.9" r="1.5"/><circle cx="127.6" cy="340.1" r="1.5"/><circle cx="127.5" cy="340.8" r="1.5"/><circle cx="129.0" cy="339.8" r="1.5"/><circle cx="129.9" cy="339.0" r="1.5"/><circle cx="131.9" cy="339.6" r="1.5"/><circle cx="132.9" cy="339.3" r="1.5"/></g><g fill="#484848" stroke="#232323" stroke-width=".55"><circle cx="136.6" cy="363.2" r="1.5"/><circle cx="136.2" cy="364.5" r="1.5"/><circle cx="135.9" cy="366.0" r="1.5"/><circle cx="136.0" cy="367.1" r="1.5"/><circle cx="137.6" cy="368.7" r="1.5"/><circle cx="137.6" cy="368.0" r="1.5"/><circle cx="137.8" cy="368.6" r="1.5"/><circle cx="136.8" cy="369.8" r="1.5"/><circle cx="138.3" cy="371.4" r="1.5"/><circle cx="139.0" cy="372.9" r="1.5"/><circle cx="138.5" cy="374.3" r="1.5"/><circle cx="139.2" cy="374.0" r="1.5"/><circle cx="138.1" cy="375.6" r="1.5"/><circle cx="140.3" cy="375.9" r="1.5"/><circle cx="139.8" cy="377.5" r="1.5"/><circle cx="140.8" cy="379.0" r="1.5"/><circle cx="139.8" cy="380.2" r="1.5"/><circle cx="140.7" cy="381.2" r="1.5"/></g><g fill="#484848" stroke="#232323" stroke-width=".55"><circle cx="225.6" cy="348.9" r="1.5"/><circle cx="226.5" cy="348.6" r="1.5"/><circle cx="228.3" cy="346.0" r="1.5"/><circle cx="229.9" cy="346.8" r="1.5"/><circle cx="229.5" cy="346.1" r="1.5"/><circle cx="230.7" cy="346.8" r="1.5"/><circle cx="232.1" cy="346.2" r="1.5"/><circle cx="233.2" cy="344.0" r="1.5"/><circle cx="231.2" cy="344.1" r="1.5"/></g><g fill="#5cc1ef" stroke="#3689b6" stroke-width=".55"><circle cx="293.5" cy="406.6" r="1.5"/><circle cx="294.0" cy="406.6" r="1.5"/><circle cx="296.5" cy="407.1" r="1.5"/><circle cx="297.6" cy="408.8" r="1.5"/><circle cx="296.6" cy="409.5" r="1.5"/><circle cx="298.5" cy="407.9" r="1.5"/><circle cx="299.2" cy="409.2" r="1.5"/><circle cx="300.4" cy="410.1" r="1.5"/><circle cx="301.9" cy="411.0" r="1.5"/><circle cx="302.3" cy="411.4" r="1.5"/><circle cx="302.3" cy="410.3" r="1.5"/><circle cx="303.4" cy="411.0" r="1.5"/><circle cx="304.6" cy="413.0" r="1.5"/><circle cx="305.4" cy="412.1" r="1.5"/><circle cx="307.3" cy="413.1" r="1.5"/><circle cx="307.9" cy="413.6" r="1.5"/></g><g fill="#484848" stroke="#232323" stroke-width=".55"><circle cx="178.4" cy="456.6" r="1.5"/><circle cx="178.7" cy="455.8" r="1.5"/><circle cx="179.2" cy="455.8" r="1.5"/><circle cx="180.1" cy="457.2" r="1.5"/><circle cx="182.3" cy="457.6" r="1.5"/><circle cx="182.0" cy="457.6" r="1.5"/><circle cx="183.5" cy="459.0" r="1.5"/><circle cx="185.2" cy="459.0" r="1.5"/><circle cx="184.4" cy="459.2" r="1.5"/><circle cx="186.5" cy="458.2" r="1.5"/></g><g fill="#484848" stroke="#232323" stroke-width=".55"><circle cx="191.7" cy="458.6" r="1.5"/><circle cx="191.4" cy="460.6" r="1.5"/><circle cx="193.9" cy="459.0" r="1.5"/><circle cx="195.4" cy="459.2" r="1.5"/><circle cx="195.8" cy="461.1" r="1.5"/><circle cx="195.4" cy="460.4" r="1.5"/><circle cx="198.2" cy="461.3" r="1.5"/><circle cx="197.4" cy="460.4" r="1.5"/><circle cx="199.1" cy="459.8" r="1.5"/><circle cx="198.9" cy="460.6" r="1.5"/><circle cx="200.3" cy="460.2" r="1.5"/></g><g fill="#484848" stroke="#232323" stroke-width=".55"><circle cx="291.4" cy="460.1" r="1.5"/><circle cx="293.4" cy="463.2" r="1.5"/><circle cx="292.4" cy="461.0" r="1.5"/><circle cx="295.0" cy="460.9" r="1.5"/><circle cx="294.7" cy="461.5" r="1.5"/><circle cx="295.2" cy="461.2" r="1.5"/><circle cx="297.3" cy="462.0" r="1.5"/><circle cx="297.1" cy="464.7" r="1.5"/><circle cx="296.5" cy="462.6" r="1.5"/><circle cx="299.0" cy="464.4" r="1.5"/><circle cx="299.1" cy="464.1" r="1.5"/><circle cx="301.5" cy="463.9" r="1.5"/></g><g fill="#484848" stroke="#232323" stroke-width=".55"><circle cx="332.1" cy="350.2" r="1.5"/><circle cx="333.1" cy="349.4" r="1.5"/><circle cx="333.9" cy="350.6" r="1.5"/><circle cx="334.3" cy="349.6" r="1.5"/><circle cx="335.5" cy="349.7" r="1.5"/><circle cx="337.7" cy="348.6" r="1.5"/><circle cx="339.2" cy="348.0" r="1.5"/><circle cx="339.9" cy="348.5" r="1.5"/><circle cx="341.0" cy="348.9" r="1.5"/></g><g fill="#5cc1ef" stroke="#3689b6" stroke-width=".55"><circle cx="346.7" cy="320.5" r="1.5"/><circle cx="347.8" cy="321.6" r="1.5"/><circle cx="348.8" cy="322.1" r="1.5"/><circle cx="350.6" cy="322.8" r="1.5"/><circle cx="352.2" cy="323.6" r="1.5"/><circle cx="353.3" cy="324.7" r="1.5"/><circle cx="354.0" cy="325.0" r="1.5"/><circle cx="356.3" cy="324.5" r="1.5"/><circle cx="357.2" cy="325.4" r="1.5"/><circle cx="357.9" cy="326.4" r="1.5"/><circle cx="360.0" cy="326.8" r="1.5"/><circle cx="360.8" cy="326.7" r="1.5"/></g><circle cx="145.7" cy="227.1" r="1.7" fill="#484848" stroke="#232323" stroke-width=".5"/><circle cx="344.5" cy="430.7" r="1.7" fill="#484848" stroke="#232323" stroke-width=".5"/><circle cx="344.4" cy="430.3" r="1.7" fill="#484848" stroke="#232323" stroke-width=".5"/><circle cx="367.1" cy="374.6" r="1.7" fill="#484848" stroke="#232323" stroke-width=".5"/><circle cx="145.7" cy="227.1" r="1.8" fill="#484848" stroke="#232323" stroke-width=".5"/><circle cx="192.8" cy="208.8" r="1.8" fill="#484848" stroke="#232323" stroke-width=".5"/><circle cx="201.6" cy="209.5" r="1.8" fill="#484848" stroke="#232323" stroke-width=".5"/><circle cx="182.8" cy="230.1" r="1.8" fill="#484848" stroke="#232323" stroke-width=".5"/><circle cx="192.5" cy="208.6" r="1.8" fill="#484848" stroke="#232323" stroke-width=".5"/><circle cx="202.6" cy="209.3" r="1.8" fill="#484848" stroke="#232323" stroke-width=".5"/><circle cx="182.5" cy="230.6" r="1.8" fill="#484848" stroke="#232323" stroke-width=".5"/><circle cx="375.6" cy="122.8" r="1.8" fill="#484848" stroke="#232323" stroke-width=".5"/><circle cx="378.1" cy="127.8" r="1.8" fill="#484848" stroke="#232323" stroke-width=".5"/><circle cx="379.3" cy="131.6" r="1.8" fill="#484848" stroke="#232323" stroke-width=".5"/><circle cx="382.6" cy="137.9" r="1.8" fill="#484848" stroke="#232323" stroke-width=".5"/><circle cx="384.4" cy="142.9" r="1.8" fill="#484848" stroke="#232323" stroke-width=".5"/><circle cx="386.1" cy="146.6" r="1.8" fill="#484848" stroke="#232323" stroke-width=".5"/><circle cx="338.0" cy="167.9" r="1.8" fill="#484848" stroke="#232323" stroke-width=".5"/><circle cx="331.7" cy="162.9" r="1.8" fill="#484848" stroke="#232323" stroke-width=".5"/><circle cx="482.4" cy="245.4" r="2.0" fill="#b9b9b9" stroke="#555555" stroke-width=".5"/><circle cx="477.6" cy="258.6" r="2.0" fill="#b9b9b9" stroke="#555555" stroke-width=".5"/><circle cx="469.9" cy="278.3" r="2.0" fill="#b9b9b9" stroke="#555555" stroke-width=".5"/><circle cx="404.8" cy="255.4" r="1.9" fill="#484848" stroke="#232323" stroke-width=".5"/><circle cx="475.5" cy="270.2" r="1.9" fill="#484848" stroke="#232323" stroke-width=".5"/><circle cx="465.1" cy="276.3" r="1.9" fill="#484848" stroke="#232323" stroke-width=".5"/><circle cx="480.7" cy="289.6" r="1.9" fill="#484848" stroke="#232323" stroke-width=".5"/><circle cx="488.5" cy="291.0" r="1.9" fill="#484848" stroke="#232323" stroke-width=".5"/><circle cx="485.9" cy="292.8" r="1.9" fill="#484848" stroke="#232323" stroke-width=".5"/><circle cx="446.0" cy="284.9" r="1.9" fill="#484848" stroke="#232323" stroke-width=".5"/><circle cx="448.6" cy="284.1" r="1.9" fill="#484848" stroke="#232323" stroke-width=".5"/><circle cx="429.1" cy="189.8" r="1.9" fill="#484848" stroke="#232323" stroke-width=".5"/><circle cx="385.2" cy="145.2" r="1.9" fill="#484848" stroke="#232323" stroke-width=".5"/><circle cx="383.5" cy="142.6" r="1.9" fill="#484848" stroke="#232323" stroke-width=".5"/><circle cx="386.1" cy="146.9" r="1.9" fill="#484848" stroke="#232323" stroke-width=".5"/><circle cx="338.0" cy="347.4" r="1.8" fill="#5cc1ef" stroke="#3689b6" stroke-width=".5"/><circle cx="340.2" cy="347.0" r="1.8" fill="#5cc1ef" stroke="#3689b6" stroke-width=".5"/><circle cx="331.7" cy="350.2" r="1.8" fill="#484848" stroke="#232323" stroke-width=".5"/><circle cx="334.8" cy="350.8" r="1.8" fill="#484848" stroke="#232323" stroke-width=".5"/><g fill="#b9b9b9" stroke="#555555" stroke-width=".45"><circle cx="289.2" cy="199.6" r="1.4"/><circle cx="300.2" cy="207.4" r="1.4"/><circle cx="236.1" cy="186.1" r="1.4"/><circle cx="218.2" cy="127.1" r="1.4"/><circle cx="329.1" cy="215.4" r="1.4"/><circle cx="304.3" cy="58.2" r="1.4"/><circle cx="237.2" cy="109.7" r="1.4"/><circle cx="302.4" cy="222.4" r="1.4"/><circle cx="298.6" cy="228.7" r="1.4"/><circle cx="290.2" cy="120.0" r="1.4"/><circle cx="366.0" cy="241.5" r="1.4"/><circle cx="262.0" cy="106.3" r="1.4"/><circle cx="256.8" cy="61.2" r="1.4"/><circle cx="216.8" cy="135.4" r="1.4"/><circle cx="222.9" cy="111.0" r="1.4"/><circle cx="310.4" cy="167.8" r="1.4"/><circle cx="222.6" cy="160.3" r="1.4"/><circle cx="241.7" cy="117.6" r="1.4"/><circle cx="241.3" cy="152.8" r="1.4"/><circle cx="368.8" cy="222.8" r="1.4"/><circle cx="241.8" cy="114.4" r="1.4"/><circle cx="258.3" cy="62.1" r="1.4"/><circle cx="247.7" cy="211.4" r="1.4"/><circle cx="273.2" cy="169.5" r="1.4"/><circle cx="313.4" cy="286.4" r="1.4"/><circle cx="235.8" cy="84.9" r="1.4"/><circle cx="249.0" cy="95.0" r="1.4"/><circle cx="283.1" cy="70.7" r="1.4"/><circle cx="317.7" cy="124.3" r="1.4"/><circle cx="213.2" cy="105.9" r="1.4"/><circle cx="287.9" cy="58.4" r="1.4"/><circle cx="234.5" cy="145.6" r="1.4"/><circle cx="312.9" cy="78.5" r="1.4"/><circle cx="336.5" cy="206.6" r="1.4"/><circle cx="345.6" cy="240.3" r="1.4"/><circle cx="323.4" cy="149.4" r="1.4"/><circle cx="315.0" cy="213.5" r="1.4"/><circle cx="294.9" cy="106.4" r="1.4"/><circle cx="337.9" cy="181.9" r="1.4"/><circle cx="321.3" cy="301.6" r="1.4"/><circle cx="239.7" cy="89.3" r="1.4"/><circle cx="379.0" cy="228.0" r="1.4"/><circle cx="238.9" cy="163.2" r="1.4"/><circle cx="315.1" cy="130.8" r="1.4"/><circle cx="226.5" cy="181.7" r="1.4"/><circle cx="254.4" cy="89.1" r="1.4"/><circle cx="288.9" cy="119.1" r="1.4"/><circle cx="242.0" cy="158.4" r="1.4"/><circle cx="323.5" cy="181.0" r="1.4"/><circle cx="289.7" cy="48.3" r="1.4"/><circle cx="324.2" cy="167.6" r="1.4"/><circle cx="324.4" cy="226.6" r="1.4"/><circle cx="293.7" cy="91.8" r="1.4"/><circle cx="253.5" cy="139.1" r="1.4"/><circle cx="337.7" cy="188.5" r="1.4"/><circle cx="384.3" cy="245.6" r="1.4"/><circle cx="225.3" cy="169.6" r="1.4"/><circle cx="323.5" cy="298.7" r="1.4"/><circle cx="274.2" cy="202.2" r="1.4"/><circle cx="216.0" cy="166.0" r="1.4"/><circle cx="296.1" cy="49.3" r="1.4"/><circle cx="227.4" cy="83.4" r="1.4"/><circle cx="366.0" cy="236.3" r="1.4"/><circle cx="243.4" cy="190.3" r="1.4"/><circle cx="326.1" cy="189.2" r="1.4"/><circle cx="261.3" cy="149.1" r="1.4"/><circle cx="313.1" cy="98.1" r="1.4"/><circle cx="305.7" cy="183.6" r="1.4"/><circle cx="311.1" cy="180.2" r="1.4"/><circle cx="306.3" cy="158.3" r="1.4"/><circle cx="252.9" cy="175.1" r="1.4"/><circle cx="224.7" cy="164.0" r="1.4"/><circle cx="294.0" cy="131.0" r="1.4"/><circle cx="238.0" cy="105.6" r="1.4"/><circle cx="270.0" cy="216.6" r="1.4"/><circle cx="223.9" cy="185.7" r="1.4"/><circle cx="249.2" cy="97.2" r="1.4"/><circle cx="304.6" cy="164.8" r="1.4"/><circle cx="274.0" cy="158.2" r="1.4"/><circle cx="304.4" cy="86.5" r="1.4"/><circle cx="326.1" cy="191.1" r="1.4"/><circle cx="368.2" cy="214.3" r="1.4"/><circle cx="251.0" cy="68.8" r="1.4"/><circle cx="334.8" cy="299.1" r="1.4"/><circle cx="299.2" cy="235.2" r="1.4"/><circle cx="308.9" cy="186.9" r="1.4"/><circle cx="312.3" cy="82.8" r="1.4"/><circle cx="236.1" cy="99.0" r="1.4"/><circle cx="264.3" cy="173.4" r="1.4"/><circle cx="301.7" cy="162.9" r="1.4"/><circle cx="338.5" cy="280.1" r="1.4"/><circle cx="235.5" cy="169.7" r="1.4"/><circle cx="238.2" cy="88.0" r="1.4"/><circle cx="339.2" cy="284.7" r="1.4"/><circle cx="324.3" cy="155.7" r="1.4"/><circle cx="318.4" cy="183.9" r="1.4"/><circle cx="267.3" cy="173.9" r="1.4"/><circle cx="326.1" cy="217.8" r="1.4"/><circle cx="330.3" cy="202.4" r="1.4"/><circle cx="305.2" cy="151.5" r="1.4"/><circle cx="250.4" cy="154.9" r="1.4"/><circle cx="274.0" cy="69.2" r="1.4"/><circle cx="308.5" cy="184.9" r="1.4"/><circle cx="231.2" cy="174.7" r="1.4"/><circle cx="233.1" cy="181.5" r="1.4"/><circle cx="320.7" cy="57.9" r="1.4"/><circle cx="303.9" cy="210.4" r="1.4"/><circle cx="272.0" cy="122.1" r="1.4"/><circle cx="329.4" cy="199.9" r="1.4"/><circle cx="284.7" cy="176.4" r="1.4"/><circle cx="319.2" cy="73.9" r="1.4"/><circle cx="323.2" cy="170.2" r="1.4"/><circle cx="304.2" cy="76.5" r="1.4"/><circle cx="287.3" cy="230.2" r="1.4"/><circle cx="289.8" cy="115.4" r="1.4"/><circle cx="314.9" cy="160.0" r="1.4"/><circle cx="355.0" cy="218.1" r="1.4"/><circle cx="270.7" cy="118.1" r="1.4"/><circle cx="335.3" cy="201.1" r="1.4"/><circle cx="316.8" cy="220.4" r="1.4"/></g><g fill="#5cc1ef" stroke="#3689b6" stroke-width=".45"><circle cx="253.2" cy="161.6" r="1.4"/><circle cx="323.1" cy="70.3" r="1.4"/><circle cx="306.9" cy="61.8" r="1.4"/><circle cx="308.7" cy="219.8" r="1.4"/><circle cx="273.5" cy="176.7" r="1.4"/><circle cx="241.3" cy="138.5" r="1.4"/><circle cx="359.9" cy="217.7" r="1.4"/><circle cx="283.6" cy="114.3" r="1.4"/><circle cx="264.0" cy="196.5" r="1.4"/><circle cx="284.3" cy="145.7" r="1.4"/><circle cx="311.4" cy="178.4" r="1.4"/><circle cx="215.7" cy="127.2" r="1.4"/><circle cx="343.2" cy="237.6" r="1.4"/><circle cx="255.6" cy="81.7" r="1.4"/><circle cx="272.2" cy="74.5" r="1.4"/><circle cx="262.5" cy="154.3" r="1.4"/><circle cx="248.8" cy="143.6" r="1.4"/><circle cx="272.0" cy="144.1" r="1.4"/><circle cx="277.9" cy="150.9" r="1.4"/><circle cx="238.2" cy="200.8" r="1.4"/><circle cx="307.4" cy="201.8" r="1.4"/><circle cx="391.0" cy="225.5" r="1.4"/></g><g fill="#484848" stroke="#232323" stroke-width=".45"><circle cx="452.8" cy="415.7" r="1.5"/><circle cx="403.4" cy="337.7" r="1.5"/><circle cx="417.7" cy="365.4" r="1.5"/><circle cx="469.6" cy="402.7" r="1.5"/><circle cx="422.1" cy="389.4" r="1.5"/><circle cx="407.2" cy="311.1" r="1.5"/><circle cx="400.7" cy="314.1" r="1.5"/><circle cx="376.0" cy="349.8" r="1.5"/><circle cx="430.8" cy="417.1" r="1.5"/><circle cx="432.3" cy="321.9" r="1.5"/><circle cx="391.5" cy="366.9" r="1.5"/><circle cx="425.5" cy="423.7" r="1.5"/><circle cx="416.1" cy="321.5" r="1.5"/><circle cx="422.6" cy="362.4" r="1.5"/><circle cx="400.1" cy="401.5" r="1.5"/><circle cx="369.2" cy="312.6" r="1.5"/><circle cx="392.9" cy="326.8" r="1.5"/><circle cx="385.0" cy="365.0" r="1.5"/><circle cx="415.8" cy="355.9" r="1.5"/><circle cx="484.3" cy="372.3" r="1.5"/><circle cx="424.9" cy="363.8" r="1.5"/><circle cx="391.4" cy="333.9" r="1.5"/><circle cx="413.9" cy="390.1" r="1.5"/><circle cx="398.4" cy="386.2" r="1.5"/><circle cx="427.9" cy="354.4" r="1.5"/></g><g fill="#d0d0d3" stroke="#6c6c6e" stroke-width=".45"><circle cx="435.4" cy="331.1" r="1.5"/><circle cx="400.8" cy="365.8" r="1.5"/><circle cx="389.5" cy="337.6" r="1.5"/><circle cx="403.1" cy="383.4" r="1.5"/><circle cx="383.5" cy="318.5" r="1.5"/><circle cx="482.8" cy="369.0" r="1.5"/><circle cx="405.2" cy="300.9" r="1.5"/><circle cx="420.3" cy="380.7" r="1.5"/><circle cx="457.1" cy="404.9" r="1.5"/><circle cx="402.2" cy="336.8" r="1.5"/></g><g fill="#d0d0d3" stroke="#6c6c6e" stroke-width=".45"><circle cx="175.1" cy="427.0" r="1.5"/><circle cx="207.3" cy="395.6" r="1.5"/><circle cx="172.4" cy="420.7" r="1.5"/><circle cx="208.7" cy="391.2" r="1.5"/><circle cx="169.5" cy="451.4" r="1.5"/><circle cx="171.4" cy="443.2" r="1.5"/><circle cx="169.2" cy="433.8" r="1.5"/><circle cx="188.8" cy="404.3" r="1.5"/><circle cx="181.9" cy="391.8" r="1.5"/><circle cx="242.9" cy="375.8" r="1.5"/><circle cx="226.7" cy="385.1" r="1.5"/><circle cx="216.6" cy="387.8" r="1.5"/><circle cx="232.1" cy="383.4" r="1.5"/><circle cx="157.5" cy="418.6" r="1.5"/><circle cx="199.6" cy="383.3" r="1.5"/><circle cx="185.6" cy="424.7" r="1.5"/><circle cx="165.2" cy="430.0" r="1.5"/><circle cx="169.4" cy="400.0" r="1.5"/><circle cx="214.7" cy="378.7" r="1.5"/><circle cx="154.1" cy="442.6" r="1.5"/><circle cx="199.9" cy="395.4" r="1.5"/><circle cx="297.3" cy="359.7" r="1.5"/><circle cx="287.6" cy="378.4" r="1.5"/><circle cx="182.4" cy="411.2" r="1.5"/><circle cx="194.7" cy="412.1" r="1.5"/><circle cx="221.8" cy="398.9" r="1.5"/><circle cx="195.1" cy="401.3" r="1.5"/><circle cx="306.4" cy="357.2" r="1.5"/><circle cx="188.0" cy="394.3" r="1.5"/><circle cx="185.5" cy="405.0" r="1.5"/></g><g fill="#5cc1ef" stroke="#3689b6" stroke-width=".45"><circle cx="220.9" cy="388.7" r="1.5"/><circle cx="160.9" cy="443.6" r="1.5"/><circle cx="192.7" cy="406.0" r="1.5"/><circle cx="163.6" cy="433.4" r="1.5"/><circle cx="175.4" cy="418.1" r="1.5"/><circle cx="296.2" cy="353.3" r="1.5"/><circle cx="179.3" cy="401.4" r="1.5"/><circle cx="184.4" cy="391.8" r="1.5"/><circle cx="200.0" cy="389.4" r="1.5"/><circle cx="291.7" cy="360.8" r="1.5"/><circle cx="263.3" cy="379.4" r="1.5"/><circle cx="303.9" cy="379.1" r="1.5"/><circle cx="202.2" cy="382.0" r="1.5"/><circle cx="162.7" cy="440.7" r="1.5"/></g><g fill="#484848" stroke="#232323" stroke-width=".45"><circle cx="248.2" cy="315.0" r="1.5"/><circle cx="164.1" cy="266.6" r="1.5"/><circle cx="151.4" cy="285.3" r="1.5"/><circle cx="183.4" cy="261.8" r="1.5"/><circle cx="177.5" cy="254.9" r="1.5"/><circle cx="164.6" cy="306.2" r="1.5"/><circle cx="151.8" cy="287.5" r="1.5"/><circle cx="146.1" cy="281.5" r="1.5"/><circle cx="180.7" cy="315.2" r="1.5"/><circle cx="169.7" cy="294.3" r="1.5"/><circle cx="195.4" cy="305.5" r="1.5"/><circle cx="233.9" cy="310.2" r="1.5"/><circle cx="162.4" cy="298.3" r="1.5"/><circle cx="170.6" cy="269.1" r="1.5"/><circle cx="214.4" cy="313.3" r="1.5"/><circle cx="222.4" cy="310.6" r="1.5"/><circle cx="243.8" cy="317.1" r="1.5"/><circle cx="177.1" cy="271.3" r="1.5"/><circle cx="189.9" cy="263.8" r="1.5"/><circle cx="159.1" cy="292.5" r="1.5"/><circle cx="179.6" cy="298.3" r="1.5"/><circle cx="265.2" cy="332.0" r="1.5"/><circle cx="245.5" cy="310.4" r="1.5"/><circle cx="263.5" cy="329.1" r="1.5"/><circle cx="160.9" cy="284.6" r="1.5"/><circle cx="259.1" cy="333.0" r="1.5"/><circle cx="232.5" cy="325.4" r="1.5"/><circle cx="243.6" cy="302.4" r="1.5"/><circle cx="168.1" cy="256.4" r="1.5"/><circle cx="175.8" cy="295.7" r="1.5"/><circle cx="154.1" cy="264.3" r="1.5"/><circle cx="238.2" cy="310.4" r="1.5"/><circle cx="263.0" cy="325.6" r="1.5"/><circle cx="238.2" cy="330.1" r="1.5"/><circle cx="195.7" cy="312.0" r="1.5"/><circle cx="156.4" cy="280.2" r="1.5"/><circle cx="174.6" cy="287.9" r="1.5"/><circle cx="182.4" cy="316.1" r="1.5"/><circle cx="169.3" cy="282.6" r="1.5"/><circle cx="229.0" cy="307.5" r="1.5"/></g><g fill="#d0d0d3" stroke="#6c6c6e" stroke-width=".45"><circle cx="279.0" cy="332.1" r="1.5"/><circle cx="183.3" cy="312.6" r="1.5"/><circle cx="267.0" cy="325.9" r="1.5"/><circle cx="195.9" cy="255.7" r="1.5"/><circle cx="148.0" cy="281.4" r="1.5"/><circle cx="268.4" cy="332.5" r="1.5"/></g><g fill="#484848" stroke="#232323" stroke-width=".45"><circle cx="230.8" cy="264.9" r="1.5"/><circle cx="221.2" cy="254.9" r="1.5"/><circle cx="220.7" cy="256.7" r="1.5"/><circle cx="228.2" cy="240.6" r="1.5"/><circle cx="243.5" cy="239.0" r="1.5"/><circle cx="242.1" cy="257.9" r="1.5"/><circle cx="226.7" cy="244.9" r="1.5"/><circle cx="218.1" cy="255.0" r="1.5"/><circle cx="232.7" cy="263.6" r="1.5"/><circle cx="231.9" cy="247.1" r="1.5"/><circle cx="228.6" cy="258.3" r="1.5"/><circle cx="222.7" cy="252.6" r="1.5"/><circle cx="225.4" cy="265.9" r="1.5"/><circle cx="225.4" cy="265.1" r="1.5"/><circle cx="232.4" cy="239.1" r="1.5"/><circle cx="225.8" cy="257.9" r="1.5"/><circle cx="232.5" cy="241.8" r="1.5"/><circle cx="253.6" cy="264.9" r="1.5"/><circle cx="241.5" cy="251.1" r="1.5"/><circle cx="215.6" cy="267.0" r="1.5"/><circle cx="230.1" cy="259.1" r="1.5"/><circle cx="235.1" cy="242.7" r="1.5"/><circle cx="234.8" cy="240.7" r="1.5"/><circle cx="231.5" cy="256.1" r="1.5"/><circle cx="219.1" cy="255.8" r="1.5"/><circle cx="243.2" cy="260.0" r="1.5"/><circle cx="223.7" cy="263.1" r="1.5"/><circle cx="248.8" cy="261.5" r="1.5"/><circle cx="216.7" cy="247.6" r="1.5"/><circle cx="238.6" cy="250.6" r="1.5"/><circle cx="216.2" cy="262.1" r="1.5"/><circle cx="226.2" cy="249.4" r="1.5"/><circle cx="216.9" cy="252.1" r="1.5"/><circle cx="237.3" cy="239.7" r="1.5"/><circle cx="221.8" cy="246.8" r="1.5"/><circle cx="239.8" cy="247.2" r="1.5"/><circle cx="231.8" cy="254.1" r="1.5"/><circle cx="218.5" cy="263.5" r="1.5"/><circle cx="218.6" cy="250.4" r="1.5"/><circle cx="244.2" cy="264.8" r="1.5"/></g><g fill="#484848" stroke="#232323" stroke-width=".45"><circle cx="411.5" cy="296.8" r="1.5"/><circle cx="419.3" cy="232.0" r="1.5"/><circle cx="423.2" cy="246.4" r="1.5"/><circle cx="422.3" cy="239.0" r="1.5"/><circle cx="413.2" cy="299.2" r="1.5"/><circle cx="399.0" cy="289.8" r="1.5"/></g><g fill="#5cc1ef" stroke="#3689b6" stroke-width=".45"><circle cx="369.5" cy="186.5" r="1.5"/><circle cx="367.7" cy="186.6" r="1.5"/><circle cx="386.7" cy="194.2" r="1.5"/><circle cx="402.3" cy="208.1" r="1.5"/><circle cx="372.8" cy="184.2" r="1.5"/><circle cx="400.4" cy="205.6" r="1.5"/><circle cx="400.2" cy="202.9" r="1.5"/><circle cx="388.8" cy="196.5" r="1.5"/><circle cx="375.8" cy="186.5" r="1.5"/><circle cx="368.7" cy="182.2" r="1.5"/><circle cx="374.2" cy="185.9" r="1.5"/><circle cx="394.1" cy="198.8" r="1.5"/><circle cx="377.4" cy="186.9" r="1.5"/><circle cx="397.1" cy="202.8" r="1.5"/><circle cx="367.5" cy="185.9" r="1.5"/><circle cx="374.9" cy="186.9" r="1.5"/></g></g>
<path class="ax" d="M85.2 22.2V479.7H550.7"/><path class="ax" d="M75.6 37.6H85.2"/><text class="tk" x="69.8" y="45.8" text-anchor="end">20</text><path class="ax" d="M75.6 145.0H85.2"/><text class="tk" x="69.8" y="153.2" text-anchor="end">10</text><path class="ax" d="M75.6 252.5H85.2"/><text class="tk" x="69.8" y="260.7" text-anchor="end">0</text><path class="ax" d="M75.6 358.7H85.2"/><text class="tk" x="69.8" y="366.9" text-anchor="end">−10</text><path class="ax" d="M75.6 464.1H85.2"/><text class="tk" x="69.8" y="472.3" text-anchor="end">−20</text><path class="ax" d="M170.7 479.7V489.3"/><text class="tk" x="167.7" y="511.9" text-anchor="middle">−10</text><path class="ax" d="M288 479.7V489.3"/><text class="tk" x="288" y="511.9" text-anchor="middle">0</text><path class="ax" d="M406 479.7V489.3"/><text class="tk" x="406" y="511.9" text-anchor="middle">10</text><path class="ax" d="M525.3 479.7V489.3"/><text class="tk" x="525.3" y="511.9" text-anchor="middle">20</text><text class="t" x="282.5" y="542.0">UMAP 1</text><text class="t" transform="translate(34 263.0) rotate(-90)" text-anchor="middle">UMAP 2</text><text class="t" x="96" y="47.2">Race</text>
<path class="ax" d="M85.2 604.4V1062.3H550.7"/><path class="ax" d="M75.6 620.8H85.2"/><text class="tk" x="69.8" y="629.0" text-anchor="end">20</text><path class="ax" d="M75.6 727.8H85.2"/><text class="tk" x="69.8" y="736.0" text-anchor="end">10</text><path class="ax" d="M75.6 835.2H85.2"/><text class="tk" x="69.8" y="843.4" text-anchor="end">0</text><path class="ax" d="M75.6 941.1H85.2"/><text class="tk" x="69.8" y="949.3" text-anchor="end">−10</text><path class="ax" d="M75.6 1046.7H85.2"/><text class="tk" x="69.8" y="1054.9" text-anchor="end">−20</text><path class="ax" d="M170.7 1062.3V1071.9"/><text class="tk" x="167.7" y="1094.5" text-anchor="middle">−10</text><path class="ax" d="M288 1062.3V1071.9"/><text class="tk" x="288" y="1094.5" text-anchor="middle">0</text><path class="ax" d="M406 1062.3V1071.9"/><text class="tk" x="406" y="1094.5" text-anchor="middle">10</text><path class="ax" d="M525.3 1062.3V1071.9"/><text class="tk" x="525.3" y="1094.5" text-anchor="middle">20</text><text class="t" x="274.5" y="1124.6">UMAP 1</text><text class="t" transform="translate(34 841.0) rotate(-90)" text-anchor="middle">UMAP 2</text><text class="t" x="96.5" y="630.4">Ethnicity</text>
<text class="pl" transform="translate(1.2 27.6) scale(1.13 1)">a</text>
<text class="pl" transform="translate(1.6 598) scale(1.13 1.04)">b</text>
<text class="pl" transform="translate(540.4 27.6) scale(1.13 1)">c</text>
<text class="t" x="594" y="26.6">Ancestry</text>
<text class="t" x="35.8" y="1203.7">Race</text>
<circle cx="46.7" cy="1227.3" r="10.4" fill="#c43b37" stroke="#111" stroke-width="2"/>
<text class="t" x="65.5" y="1234.2">Asian</text>
<circle cx="46.7" cy="1255.7" r="10.4" fill="#2f3f9b" stroke="#111" stroke-width="2"/>
<text class="t" x="65.5" y="1263">Black or African American</text>
<circle cx="46.7" cy="1284.6" r="10.4" fill="#7b4a24" stroke="#111" stroke-width="2"/>
<text class="t" x="65.5" y="1291.5">Middle Eastern or North African</text>
<circle cx="46.7" cy="1313" r="10.4" fill="#b46bb9" stroke="#111" stroke-width="2"/>
<text class="t" x="65.5" y="1320">Native Hawaiian or Other</text>
<circle cx="46.7" cy="1363.7" r="10.4" fill="#f2a440" stroke="#111" stroke-width="2"/>
<text class="t" x="65.5" y="1371.4">White</text>
<circle cx="46.7" cy="1392.5" r="10.4" fill="#3f9190" stroke="#111" stroke-width="2"/>
<text class="t" x="65.5" y="1399.9">More than one population</text>
<circle cx="46.7" cy="1421" r="10.4" fill="#b9b9b9" stroke="#111" stroke-width="2"/>
<text class="t" x="65.5" y="1428">No information</text>
<text class="t" x="65.5" y="1343.6">Pacific Islander</text>
<text class="t" x="35.8" y="1473.7">Ethnicity</text>
<circle cx="46.7" cy="1498.3" r="10.4" fill="#6fc1ee" stroke="#111" stroke-width="2"/>
<text class="t" x="65.5" y="1506">Hispanic or Latino</text>
<circle cx="46.7" cy="1526.8" r="10.4" fill="#3e3e3e" stroke="#111" stroke-width="2"/>
<text class="t" x="65.5" y="1533.7">Not Hispanic or Latino</text>
<circle cx="46.7" cy="1555.3" r="10.4" fill="#b9b9b9" stroke="#111" stroke-width="2"/>
<text class="t" x="65.5" y="1562.2">No information</text>
<text class="t" x="399.3" y="1203.4">Ancestry</text>
<rect x="400.9" y="1217.7" width="20.9" height="20" fill="#3b4ca2" stroke="#111" stroke-width="2"/>
<text class="t" x="427.6" y="1235.6">African</text>
<rect x="400.9" y="1246.4" width="20.9" height="20" fill="#2f8d58" stroke="#111" stroke-width="2"/>
<text class="t" x="427.6" y="1263.8">East Asian</text>
<rect x="400.9" y="1275.0" width="20.9" height="20" fill="#c2272d" stroke="#111" stroke-width="2"/>
<text class="t" x="427.6" y="1292.0">South Asian</text>
<rect x="400.9" y="1303.7" width="20.9" height="20" fill="#86522c" stroke="#111" stroke-width="2"/>
<text class="t" x="427.6" y="1320.3">West Asian</text>
<rect x="400.9" y="1332.3" width="20.9" height="20" fill="#f6ba5c" stroke="#111" stroke-width="2"/>
<text class="t" x="427.6" y="1348.5">European</text>
<rect x="400.9" y="1361.0" width="20.9" height="20" fill="#90c9ec" stroke="#111" stroke-width="2"/>
<text class="t" x="427.6" y="1376.7">American</text>
<g clip-path="url(#cp0)"><rect x="593.4" y="38.2" width="279.4" height="186.0" fill="#be302f"/><rect x="593.4" y="38.2" width="279.4" height="186.0" filter="url(#txw)" opacity="0.1"/><rect x="593.4" y="38.2" width="279.4" height="186.0" filter="url(#txk)" opacity="0.05"/><path filter="url(#st3)" fill="#e8752a" opacity=".8" d="M559.0 34.3L671.8 34.3L647.2 53.1L625.5 64.7L612.5 76.3L604.7 86.4L600.0 89.3L559.0 89.3Z"/><path filter="url(#st1)" fill="#f8a41f" opacity=".92" d="M559.0 34.3L624.1 34.3L612.5 50.2L605.2 64.7L600.0 79.2L597.1 88.4L559.0 88.4Z"/><path filter="url(#bl)" fill="#f5a828" d="M550.3 88.4L671.8 90.0L729.6 91.2L729.6 92.5L671.8 92.9L550.3 93.6Z"/><path filter="url(#st2)" fill="#94a4b6" d="M576.3 122.6L597.1 122.6L599.5 139.9L596.6 166.0L594.5 186.2L576.3 186.2Z"/><path filter="url(#b0)" fill="#37905f" d="M593.4 224.4C593.7 219.0 594.4 202.7 595.1 192.0C595.9 181.3 596.8 169.3 598.0 160.2C599.2 151.0 600.9 143.8 602.4 137.0C603.8 130.3 605.0 124.7 606.7 119.7C608.4 114.6 610.3 109.8 612.5 106.7C614.6 103.5 616.6 102.3 619.7 100.9C622.8 99.4 625.0 98.8 631.3 98.0C637.6 97.2 645.7 96.7 657.3 96.0C668.9 95.2 686.2 94.3 700.7 93.6C715.2 93.0 729.6 92.6 744.1 92.2C758.6 91.8 775.4 91.6 787.5 91.3C799.5 91.1 808.2 91.3 816.4 90.7C824.6 90.2 830.9 89.1 836.7 87.9C842.4 86.6 847.3 85.2 851.1 83.5C855.0 81.8 857.2 80.4 859.8 77.7C862.5 75.1 865.1 70.7 867.0 67.6C869.0 64.5 870.3 61.6 871.4 58.9C872.4 56.3 873.1 52.9 873.4 51.7L874.8 226.2L591.4 226.2Z"/><path filter="url(#bs)" fill="#b0703a" opacity=".8" d="M870.2 35.8L874.3 35.8L874.3 105.2L871.4 105.2Z"/></g><g clip-path="url(#cp1)"><rect x="593.4" y="265.2" width="279.4" height="186.0" fill="#36459b"/><path filter="url(#st5)" fill="#f8a41f" d="M593.4 451.4C594.4 449.8 597.5 446.1 599.5 442.1C601.4 438.2 603.3 433.5 605.2 427.7C607.2 421.9 609.1 414.7 611.0 407.4C613.0 400.2 614.6 392.5 616.8 384.3C619.0 376.1 621.6 366.4 624.1 358.2C626.5 350.0 628.9 342.3 631.3 335.1C633.7 327.9 635.9 321.1 638.5 314.9C641.2 308.6 644.1 302.6 647.2 297.5C650.3 292.4 653.2 288.1 657.3 284.5C661.4 280.9 666.5 278.1 671.8 275.8C677.1 273.5 681.9 272.2 689.1 270.9C696.4 269.6 703.6 268.9 715.2 268.0C726.7 267.1 741.7 266.3 758.6 265.7C775.4 265.1 806.8 264.7 816.4 264.5L872.8 259.2L581.4 259.2L581.4 451.2Z"/><path filter="url(#st5)" fill="#8c6236" d="M859.8 259.9L885.8 259.9L885.8 456.6L872.0 447.9L869.6 401.6L866.7 343.8L863.3 300.4Z"/></g><g clip-path="url(#cp2)"><rect x="593.4" y="492.4" width="279.4" height="186.0" fill="#55b7e8"/><path filter="url(#st6)" fill="#8b5e34" d="M852.6 475.3L897.4 475.3L897.4 669.1L862.7 672.0L843.9 663.3L845.3 605.5L849.7 541.9Z"/><rect x="593.4" y="492.4" width="279.4" height="186.0" filter="url(#txw)" opacity="0.18"/><rect x="593.4" y="492.4" width="279.4" height="186.0" filter="url(#txk)" opacity="0.12"/><path filter="url(#bh)" fill="none" stroke="#4a74c8" stroke-width="9" opacity=".8" d="M601.4 492.7C604.8 492.9 614.6 492.9 621.9 494.1C629.2 495.3 637.8 497.7 645.1 499.9C652.3 502.1 659.5 504.5 665.3 507.1C671.1 509.8 675.4 512.4 679.8 515.8C684.1 519.2 687.5 523.1 691.4 527.4C695.2 531.7 699.1 536.6 702.9 541.9C706.8 547.2 710.6 552.9 714.5 559.2C718.3 565.5 722.2 572.7 726.1 579.5C729.9 586.2 733.8 593.4 737.6 599.7C741.5 606.0 745.3 611.5 749.2 617.1C753.1 622.6 756.9 628.4 760.8 633.0C764.6 637.6 768.0 640.7 772.3 644.5C776.7 648.4 781.5 652.7 786.8 656.1C792.1 659.5 797.9 662.4 804.2 664.8C810.4 667.2 817.2 668.9 824.4 670.6C831.6 672.3 838.2 673.6 847.6 674.9C857.0 676.2 875.3 677.8 880.8 678.4"/><path filter="url(#bh2)" fill="none" stroke="#3447a0" stroke-width="6" d="M595.4 492.7C598.8 492.9 608.6 492.9 615.9 494.1C623.2 495.3 631.8 497.7 639.1 499.9C646.3 502.1 653.5 504.5 659.3 507.1C665.1 509.8 669.4 512.4 673.8 515.8C678.1 519.2 681.5 523.1 685.4 527.4C689.2 531.7 693.1 536.6 696.9 541.9C700.8 547.2 704.6 552.9 708.5 559.2C712.3 565.5 716.2 572.7 720.1 579.5C723.9 586.2 727.8 593.4 731.6 599.7C735.5 606.0 739.3 611.5 743.2 617.1C747.1 622.6 750.9 628.4 754.8 633.0C758.6 637.6 762.0 640.7 766.3 644.5C770.7 648.4 775.5 652.7 780.8 656.1C786.1 659.5 791.9 662.4 798.2 664.8C804.4 667.2 811.2 668.9 818.4 670.6C825.6 672.3 832.2 673.6 841.6 674.9C851.0 676.2 869.3 677.8 874.8 678.4"/><path fill="#f8a41f" d="M593.4 492.7C596.8 492.9 606.6 492.9 613.9 494.1C621.2 495.3 629.8 497.7 637.1 499.9C644.3 502.1 651.5 504.5 657.3 507.1C663.1 509.8 667.4 512.4 671.8 515.8C676.1 519.2 679.5 523.1 683.4 527.4C687.2 531.7 691.1 536.6 694.9 541.9C698.8 547.2 702.6 552.9 706.5 559.2C710.3 565.5 714.2 572.7 718.1 579.5C721.9 586.2 725.8 593.4 729.6 599.7C733.5 606.0 737.3 611.5 741.2 617.1C745.1 622.6 748.9 628.4 752.8 633.0C756.6 637.6 760.0 640.7 764.3 644.5C768.7 648.4 773.5 652.7 778.8 656.1C784.1 659.5 789.9 662.4 796.2 664.8C802.4 667.2 809.2 668.9 816.4 670.6C823.6 672.3 830.2 673.6 839.6 674.9C849.0 676.2 867.3 677.8 872.8 678.4L872.8 680.4L591.4 680.4L591.4 492.7Z"/></g><g clip-path="url(#cp3)"><rect x="593.4" y="719.6" width="279.4" height="186.0" fill="#c22f2a"/><path filter="url(#st1)" fill="#dc5a2a" d="M732.6 728.4C730.8 730.8 726.1 736.1 721.9 742.8C717.7 749.6 711.9 759.7 707.5 768.9C703.0 778.0 699.6 788.1 695.3 797.8C691.0 807.4 687.1 817.1 681.4 826.7C675.7 836.3 669.0 846.5 661.2 855.6C653.3 864.8 642.9 874.1 634.3 881.7C625.6 889.2 613.5 897.8 609.4 901.0L553.4 910.6L553.4 714.6Z"/><path filter="url(#st2)" fill="#f8a41f" d="M712.6 728.4C710.8 730.8 706.1 736.1 701.9 742.8C697.7 749.6 691.9 759.7 687.5 768.9C683.0 778.0 679.6 788.1 675.3 797.8C671.0 807.4 667.1 817.1 661.4 826.7C655.7 836.3 649.0 846.5 641.2 855.6C633.3 864.8 622.9 874.1 614.3 881.7C605.6 889.2 593.5 897.8 589.4 901.0L553.4 910.6L553.4 714.6Z"/><path filter="url(#st2)" fill="#8d4a74" opacity=".8" d="M654.4 857.1L667.4 868.7L654.4 881.7L628.4 896.1L596.6 904.8L608.1 888.9L634.2 870.1L645.7 861.4Z"/><path filter="url(#st2)" fill="#3b4a9e" d="M647.2 873.0L660.8 876.5L647.2 886.3L628.4 896.1L593.7 906.0L605.2 893.8L625.5 884.6Z"/><rect x="593.4" y="719.6" width="279.4" height="15.3" fill="#ef9a26"/><path filter="url(#bh2)" fill="#8d4f7d" d="M635.4 728.2H892.8V732.2H635.4z"/><path filter="url(#bh2)" fill="#c9702e" d="M603.4 732.4H892.8V734.8000000000001H603.4z"/><path filter="url(#bh2)" fill="#d07a2c" d="M653.4 720.6H892.8V723.8000000000001H653.4z"/><path filter="url(#bh2)" fill="#a0557a" d="M793.4 724.2H892.8V726.0H793.4z"/><path filter="url(#b0)" fill="#7f4a22" d="M874.3 726.0C870.4 727.2 858.4 731.1 851.1 732.7C843.9 734.3 837.1 734.4 830.9 735.6C824.6 736.8 818.8 737.8 813.5 739.9C808.2 742.1 803.4 745.2 799.1 748.6C794.7 752.0 791.3 756.3 787.5 760.2C783.6 764.0 779.8 768.4 775.9 771.7C772.1 775.1 768.7 777.8 764.3 780.4C760.0 783.1 754.7 785.0 749.9 787.7C745.1 790.3 740.2 792.7 735.4 796.3C730.6 799.9 725.8 804.3 721.0 809.4C716.1 814.4 711.3 820.9 706.5 826.7C701.7 832.5 696.9 838.8 692.0 844.1C687.2 849.4 682.4 853.7 677.6 858.5C672.7 863.3 667.9 868.7 663.1 873.0C658.3 877.3 653.5 881.2 648.6 884.6C643.8 887.9 640.0 890.8 634.2 893.2C628.4 895.6 621.2 896.9 613.9 899.0C606.7 901.2 594.6 905.1 590.8 906.3L590.4 908.6L875.8 908.6Z"/><path d="M623.1 838.2H687.1M623.0 890.2H637.2M612.0 741.6H744.0M629.4 842.5H650.0M603.3 813.2H689.1M593.9 830.3H663.8M630.1 782.3H714.1M625.3 762.8H691.7M598.5 837.3H648.1M601.8 878.7H622.1M615.0 893.3H627.2M631.0 770.2H715.4M600.0 795.6H677.5M605.5 747.5H723.5M620.5 737.4H716.8M626.1 787.3H697.7M612.6 788.2H708.5M632.4 746.1H695.2M627.2 858.9H632.7M608.0 865.1H654.4M595.3 738.3H708.3M601.3 892.3H632.4M614.4 794.6H709.4M623.3 754.4H729.3M594.9 876.8H656.4M607.0 751.7H721.5M607.0 886.3H643.8M605.9 825.6H671.8M596.5 765.7H690.6M633.3 849.0H647.9M632.9 744.8H721.5" stroke="#d4782a" stroke-width=".55" fill="none"/><path d="M687.8 782.7H758.8M671.7 830.2H702.6M728.2 743.1H746.3M701.6 792.6H729.0M692.4 819.5H711.5M664.0 825.9H706.2M720.2 753.7H763.2M708.4 788.0H748.3M659.8 847.1H688.0M678.4 819.2H711.7M685.1 782.5H735.9M674.0 848.5H686.6M686.4 793.2H709.8M710.6 767.6H779.1M706.3 777.7H767.0M685.8 815.3H715.0M703.8 777.9H745.5M699.9 791.7H742.1M714.3 770.0H776.6M672.4 802.4H727.6M708.6 765.2H767.6M678.2 829.1H703.5M702.7 776.1H769.1M668.3 830.4H702.4M675.2 835.1H698.5M663.2 844.9H690.2M718.9 755.6H791.0M698.0 790.8H743.7M669.1 819.3H711.6M692.0 802.5H727.6M693.0 807.3H722.2M665.3 818.2H695.5M698.5 786.7H734.3M685.3 814.3H704.3M684.3 790.1H704.5M705.4 751.9H737.6M693.2 758.7H752.4M700.2 779.8H764.2M716.4 763.7H731.5M689.0 782.6H743.0" stroke="#e0762c" stroke-width=".6" fill="none" opacity=".8"/></g><g clip-path="url(#cp4)"><rect x="593.4" y="946.2" width="279.4" height="186.0" fill="#2f8f5b"/><path fill="#f8a41f" d="M593.4 946.20h117.1v1.28h-117.1zM593.4 947.40h106.9v1.28h-106.9zM700.3 947.40h72.0v1.28h-72.0zM593.4 948.60h121.7v0.88h-121.7zM593.4 949.40h122.4v1.28h-122.4zM593.4 950.60h11.5v0.88h-11.5zM604.9 950.60h201.9v0.88h-201.9zM593.4 951.40h279.4v1.28h-279.4zM593.4 952.60h10.8v0.88h-10.8zM604.2 952.60h155.7v0.88h-155.7zM593.4 953.40h17.3v0.88h-17.3zM593.4 954.20h16.2v0.88h-16.2zM593.4 955.00h279.4v0.88h-279.4zM593.4 955.80h8.9v1.08h-8.9zM593.4 956.80h7.9v0.88h-7.9zM593.4 957.60h279.4v1.68h-279.4zM593.4 959.20h279.4v1.08h-279.4zM593.4 960.20h279.4v0.88h-279.4zM593.4 961.00h279.4v0.88h-279.4zM593.4 961.80h61.6v0.88h-61.6zM593.4 962.60h73.0v1.68h-73.0zM593.4 964.20h23.0v0.88h-23.0zM593.4 965.00h21.7v1.28h-21.7zM593.4 966.20h14.6v0.88h-14.6zM748.2 966.20h124.6v0.88h-124.6zM593.4 967.00h279.4v0.88h-279.4zM593.4 967.80h7.5v1.28h-7.5zM593.4 969.00h30.5v1.68h-30.5zM623.9 969.00h46.8v1.68h-46.8zM593.4 970.60h21.3v0.88h-21.3zM593.4 971.40h33.3v1.28h-33.3zM593.4 972.60h279.4v0.88h-279.4zM593.4 973.40h33.3v0.88h-33.3zM593.4 974.20h11.5v0.88h-11.5zM604.9 974.20h123.5v0.88h-123.5zM593.4 975.00h25.1v0.88h-25.1zM593.4 975.80h87.2v1.08h-87.2zM593.4 976.80h110.8v0.88h-110.8zM593.4 977.60h279.4v1.08h-279.4zM593.4 978.60h24.4v0.88h-24.4zM593.4 979.40h17.8v1.68h-17.8zM694.4 979.40h178.4v1.68h-178.4zM593.4 981.00h11.7v1.08h-11.7zM605.1 981.00h82.5v1.08h-82.5zM593.4 982.00h20.2v1.28h-20.2zM593.4 983.20h11.0v1.68h-11.0zM593.4 984.80h25.0v0.88h-25.0zM593.4 985.60h15.5v0.88h-15.5zM593.4 986.40h11.7v1.08h-11.7zM593.4 987.40h8.7v0.88h-8.7zM602.1 987.40h256.9v0.88h-256.9zM593.4 988.20h13.2v1.68h-13.2zM593.4 989.80h5.4v1.08h-5.4zM593.4 990.80h5.8v1.28h-5.8zM593.4 992.00h13.1v1.68h-13.1zM593.4 993.60h4.2v0.88h-4.2zM593.4 994.40h8.2v1.28h-8.2zM593.4 995.60h7.6v0.88h-7.6zM593.4 996.40h5.5v1.08h-5.5zM593.4 997.40h8.7v1.08h-8.7zM593.4 998.40h3.1v0.88h-3.1zM593.4 999.20h2.9v1.08h-2.9zM593.4 1000.20h10.4v1.08h-10.4zM593.4 1001.20h5.8v1.28h-5.8zM593.4 1002.40h2.7v0.88h-2.7zM593.4 1003.20h257.2v1.08h-257.2zM593.4 1004.20h251.3v0.88h-251.3zM593.4 1005.00h243.7v1.28h-243.7zM593.4 1006.20h242.3v1.28h-242.3zM593.4 1007.40h238.6v1.68h-238.6zM593.4 1009.00h232.1v0.88h-232.1zM593.4 1009.80h227.2v0.88h-227.2zM593.4 1010.60h218.2v1.28h-218.2zM593.4 1011.80h210.9v1.68h-210.9zM593.4 1013.40h198.2v0.88h-198.2zM593.4 1014.20h196.5v1.08h-196.5zM593.4 1015.20h190.8v1.28h-190.8zM593.4 1016.40h184.7v0.88h-184.7zM593.4 1017.20h178.1v1.68h-178.1zM593.4 1018.80h179.7v1.28h-179.7zM593.4 1020.00h166.7v1.08h-166.7zM593.4 1021.00h173.1v1.08h-173.1zM593.4 1022.00h161.0v1.28h-161.0zM593.4 1023.20h163.4v0.88h-163.4zM593.4 1024.00h162.0v1.08h-162.0zM593.4 1025.00h156.6v0.88h-156.6zM593.4 1025.80h154.6v0.88h-154.6zM593.4 1026.60h148.9v0.88h-148.9zM593.4 1027.40h150.4v1.08h-150.4zM593.4 1028.40h148.2v0.88h-148.2zM593.4 1029.20h154.3v0.88h-154.3zM593.4 1030.00h140.4v1.28h-140.4zM593.4 1031.20h141.5v0.88h-141.5zM593.4 1032.00h138.7v1.08h-138.7zM593.4 1033.00h136.3v0.88h-136.3zM593.4 1033.80h141.6v1.08h-141.6zM593.4 1034.80h136.2v0.88h-136.2zM593.4 1035.60h131.2v1.28h-131.2zM593.4 1036.80h124.1v1.28h-124.1zM593.4 1038.00h111.2v0.88h-111.2zM593.4 1038.80h98.0v1.08h-98.0zM593.4 1039.80h90.4v1.68h-90.4zM593.4 1041.40h86.1v0.88h-86.1zM593.4 1042.20h90.0v1.28h-90.0zM593.4 1043.40h82.7v0.88h-82.7zM593.4 1044.20h74.8v1.28h-74.8zM593.4 1045.40h75.7v0.88h-75.7zM593.4 1046.20h75.0v0.88h-75.0zM593.4 1047.00h70.7v1.08h-70.7zM593.4 1048.00h77.9v0.88h-77.9zM593.4 1048.80h69.0v0.88h-69.0zM593.4 1049.60h68.3v0.88h-68.3zM593.4 1050.40h65.4v1.68h-65.4zM593.4 1052.00h64.1v0.88h-64.1zM593.4 1052.80h64.8v1.28h-64.8zM593.4 1054.00h65.5v0.88h-65.5zM593.4 1054.80h63.5v1.08h-63.5zM593.4 1055.80h61.1v0.88h-61.1zM593.4 1056.60h63.4v1.08h-63.4zM593.4 1057.60h59.5v1.08h-59.5zM593.4 1058.60h55.6v1.68h-55.6zM593.4 1060.20h58.3v0.88h-58.3zM593.4 1061.00h51.3v0.88h-51.3zM593.4 1065.40h9.3v1.28h-9.3zM593.4 1068.60h28.8v1.08h-28.8zM593.4 1069.60h31.3v1.08h-31.3zM593.4 1070.60h31.4v1.68h-31.4zM593.4 1073.00h32.6v0.88h-32.6zM593.4 1075.00h50.8v0.88h-50.8zM593.4 1075.00h8.9v0.88h-8.9zM593.4 1076.60h51.5v1.28h-51.5zM593.4 1076.60h34.5v1.28h-34.5zM593.4 1077.80h49.5v1.68h-49.5zM593.4 1080.20h20.8v0.88h-20.8zM593.4 1083.20h28.0v0.88h-28.0zM593.4 1088.80h32.1v0.88h-32.1zM593.4 1089.60h43.0v0.88h-43.0zM593.4 1089.60h22.3v0.88h-22.3zM593.4 1092.00h23.4v1.68h-23.4zM593.4 1093.60h29.7v0.88h-29.7zM593.4 1096.80h29.6v1.68h-29.6zM593.4 1100.20h36.5v1.08h-36.5zM593.4 1108.20h42.1v1.08h-42.1zM593.4 1108.20h11.0v1.08h-11.0zM593.4 1110.80h41.0v1.68h-41.0zM593.4 1124.00h31.2v1.28h-31.2zM593.4 1125.20h15.2v1.28h-15.2zM593.4 1128.00h10.7v1.28h-10.7zM593.4 1129.20h19.4v0.88h-19.4zM593.4 1130.00h16.5v0.88h-16.5zM593.4 1130.00h25.2v0.88h-25.2z"/><path fill="#a05a3a" d="M710.5 946.20h104.3v1.28h-104.3zM854.1 971.40h18.7v1.28h-18.7zM680.6 975.80h154.8v1.08h-154.8zM677.0 983.20h43.8v1.68h-43.8z"/><path fill="#b8292b" d="M814.7 946.20h55.4v1.28h-55.4zM844.1 949.40h28.7v1.28h-28.7zM872.2 950.60h0.6v0.88h-0.6zM609.6 954.20h79.9v0.88h-79.9zM791.0 985.60h81.2v0.88h-81.2zM605.1 986.40h260.4v1.08h-260.4zM865.5 986.40h4.8v1.08h-4.8zM606.6 988.20h256.4v1.68h-256.4zM854.3 988.20h18.5v1.68h-18.5zM598.8 989.80h268.9v1.08h-268.9zM851.9 989.80h20.9v1.08h-20.9zM606.5 992.00h252.7v1.68h-252.7zM859.2 992.00h4.6v1.68h-4.6zM597.6 993.60h252.9v0.88h-252.9zM601.6 994.40h258.1v1.28h-258.1zM601.0 995.60h246.2v0.88h-246.2zM598.9 996.40h254.8v1.08h-254.8zM602.1 997.40h254.2v1.08h-254.2zM596.5 998.40h255.1v0.88h-255.1zM851.6 998.40h2.5v0.88h-2.5zM596.3 999.20h245.3v1.08h-245.3zM603.8 1000.20h244.9v1.08h-244.9zM848.7 1000.20h2.3v1.08h-2.3zM599.2 1001.20h252.6v1.28h-252.6zM851.8 1001.20h5.5v1.28h-5.5zM596.1 1002.40h248.7v0.88h-248.7zM844.8 1002.40h4.3v0.88h-4.3zM818.5 1004.20h26.2v0.88h-26.2zM797.5 1005.00h39.6v1.28h-39.6zM862.2 1025.00h10.6v0.88h-10.6zM686.9 1030.00h46.9v1.28h-46.9zM857.4 1033.00h15.4v0.88h-15.4zM852.8 1038.80h20.0v1.08h-20.0zM645.2 1047.00h18.9v1.08h-18.9zM869.1 1048.80h3.7v0.88h-3.7zM593.4 1052.00h64.1v0.88h-64.1zM607.7 1052.80h50.5v1.28h-50.5zM593.4 1061.80h55.8v0.88h-55.8zM854.6 1061.80h18.2v0.88h-18.2zM593.4 1062.60h54.6v1.28h-54.6zM593.4 1063.80h53.8v1.68h-53.8zM593.4 1065.40h53.4v1.28h-53.4zM593.4 1066.60h52.6v1.28h-52.6zM593.4 1068.60h51.7v1.08h-51.7zM593.4 1069.60h55.6v1.08h-55.6zM593.4 1070.60h52.5v1.68h-52.5zM593.4 1072.20h53.3v0.88h-53.3zM593.4 1073.00h53.8v0.88h-53.8zM593.4 1073.80h50.9v1.28h-50.9zM593.4 1075.80h52.0v0.88h-52.0zM593.4 1079.40h53.0v0.88h-53.0zM593.4 1080.20h48.7v0.88h-48.7zM593.4 1081.00h49.2v1.08h-49.2zM593.4 1082.00h49.7v1.28h-49.7zM593.4 1083.20h52.1v0.88h-52.1zM593.4 1084.00h51.7v0.88h-51.7zM593.4 1084.80h47.9v1.08h-47.9zM593.4 1085.80h45.9v0.88h-45.9zM593.4 1086.60h46.9v1.08h-46.9zM593.4 1087.60h47.1v1.28h-47.1zM593.4 1088.80h47.5v0.88h-47.5zM856.4 1088.80h16.4v0.88h-16.4zM593.4 1090.40h41.9v1.68h-41.9zM593.4 1092.00h43.5v1.68h-43.5zM593.4 1093.60h43.7v0.88h-43.7zM593.4 1094.40h42.5v0.88h-42.5zM593.4 1095.20h47.0v1.68h-47.0zM593.4 1096.80h44.7v1.68h-44.7zM593.4 1098.40h45.6v0.88h-45.6zM593.4 1099.20h47.1v1.08h-47.1zM593.4 1102.40h46.6v1.68h-46.6zM593.4 1104.00h41.5v1.08h-41.5zM593.4 1105.00h43.6v0.88h-43.6zM593.4 1105.80h40.4v1.68h-40.4zM593.4 1107.40h37.0v0.88h-37.0zM593.4 1109.20h37.5v1.68h-37.5zM593.4 1112.40h34.5v0.88h-34.5zM593.4 1113.20h38.4v1.08h-38.4zM593.4 1114.20h33.5v0.88h-33.5zM593.4 1115.00h30.6v1.28h-30.6zM593.4 1116.20h35.7v1.08h-35.7zM864.9 1116.20h7.9v1.08h-7.9zM593.4 1117.20h29.4v1.28h-29.4zM593.4 1118.40h27.3v0.88h-27.3zM593.4 1119.20h25.1v1.68h-25.1zM593.4 1120.80h33.3v0.88h-33.3zM593.4 1121.60h28.7v0.88h-28.7zM593.4 1122.40h23.8v1.68h-23.8zM593.4 1124.00h25.1v1.28h-25.1zM593.4 1125.20h20.4v1.28h-20.4zM593.4 1126.40h16.3v1.68h-16.3zM593.4 1128.00h13.8v1.28h-13.8zM593.4 1129.20h11.9v0.88h-11.9zM593.4 1130.80h4.5v0.88h-4.5zM593.4 1131.60h6.5v1.68h-6.5z"/><path fill="#3b4a9e" d="M870.1 946.20h2.7v1.28h-2.7zM772.3 947.40h100.5v1.28h-100.5zM793.7 949.40h50.4v1.28h-50.4zM610.7 953.40h212.2v0.88h-212.2zM791.3 955.80h81.5v1.08h-81.5zM846.8 961.80h26.0v0.88h-26.0zM666.4 962.60h119.8v1.68h-119.8zM786.2 962.60h86.6v1.68h-86.6zM615.1 965.00h113.8v1.28h-113.8zM670.8 969.00h168.8v1.68h-168.8zM683.6 975.00h189.2v0.88h-189.2zM835.4 975.80h37.4v1.08h-37.4zM809.0 978.60h63.8v0.88h-63.8zM790.1 981.00h82.7v1.08h-82.7zM720.8 983.20h152.0v1.68h-152.0zM608.9 985.60h182.1v0.88h-182.1zM659.0 1010.60h152.6v1.28h-152.6zM700.4 1020.00h59.7v1.08h-59.7zM593.4 1067.80h2.2v0.88h-2.2zM593.4 1072.20h4.8v0.88h-4.8zM593.4 1075.00h1.9v0.88h-1.9zM593.4 1077.80h3.8v1.68h-3.8zM593.4 1081.00h2.0v1.08h-2.0zM593.4 1085.80h1.6v0.88h-1.6zM593.4 1086.60h4.8v1.08h-4.8zM593.4 1100.20h2.3v1.08h-2.3zM593.4 1110.80h1.3v1.68h-1.3zM593.4 1113.20h3.4v1.08h-3.4zM593.4 1116.20h4.1v1.08h-4.1zM593.4 1119.20h4.7v1.68h-4.7zM593.4 1120.80h4.0v0.88h-4.0zM593.4 1131.60h4.3v1.68h-4.3z"/><path fill="#7a4a6a" d="M715.1 948.60h157.7v0.88h-157.7zM655.0 961.80h191.8v0.88h-191.8zM728.8 965.00h144.0v1.28h-144.0zM613.6 982.00h107.9v1.28h-107.9zM604.4 983.20h72.6v1.68h-72.6z"/><path fill="#5a3f8c" d="M715.8 949.40h77.9v1.28h-77.9zM806.9 950.60h65.3v0.88h-65.3zM822.8 953.40h48.2v0.88h-48.2zM689.5 954.20h149.1v0.88h-149.1zM838.7 954.20h34.1v0.88h-34.1zM602.3 955.80h189.0v1.08h-189.0zM601.3 956.80h163.1v0.88h-163.1zM764.3 956.80h108.5v0.88h-108.5zM616.4 964.20h106.3v0.88h-106.3zM722.7 964.20h64.4v0.88h-64.4zM787.1 964.20h85.7v0.88h-85.7zM608.0 966.20h140.1v0.88h-140.1zM600.9 967.80h154.6v1.28h-154.6zM755.4 967.80h117.4v1.28h-117.4zM839.6 969.00h33.2v1.68h-33.2zM614.7 970.60h130.2v0.88h-130.2zM744.9 970.60h127.9v0.88h-127.9zM626.7 973.40h110.8v0.88h-110.8zM737.5 973.40h135.3v0.88h-135.3zM867.1 974.20h5.7v0.88h-5.7zM618.5 975.00h65.1v0.88h-65.1zM860.2 976.80h12.6v0.88h-12.6zM617.8 978.60h66.2v0.88h-66.2zM611.2 979.40h83.2v1.68h-83.2zM687.7 981.00h102.4v1.08h-102.4zM618.4 984.80h84.1v0.88h-84.1zM871.5 984.80h1.3v0.88h-1.3zM872.2 985.60h0.6v0.88h-0.6zM863.0 988.20h6.5v1.68h-6.5zM867.7 989.80h1.6v1.08h-1.6zM851.1 990.80h10.1v1.28h-10.1zM850.5 993.60h10.2v0.88h-10.2zM847.2 995.60h11.2v0.88h-11.2zM856.4 997.40h1.9v1.08h-1.9zM841.6 999.20h8.5v1.08h-8.5zM817.9 1006.20h17.8v1.28h-17.8zM776.6 1009.80h44.0v0.88h-44.0zM662.3 1015.20h121.9v1.28h-121.9zM755.9 1017.20h15.6v1.68h-15.6zM666.9 1025.00h83.2v0.88h-83.2zM593.4 1043.40h82.7v0.88h-82.7zM593.4 1060.20h58.3v0.88h-58.3z"/><path fill="#6a4f9a" d="M759.9 952.60h112.9v0.88h-112.9zM871.0 953.40h1.8v0.88h-1.8zM704.2 976.80h156.0v0.88h-156.0zM684.0 978.60h124.9v0.88h-124.9zM721.6 982.00h151.2v1.28h-151.2z"/><path fill="#8fc0e0" d="M626.7 971.40h227.4v1.28h-227.4zM728.4 974.20h138.7v0.88h-138.7zM702.5 984.80h168.9v0.88h-168.9zM611.5 1009.00h213.9v0.88h-213.9zM662.0 1014.20h127.8v1.08h-127.8zM698.0 1016.40h80.1v0.88h-80.1zM639.0 1018.80h134.1v1.28h-134.1zM676.0 1021.00h90.5v1.08h-90.5zM735.3 1023.20h21.5v0.88h-21.5zM656.0 1024.00h99.5v1.08h-99.5zM719.9 1031.20h15.1v0.88h-15.1zM704.7 1033.80h30.3v1.08h-30.3zM688.4 1036.80h29.1v1.28h-29.1zM600.8 1038.00h103.8v0.88h-103.8zM633.6 1045.40h35.5v0.88h-35.5zM635.1 1056.60h21.6v1.08h-21.6z"/><path fill="#8a5a30" d="M858.9 987.40h11.0v0.88h-11.0zM865.1 987.40h7.7v0.88h-7.7zM862.1 992.00h10.7v1.68h-10.7zM859.7 994.40h3.0v1.28h-3.0zM857.6 999.20h15.2v1.08h-15.2zM864.8 1002.40h8.0v0.88h-8.0zM759.0 1007.40h73.0v1.68h-73.0zM673.2 1011.80h131.1v1.68h-131.1zM700.2 1022.00h54.2v1.28h-54.2zM862.1 1022.00h10.7v1.28h-10.7zM870.3 1028.40h2.5v0.88h-2.5zM868.4 1029.20h4.4v0.88h-4.4zM857.8 1033.80h15.0v1.08h-15.0zM855.2 1039.80h17.6v1.68h-17.6zM853.3 1041.40h19.5v0.88h-19.5zM857.5 1048.00h15.3v0.88h-15.3zM856.5 1052.80h16.3v1.28h-16.3zM615.7 1054.80h41.2v1.08h-41.2zM852.7 1054.80h20.1v1.08h-20.1zM593.4 1057.60h59.5v1.08h-59.5zM593.4 1061.00h51.3v0.88h-51.3zM850.3 1066.60h22.5v1.28h-22.5zM866.2 1069.60h6.6v1.08h-6.6zM865.5 1072.20h7.3v0.88h-7.3zM869.1 1076.60h3.7v1.28h-3.7zM869.7 1077.80h3.1v1.68h-3.1zM848.0 1079.40h24.8v0.88h-24.8zM866.1 1080.20h6.7v0.88h-6.7zM856.9 1082.00h15.9v1.28h-15.9zM852.4 1086.60h20.4v1.08h-20.4zM867.4 1094.40h5.4v0.88h-5.4zM867.3 1098.40h5.5v0.88h-5.5zM855.0 1107.40h17.8v0.88h-17.8zM861.0 1108.20h11.8v1.08h-11.8zM860.0 1126.40h12.8v1.68h-12.8z"/><path fill="#c9652c" d="M599.2 990.80h251.9v1.28h-251.9zM593.4 1067.80h52.6v0.88h-52.6zM593.4 1100.20h44.8v1.08h-44.8zM593.4 1101.20h43.1v1.28h-43.1z"/><path fill="#6a7a3a" d="M854.2 995.60h18.6v0.88h-18.6zM848.3 1018.80h24.5v1.28h-24.5zM850.0 1046.20h22.8v0.88h-22.8zM867.5 1047.00h5.3v1.08h-5.3zM860.9 1061.00h11.9v0.88h-11.9zM869.5 1070.60h3.3v1.68h-3.3zM851.9 1083.20h20.9v0.88h-20.9zM862.8 1084.00h10.0v0.88h-10.0zM868.4 1084.80h4.4v1.08h-4.4zM848.6 1102.40h24.2v1.68h-24.2zM862.7 1105.00h10.1v0.88h-10.1zM856.8 1113.20h16.0v1.08h-16.0z"/></g><g clip-path="url(#cp5)"><rect x="593.4" y="1172.6" width="279.4" height="186.0" fill="#f8a41f"/><path fill="#7a4a22" d="M773.0 1171.9C775.4 1172.7 782.2 1174.6 787.5 1176.6C792.8 1178.5 799.1 1182.0 804.8 1183.8C810.6 1185.6 816.4 1186.6 822.2 1187.6C828.0 1188.5 835.0 1188.5 839.6 1189.6C844.1 1190.6 847.0 1191.8 849.7 1193.9C852.3 1196.1 853.8 1198.7 855.5 1202.6C857.2 1206.5 858.6 1211.3 859.8 1217.1C861.0 1222.9 861.7 1229.1 862.7 1237.3C863.7 1245.5 864.7 1256.6 865.6 1266.2C866.5 1275.9 867.2 1285.5 867.9 1295.2C868.6 1304.8 869.3 1314.9 869.9 1324.1C870.6 1333.3 871.4 1344.1 872.0 1350.1C872.5 1356.2 872.9 1358.8 873.1 1360.5L875.8 1361.6L875.8 1169.6L793.4 1169.6Z"/><path filter="url(#bs)" fill="#b9322d" d="M787.5 1175.4C790.4 1176.7 799.1 1181.0 804.8 1182.9C810.6 1184.9 816.4 1186.0 822.2 1187.0C828.0 1188.0 835.0 1187.9 839.6 1189.0C844.1 1190.1 847.0 1191.2 849.7 1193.3C852.3 1195.5 853.8 1198.1 855.5 1202.0C857.2 1206.0 858.6 1211.2 859.8 1217.1C861.0 1223.0 861.7 1229.1 862.7 1237.3C863.7 1245.5 864.7 1256.6 865.6 1266.2C866.5 1275.9 867.2 1285.5 867.9 1295.2C868.6 1304.8 869.3 1314.9 869.9 1324.1C870.6 1333.3 871.6 1345.8 872.0 1350.1L872.8 1350.1L872.0 1324.1L870.8 1295.2L870.2 1266.2L869.6 1237.3L868.2 1218.5L865.6 1204.9L860.7 1195.1L852.6 1188.7L839.6 1185.5L822.2 1183.5L804.8 1179.5L791.8 1174.8Z"/><path fill="#f8a41f" d="M773.0 1171.9C775.4 1172.7 782.2 1174.6 787.5 1176.6C792.8 1178.5 799.1 1182.0 804.8 1183.8C810.6 1185.6 816.4 1186.6 822.2 1187.6C828.0 1188.5 835.0 1188.5 839.6 1189.6C844.1 1190.6 847.0 1191.8 849.7 1193.9C852.3 1196.1 853.8 1198.7 855.5 1202.6C857.2 1206.5 858.6 1211.3 859.8 1217.1C861.0 1222.9 861.7 1229.1 862.7 1237.3C863.7 1245.5 864.7 1256.6 865.6 1266.2C866.5 1275.9 867.2 1285.5 867.9 1295.2C868.6 1304.8 869.3 1314.9 869.9 1324.1C870.6 1333.3 871.4 1344.1 872.0 1350.1C872.5 1356.2 872.9 1358.8 873.1 1360.5L590.4 1361.6L590.4 1169.6Z"/></g><g clip-path="url(#cp6)"><rect x="593.4" y="1400.1" width="279.4" height="186.0" fill="#3c4a9d"/><g filter="url(#st6)"><path fill="#4472c0" d="M715.2 1439.2L903.2 1424.7L903.2 1609.8L845.3 1580.9L787.5 1517.3L747.0 1485.5Z"/><path fill="#4a86cc" d="M758.6 1479.7L903.2 1476.8L903.2 1592.5L845.3 1575.1L793.3 1520.2Z"/><path fill="#3f8f82" d="M726.7 1456.0L903.2 1454.2L903.2 1474.5L741.2 1475.6Z"/><path fill="#5cb2e0" d="M784.6 1502.8L845.3 1495.6L855.5 1554.9L833.8 1556.3L804.8 1531.7Z"/><path fill="#8a5a3a" d="M849.7 1413.1L903.2 1404.5L903.2 1485.5L855.5 1482.6Z"/><path fill="#8a6a5c" d="M859.8 1482.6L903.2 1482.6L903.2 1563.6L864.1 1563.6Z"/><path fill="#a05a5a" d="M864.1 1563.6L903.2 1563.6L903.2 1592.5L869.9 1592.5Z"/></g><rect x="593.4" y="1400.1" width="279.4" height="186.0" filter="url(#txw)" opacity="0.2"/><rect x="593.4" y="1400.1" width="279.4" height="186.0" filter="url(#txk)" opacity="0.25"/><path filter="url(#bh2)" fill="none" stroke="#38479c" stroke-width="5" d="M595.4 1400.1C598.8 1401.3 607.7 1404.0 615.9 1407.4C624.2 1410.7 635.2 1416.0 644.9 1420.4C654.5 1424.7 664.1 1429.1 673.8 1433.4C683.4 1437.7 694.5 1442.6 702.7 1446.4C710.9 1450.3 718.4 1453.4 723.0 1456.5C727.5 1459.7 727.8 1461.8 730.2 1465.2C732.6 1468.6 734.3 1473.4 737.4 1476.8C740.6 1480.2 744.2 1482.1 749.0 1485.5C753.8 1488.8 759.6 1492.2 766.3 1497.0C773.1 1501.9 781.8 1508.1 789.5 1514.4C797.2 1520.7 805.4 1528.4 812.6 1534.6C819.9 1540.9 826.1 1546.2 832.9 1552.0C839.6 1557.8 846.1 1563.6 853.1 1569.3C860.1 1575.1 871.2 1583.8 874.8 1586.7"/><path fill="#f8a41f" d="M593.4 1400.1C596.8 1401.3 605.7 1404.0 613.9 1407.4C622.2 1410.7 633.2 1416.0 642.9 1420.4C652.5 1424.7 662.1 1429.1 671.8 1433.4C681.4 1437.7 692.5 1442.6 700.7 1446.4C708.9 1450.3 716.4 1453.4 721.0 1456.5C725.5 1459.7 725.8 1461.8 728.2 1465.2C730.6 1468.6 732.3 1473.4 735.4 1476.8C738.6 1480.2 742.2 1482.1 747.0 1485.5C751.8 1488.8 757.6 1492.2 764.3 1497.0C771.1 1501.9 779.8 1508.1 787.5 1514.4C795.2 1520.7 803.4 1528.4 810.6 1534.6C817.9 1540.9 824.1 1546.2 830.9 1552.0C837.6 1557.8 844.1 1563.6 851.1 1569.3C858.1 1575.1 869.2 1583.8 872.8 1586.7L591.4 1590.1L591.4 1400.1Z"/></g>
<text class="t" x="885.6" y="124.6">Asian</text>
<text class="t" x="885.6" y="149.8">7,422</text>
<text class="t" x="885.6" y="336.6">Black or African</text>
<text class="t" x="885.6" y="361.8">American</text>
<text class="t" x="885.6" y="387.0">50,064</text>
<text class="t" x="885.6" y="575.6">Hispanic or</text>
<text class="t" x="885.6" y="600.8">Latino</text>
<text class="t" x="885.6" y="626.0">41,938</text>
<text class="t" x="885.6" y="789.2">Middle Eastern</text>
<text class="t" x="885.6" y="814.4">or North African</text>
<text class="t" x="885.6" y="839.6">1,301</text>
<text class="t" x="885.6" y="1007.2">Native Hawaiian</text>
<text class="t" x="885.6" y="1032.4">or Other Pacific</text>
<text class="t" x="885.6" y="1057.6">Islander</text>
<text class="t" x="885.6" y="1082.8">237</text>
<text class="t" x="885.6" y="1268.5">White</text>
<text class="t" x="885.6" y="1293.7">125,843</text>
<text class="t" x="885.6" y="1481.4">More than one</text>
<text class="t" x="885.6" y="1506.6">population</text>
<text class="t" x="885.6" y="1531.8">9,216</text>
</svg></body></html>
